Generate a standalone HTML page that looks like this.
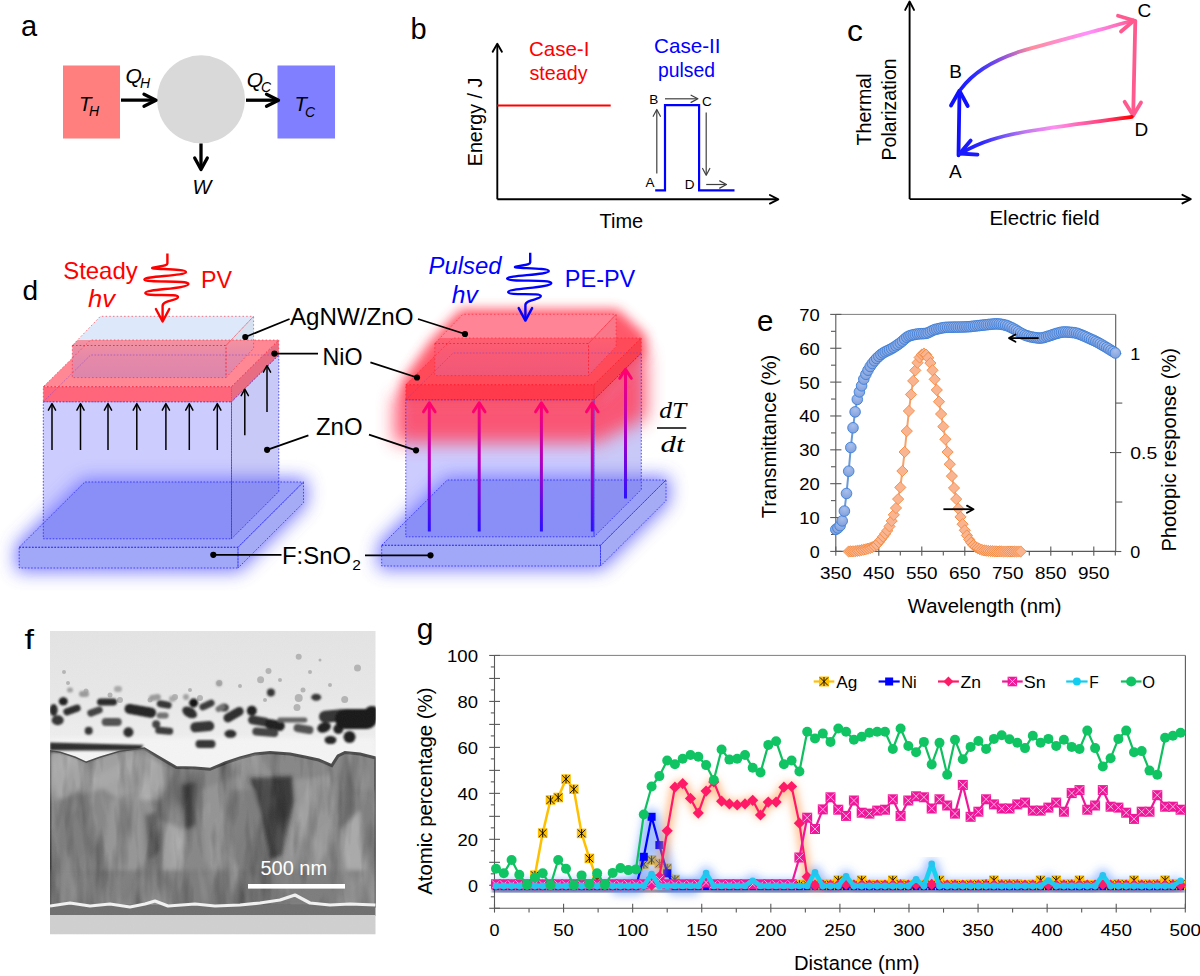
<!DOCTYPE html>
<html><head><meta charset="utf-8"><style>html,body{margin:0;padding:0;background:#fff;}svg{display:block;}</style></head><body><svg width="1200" height="976" viewBox="0 0 1200 976"><defs>
<filter id="blur2" x="-20%" y="-20%" width="140%" height="140%"><feGaussianBlur stdDeviation="2"/></filter>
<filter id="blur4" x="-30%" y="-30%" width="160%" height="160%"><feGaussianBlur stdDeviation="4"/></filter>
<filter id="blur6" x="-30%" y="-30%" width="160%" height="160%"><feGaussianBlur stdDeviation="6"/></filter>
<filter id="blur8" x="-40%" y="-40%" width="180%" height="180%"><feGaussianBlur stdDeviation="8"/></filter>
<filter id="blurR" x="-40%" y="-40%" width="180%" height="180%"><feGaussianBlur stdDeviation="9"/></filter>
<filter id="blur1" x="-20%" y="-20%" width="140%" height="140%"><feGaussianBlur stdDeviation="1"/></filter>
<filter id="blur05" x="-20%" y="-20%" width="140%" height="140%"><feGaussianBlur stdDeviation="0.6"/></filter>
<linearGradient id="gBC" gradientUnits="userSpaceOnUse" x1="960" y1="0" x2="1134" y2="0">
 <stop offset="0" stop-color="#1a1aff"/><stop offset="0.1" stop-color="#3030ff"/><stop offset="0.24" stop-color="#8a50e0"/>
 <stop offset="0.41" stop-color="#ff8c9c"/><stop offset="0.74" stop-color="#ff90ff"/><stop offset="1" stop-color="#ff5a90"/></linearGradient>
<linearGradient id="gDA" gradientUnits="userSpaceOnUse" x1="1132" y1="0" x2="960" y2="0">
 <stop offset="0" stop-color="#ff0000"/><stop offset="0.15" stop-color="#ff3a70"/><stop offset="0.45" stop-color="#ff90f0"/>
 <stop offset="0.62" stop-color="#c078f0"/><stop offset="0.76" stop-color="#6a50f8"/><stop offset="0.88" stop-color="#2a24ff"/><stop offset="1" stop-color="#1a1aff"/></linearGradient>
<linearGradient id="gArr" gradientUnits="objectBoundingBox" x1="0" y1="1" x2="0" y2="0">
 <stop offset="0" stop-color="#2a10ff"/><stop offset="0.55" stop-color="#b000c0"/><stop offset="1" stop-color="#ff0070"/></linearGradient>
<linearGradient id="gZnoR" gradientUnits="userSpaceOnUse" x1="0" y1="395" x2="0" y2="490">
 <stop offset="0" stop-color="#ff3050"/><stop offset="0.35" stop-color="#ff6078"/><stop offset="0.7" stop-color="#e0b0d8" stop-opacity="0.6"/><stop offset="1" stop-color="#ccccff" stop-opacity="0"/></linearGradient>
<linearGradient id="gAov" gradientUnits="objectBoundingBox" x1="0" y1="0" x2="0" y2="1">
 <stop offset="0" stop-color="#f3929f"/><stop offset="0.4" stop-color="#e78aa8"/><stop offset="1" stop-color="#dd85ac"/></linearGradient>
<linearGradient id="gAovR" gradientUnits="objectBoundingBox" x1="0" y1="0" x2="0" y2="1">
 <stop offset="0" stop-color="#ff5f70"/><stop offset="0.4" stop-color="#f85a74"/><stop offset="1" stop-color="#f05878"/></linearGradient>
<radialGradient id="gCirc" cx="0.5" cy="0.3" r="0.7">
 <stop offset="0" stop-color="#a9bfeb"/><stop offset="1" stop-color="#7f9fdc"/></radialGradient>
</defs>
<rect x="0" y="0" width="1200" height="976" fill="#fff"/>
<text x="21" y="36" font-family="Liberation Sans, sans-serif" font-size="29" fill="#000" >a</text>
<rect x="63" y="65.5" width="57" height="73" fill="#ff7f7f"/>
<rect x="277.5" y="65.5" width="57.5" height="73" fill="#7f7fff"/>
<circle cx="201" cy="99.3" r="44" fill="#d9d9d9"/>
<line x1="121" y1="100.2" x2="155" y2="100.2" stroke="#000" stroke-width="3.3" />
<path d="M144,94.2 L156,100.2 L144,106.2" stroke="#000" stroke-width="3.3" fill="none" stroke-linecap="round" stroke-linejoin="round"/>
<line x1="246" y1="100.2" x2="278" y2="100.2" stroke="#000" stroke-width="3.3" />
<path d="M266.5,94.2 L278.5,100.2 L266.5,106.2" stroke="#000" stroke-width="3.3" fill="none" stroke-linecap="round" stroke-linejoin="round"/>
<line x1="201" y1="143.5" x2="201" y2="168" stroke="#000" stroke-width="3.3" />
<path d="M194.7,158.0 L201,169.5 L207.3,158.0" stroke="#000" stroke-width="3.3" fill="none" stroke-linecap="round" stroke-linejoin="round"/>
<text x="79" y="111" font-family="Liberation Sans, sans-serif" font-size="21" fill="#000" font-style="italic" textLength="12.5" lengthAdjust="spacingAndGlyphs" >T</text>
<text x="89" y="115.7" font-family="Liberation Sans, sans-serif" font-size="14" fill="#000" font-style="italic" >H</text>
<text x="125.5" y="82.5" font-family="Liberation Sans, sans-serif" font-size="21" fill="#000" font-style="italic" >Q</text>
<text x="140" y="88" font-family="Liberation Sans, sans-serif" font-size="14" fill="#000" font-style="italic" >H</text>
<text x="246.8" y="86.8" font-family="Liberation Sans, sans-serif" font-size="21" fill="#000" font-style="italic" >Q</text>
<text x="261" y="92.3" font-family="Liberation Sans, sans-serif" font-size="14" fill="#000" font-style="italic" >C</text>
<text x="294.5" y="111" font-family="Liberation Sans, sans-serif" font-size="21" fill="#000" font-style="italic" textLength="12.5" lengthAdjust="spacingAndGlyphs" >T</text>
<text x="305" y="117" font-family="Liberation Sans, sans-serif" font-size="14" fill="#000" font-style="italic" >C</text>
<text x="192.5" y="194" font-family="Liberation Sans, sans-serif" font-size="20" fill="#000" font-style="italic" >W</text>
<text x="410.5" y="39" font-family="Liberation Sans, sans-serif" font-size="29" fill="#000" >b</text>
<line x1="497.3" y1="199.3" x2="497.3" y2="45" stroke="#000" stroke-width="1.9" />
<path d="M492.7,51.8 L497.3,43.8 L501.90000000000003,51.8" stroke="#000" stroke-width="1.9" fill="none" stroke-linecap="round" stroke-linejoin="round"/>
<line x1="497.3" y1="199.3" x2="776.5" y2="199.3" stroke="#000" stroke-width="1.9" />
<path d="M769.9,195.0 L778.3,199.3 L769.9,203.60000000000002" stroke="#000" stroke-width="1.9" fill="none" stroke-linecap="round" stroke-linejoin="round"/>
<line x1="497.3" y1="105.4" x2="610.7" y2="105.4" stroke="#ff0000" stroke-width="2" />
<path d="M655.2,190.3 L665,190.3 L665,105.2 L699.1,105.2 L699.1,190.3 L734.5,190.3" stroke="#0000ff" stroke-width="2.2" fill="none" />
<line x1="656.8" y1="173.4" x2="656.8" y2="110" stroke="#404040" stroke-width="1.2" />
<path d="M653.1999999999999,116.3 L656.8,109.5 L660.4,116.3" stroke="#404040" stroke-width="1.2" fill="none" stroke-linecap="round" stroke-linejoin="round"/>
<line x1="665" y1="98.8" x2="697" y2="98.8" stroke="#404040" stroke-width="1.2" />
<path d="M691.1,95.2 L697.9,98.8 L691.1,102.39999999999999" stroke="#404040" stroke-width="1.2" fill="none" stroke-linecap="round" stroke-linejoin="round"/>
<line x1="706.2" y1="112.6" x2="706.2" y2="174.5" stroke="#404040" stroke-width="1.2" />
<path d="M702.6,168.5 L706.2,175.3 L709.8000000000001,168.5" stroke="#404040" stroke-width="1.2" fill="none" stroke-linecap="round" stroke-linejoin="round"/>
<line x1="706.2" y1="184.5" x2="725.5" y2="184.5" stroke="#404040" stroke-width="1.2" />
<path d="M719.7,180.9 L726.5,184.5 L719.7,188.1" stroke="#404040" stroke-width="1.2" fill="none" stroke-linecap="round" stroke-linejoin="round"/>
<text x="649.2" y="103.6" font-family="Liberation Sans, sans-serif" font-size="13.5" fill="#000" >B</text>
<text x="702" y="106.4" font-family="Liberation Sans, sans-serif" font-size="13.5" fill="#000" >C</text>
<text x="645.5" y="187" font-family="Liberation Sans, sans-serif" font-size="13.5" fill="#000" >A</text>
<text x="684.8" y="189.4" font-family="Liberation Sans, sans-serif" font-size="13.5" fill="#000" >D</text>
<text x="529" y="55.9" font-family="Liberation Sans, sans-serif" font-size="21" fill="#ff0000" textLength="60.4" lengthAdjust="spacingAndGlyphs" >Case-I</text>
<text x="529.5" y="79.9" font-family="Liberation Sans, sans-serif" font-size="21" fill="#ff0000" textLength="58" lengthAdjust="spacingAndGlyphs" >steady</text>
<text x="654" y="52.75" font-family="Liberation Sans, sans-serif" font-size="21" fill="#0000ff" textLength="66.6" lengthAdjust="spacingAndGlyphs" >Case-II</text>
<text x="658" y="76.9" font-family="Liberation Sans, sans-serif" font-size="21" fill="#0000ff" textLength="57" lengthAdjust="spacingAndGlyphs" >pulsed</text>
<text x="0" y="0" transform="translate(482.3,166.2) rotate(-90)" font-family="Liberation Sans" font-size="21" textLength="88.6" lengthAdjust="spacingAndGlyphs">Energy / J</text>
<text x="599.5" y="227.5" font-family="Liberation Sans, sans-serif" font-size="21" fill="#000" textLength="43.7" lengthAdjust="spacingAndGlyphs" >Time</text>
<text x="847" y="40.7" font-family="Liberation Sans, sans-serif" font-size="29.5" fill="#000" textLength="15.9" lengthAdjust="spacingAndGlyphs" >c</text>
<line x1="909.6" y1="199" x2="909.6" y2="3" stroke="#000" stroke-width="1.9" />
<path d="M905.2,9.9 L909.6,1.5 L914.0,9.9" stroke="#000" stroke-width="1.9" fill="none" stroke-linecap="round" stroke-linejoin="round"/>
<line x1="909.6" y1="199.1" x2="1189" y2="199.1" stroke="#000" stroke-width="1.9" />
<path d="M1182.3999999999999,194.79999999999998 L1190.8,199.1 L1182.3999999999999,203.4" stroke="#000" stroke-width="1.9" fill="none" stroke-linecap="round" stroke-linejoin="round"/>
<text x="0" y="0" transform="translate(871.1,145.6) rotate(-90)" font-family="Liberation Sans" font-size="20.5" textLength="72.3" lengthAdjust="spacingAndGlyphs">Thermal</text>
<text x="0" y="0" transform="translate(895.7,160.4) rotate(-90)" font-family="Liberation Sans" font-size="20.5" textLength="102" lengthAdjust="spacingAndGlyphs">Polarization</text>
<text x="989.5" y="224.8" font-family="Liberation Sans, sans-serif" font-size="21" fill="#000" textLength="110" lengthAdjust="spacingAndGlyphs" >Electric field</text>
<text x="949.2" y="77.8" font-family="Liberation Sans, sans-serif" font-size="19" fill="#000" >B</text>
<text x="1137.6" y="17.2" font-family="Liberation Sans, sans-serif" font-size="19" fill="#000" >C</text>
<text x="949" y="177.5" font-family="Liberation Sans, sans-serif" font-size="19" fill="#000" >A</text>
<text x="1134.5" y="136.2" font-family="Liberation Sans, sans-serif" font-size="19" fill="#000" >D</text>
<path d="M958.5,155.3 L959.5,92" stroke="#1010ff" stroke-width="3.8" fill="none" stroke-linecap="round"/>
<path d="M951,105.5 L959.4,90.7 L967.7,106" stroke="#1010ff" stroke-width="3.8" fill="none" stroke-linecap="round" stroke-linejoin="round"/>
<path d="M961,89 C972,74 991,61 1020,51.5 C1060,40 1100,30 1133,20.5" stroke="url(#gBC)" stroke-width="3.8" fill="none" stroke-linecap="round"/>
<path d="M1118,15.8 L1134,20.5 L1121,31.5" stroke="#ff5a90" stroke-width="3.8" fill="none" stroke-linecap="round" stroke-linejoin="round"/>
<path d="M1135.3,20.8 L1133.2,115" stroke="#ff5a90" stroke-width="3.8" fill="none" stroke-linecap="round"/>
<path d="M1124.6,101.8 L1133.2,115.4 L1141,102.5" stroke="#ff5a90" stroke-width="3.8" fill="none" stroke-linecap="round" stroke-linejoin="round"/>
<path d="M1131.8,116.8 C1100,121 1060,126 1030,131 C1000,136 980,142 960.5,153.5" stroke="url(#gDA)" stroke-width="3.8" fill="none" stroke-linecap="round"/>
<path d="M970.7,140.6 L959.7,153.5 L977.5,154.7" stroke="#1a1aff" stroke-width="3.8" fill="none" stroke-linecap="round" stroke-linejoin="round"/>
<text x="22.5" y="299.6" font-family="Liberation Sans, sans-serif" font-size="28" fill="#000" >d</text>
<polygon points="19.2,568.0 238.0,568.0 303.5,502.7 303.5,482.0 84.8,482.0 19.2,547.3" fill="#5c5cff" stroke="#5c5cff" stroke-width="7" stroke-linejoin="round" opacity="0.82" filter="url(#blurR)"/>
<polygon points="19.2,547.3 238.0,547.3 303.5,482.0 84.8,482.0" fill="#9ba1f6" />
<polygon points="19.2,547.3 238.0,547.3 238.0,568.0 19.2,568.0" fill="#a2a8f8" />
<polygon points="238.0,547.3 303.5,482.0 303.5,502.7 238.0,568.0" fill="#a6abf6" />
<polygon points="43.3,401.8 231.5,401.8 231.5,538.8 43.3,538.8" fill="#8080ff" fill-opacity="0.4"/>
<polygon points="231.5,401.8 278.8,355.0 278.8,491.5 231.5,538.8" fill="#7878ee" fill-opacity="0.4"/>
<polygon points="84.8,482.0 231.5,482.0 231.5,538.8 43.3,538.8 43.3,523.3" fill="#8a8ff7" />
<polygon points="231.5,482.0 278.8,482.0 278.8,491.5 231.5,538.8" fill="#8c8ff2" />
<polygon points="43.3,401.8 231.5,401.8 278.8,355.0 90.6,355.0" fill="#8080ff" fill-opacity="0.4"/>
<polygon points="43.3,386.7 231.5,386.7 278.8,340.0 90.6,340.0" fill="#ff8894" />
<polygon points="77.6,340.0 231.2,340.0 253.6,316.3 100.4,316.3" fill="#dde9fa" />
<polygon points="231.2,340.0 253.6,316.3 253.6,340.0" fill="#d5e0f0" />
<polygon points="77.6,340.0 253.6,340.0 253.6,348.4 226.0,377.6 72.3,377.6 72.3,345.5" fill="url(#gAov)" />
<polygon points="43.3,386.7 231.5,386.7 231.5,401.8 43.3,401.8" fill="#ff667c" />
<polygon points="231.5,386.7 278.8,340.0 278.8,355.0 231.5,401.8" fill="#e86c82" />
<path d="M19.2,547.3 L238.0,547.3 L303.5,482.0 L84.8,482.0 Z" stroke="#2a2aff" stroke-width="0.9" fill="none" stroke-dasharray="1.6 1.6" opacity="0.9"/>
<path d="M19.2,547.3 L238.0,547.3 L238.0,568.0 L19.2,568.0 Z" stroke="#2a2aff" stroke-width="0.9" fill="none" stroke-dasharray="1.6 1.6" opacity="0.9"/>
<path d="M238.0,547.3 L303.5,482.0 L303.5,502.7 L238.0,568.0 Z" stroke="#2a2aff" stroke-width="0.9" fill="none" stroke-dasharray="1.6 1.6" opacity="0.9"/>
<path d="M43.3,401.8 L231.5,401.8 L231.5,538.8 L43.3,538.8 Z" stroke="#2a2aff" stroke-width="0.9" fill="none" stroke-dasharray="1.6 1.6" opacity="0.9"/>
<path d="M231.5,401.8 L278.8,355.0 L278.8,491.5 L231.5,538.8 Z" stroke="#2a2aff" stroke-width="0.9" fill="none" stroke-dasharray="1.6 1.6" opacity="0.9"/>
<path d="M43.3,401.8 L90.6,355.0 L278.8,355.0" stroke="#7a40d0" stroke-width="0.9" fill="none" stroke-dasharray="1.6 1.6" opacity="0.6"/>
<path d="M43.3,386.7 L231.5,386.7 L278.8,340.0 L90.6,340.0 Z" stroke="#ff1a2a" stroke-width="0.8" fill="none" stroke-dasharray="1.5 2.2" opacity="0.75"/>
<path d="M43.3,386.7 L231.5,386.7 L231.5,401.8 L43.3,401.8 Z" stroke="#ff1a2a" stroke-width="0.8" fill="none" stroke-dasharray="1.5 2.2" opacity="0.75"/>
<path d="M231.5,386.7 L278.8,340.0 L278.8,355.0 L231.5,401.8 Z" stroke="#ff1a2a" stroke-width="0.8" fill="none" stroke-dasharray="1.5 2.2" opacity="0.75"/>
<path d="M72.3,345.5 L226.0,345.5 L253.6,316.3 L100.4,316.3 Z" stroke="#ff1a2a" stroke-width="0.8" fill="none" stroke-dasharray="1.5 2.2" opacity="0.75"/>
<path d="M72.3,345.5 L226.0,345.5 L226.0,377.6 L72.3,377.6 Z" stroke="#ff1a2a" stroke-width="0.8" fill="none" stroke-dasharray="1.5 2.2" opacity="0.75"/>
<path d="M226.0,345.5 L253.6,316.3 L253.6,348.4 L226.0,377.6 Z" stroke="#ff1a2a" stroke-width="0.8" fill="none" stroke-dasharray="1.5 2.2" opacity="0.75"/>
<polygon points="381.7,566.0 600.5,566.0 666.0,500.7 666.0,480.0 447.3,480.0 381.7,545.3" fill="#5c5cff" stroke="#5c5cff" stroke-width="7" stroke-linejoin="round" opacity="0.82" filter="url(#blurR)"/>
<polygon points="381.7,545.3 600.5,545.3 666.0,480.0 447.3,480.0" fill="#9ba1f6" />
<polygon points="381.7,545.3 600.5,545.3 600.5,566.0 381.7,566.0" fill="#a2a8f8" />
<polygon points="600.5,545.3 666.0,480.0 666.0,500.7 600.5,566.0" fill="#a6abf6" />
<polygon points="405.8,399.8 594.0,399.8 594.0,536.8 405.8,536.8" fill="#8080ff" fill-opacity="0.4"/>
<polygon points="594.0,399.8 641.3,353.0 641.3,489.5 594.0,536.8" fill="#7878ee" fill-opacity="0.4"/>
<polygon points="447.3,480.0 594.0,480.0 594.0,536.8 405.8,536.8 405.8,521.3" fill="#8a8ff7" />
<polygon points="594.0,480.0 641.3,480.0 641.3,489.5 594.0,536.8" fill="#8c8ff2" />
<polygon points="394.5,396.0 596.5,396.0 646.5,348.0 646.5,418.0 596.5,443.0 394.5,443.0" fill="#ff4a66" opacity="0.9" filter="url(#blurR)"/>
<polygon points="405.8,399.8 594.0,399.8 641.3,353.0 641.3,338.0 616.1,314.3 462.9,314.3 434.8,343.5 405.8,384.7" fill="#ff3a50" stroke="#ff3a50" stroke-width="10" stroke-linejoin="round" opacity="0.85" filter="url(#blur6)"/>
<polygon points="405.8,384.7 594.0,384.7 641.3,338.0 453.1,338.0" fill="#ff4a5a" />
<polygon points="440.1,338.0 593.7,338.0 616.1,314.3 462.9,314.3" fill="#ff8596" />
<polygon points="593.7,338.0 616.1,314.3 616.1,338.0" fill="#f8788a" />
<polygon points="440.1,338.0 616.1,338.0 616.1,346.4 588.5,375.6 434.8,375.6 434.8,343.5" fill="url(#gAovR)" />
<polygon points="405.8,384.7 594.0,384.7 594.0,399.8 405.8,399.8" fill="#ff3a4c" />
<polygon points="594.0,384.7 641.3,338.0 641.3,353.0 594.0,399.8" fill="#f8404e" />
<path d="M381.7,545.3 L600.5,545.3 L666.0,480.0 L447.3,480.0 Z" stroke="#2a2aff" stroke-width="0.9" fill="none" stroke-dasharray="1.6 1.6" opacity="0.9"/>
<path d="M381.7,545.3 L600.5,545.3 L600.5,566.0 L381.7,566.0 Z" stroke="#2a2aff" stroke-width="0.9" fill="none" stroke-dasharray="1.6 1.6" opacity="0.9"/>
<path d="M600.5,545.3 L666.0,480.0 L666.0,500.7 L600.5,566.0 Z" stroke="#2a2aff" stroke-width="0.9" fill="none" stroke-dasharray="1.6 1.6" opacity="0.9"/>
<path d="M405.8,399.8 L594.0,399.8 L594.0,536.8 L405.8,536.8 Z" stroke="#2a2aff" stroke-width="0.9" fill="none" stroke-dasharray="1.6 1.6" opacity="0.9"/>
<path d="M594.0,399.8 L641.3,353.0 L641.3,489.5 L594.0,536.8 Z" stroke="#2a2aff" stroke-width="0.9" fill="none" stroke-dasharray="1.6 1.6" opacity="0.9"/>
<path d="M405.8,399.8 L453.1,353.0 L641.3,353.0" stroke="#7a40d0" stroke-width="0.9" fill="none" stroke-dasharray="1.6 1.6" opacity="0.6"/>
<path d="M405.8,384.7 L594.0,384.7 L641.3,338.0 L453.1,338.0 Z" stroke="#ff1a2a" stroke-width="0.8" fill="none" stroke-dasharray="1.5 2.2" opacity="0.75"/>
<path d="M405.8,384.7 L594.0,384.7 L594.0,399.8 L405.8,399.8 Z" stroke="#ff1a2a" stroke-width="0.8" fill="none" stroke-dasharray="1.5 2.2" opacity="0.75"/>
<path d="M594.0,384.7 L641.3,338.0 L641.3,353.0 L594.0,399.8 Z" stroke="#ff1a2a" stroke-width="0.8" fill="none" stroke-dasharray="1.5 2.2" opacity="0.75"/>
<path d="M434.8,343.5 L588.5,343.5 L616.1,314.3 L462.9,314.3 Z" stroke="#ff1a2a" stroke-width="0.8" fill="none" stroke-dasharray="1.5 2.2" opacity="0.75"/>
<path d="M434.8,343.5 L588.5,343.5 L588.5,375.6 L434.8,375.6 Z" stroke="#ff1a2a" stroke-width="0.8" fill="none" stroke-dasharray="1.5 2.2" opacity="0.75"/>
<path d="M588.5,343.5 L616.1,314.3 L616.1,346.4 L588.5,375.6 Z" stroke="#ff1a2a" stroke-width="0.8" fill="none" stroke-dasharray="1.5 2.2" opacity="0.75"/>
<line x1="52" y1="450" x2="52" y2="404.5" stroke="#000" stroke-width="1.5" />
<path d="M48.4,410.1 L52,403.6 L55.6,410.1" stroke="#000" stroke-width="1.5" fill="none" stroke-linecap="round" stroke-linejoin="round"/>
<line x1="80.5" y1="450" x2="80.5" y2="404.5" stroke="#000" stroke-width="1.5" />
<path d="M76.9,410.1 L80.5,403.6 L84.1,410.1" stroke="#000" stroke-width="1.5" fill="none" stroke-linecap="round" stroke-linejoin="round"/>
<line x1="108" y1="450" x2="108" y2="404.5" stroke="#000" stroke-width="1.5" />
<path d="M104.4,410.1 L108,403.6 L111.6,410.1" stroke="#000" stroke-width="1.5" fill="none" stroke-linecap="round" stroke-linejoin="round"/>
<line x1="136.8" y1="450" x2="136.8" y2="404.5" stroke="#000" stroke-width="1.5" />
<path d="M133.20000000000002,410.1 L136.8,403.6 L140.4,410.1" stroke="#000" stroke-width="1.5" fill="none" stroke-linecap="round" stroke-linejoin="round"/>
<line x1="165.9" y1="450" x2="165.9" y2="404.5" stroke="#000" stroke-width="1.5" />
<path d="M162.3,410.1 L165.9,403.6 L169.5,410.1" stroke="#000" stroke-width="1.5" fill="none" stroke-linecap="round" stroke-linejoin="round"/>
<line x1="189.3" y1="450" x2="189.3" y2="404.5" stroke="#000" stroke-width="1.5" />
<path d="M185.70000000000002,410.1 L189.3,403.6 L192.9,410.1" stroke="#000" stroke-width="1.5" fill="none" stroke-linecap="round" stroke-linejoin="round"/>
<line x1="217.3" y1="450" x2="217.3" y2="404.5" stroke="#000" stroke-width="1.5" />
<path d="M213.70000000000002,410.1 L217.3,403.6 L220.9,410.1" stroke="#000" stroke-width="1.5" fill="none" stroke-linecap="round" stroke-linejoin="round"/>
<line x1="244.8" y1="435.2" x2="244.8" y2="390.2" stroke="#000" stroke-width="1.5" />
<path d="M241.20000000000002,395.7 L244.8,389.2 L248.4,395.7" stroke="#000" stroke-width="1.5" fill="none" stroke-linecap="round" stroke-linejoin="round"/>
<line x1="267" y1="412" x2="267" y2="366.7" stroke="#000" stroke-width="1.5" />
<path d="M263.4,372.2 L267,365.7 L270.6,372.2" stroke="#000" stroke-width="1.5" fill="none" stroke-linecap="round" stroke-linejoin="round"/>
<rect x="427.8" y="403.8" width="3" height="127.69999999999999" fill="url(#gArr)"/>
<path d="M423.5,411.8 L429.3,402.8 L435.1,411.8" stroke="#ff0070" stroke-width="3" fill="none" stroke-linecap="round" stroke-linejoin="round"/>
<rect x="477.7" y="403.8" width="3" height="127.69999999999999" fill="url(#gArr)"/>
<path d="M473.4,411.8 L479.2,402.8 L485.0,411.8" stroke="#ff0070" stroke-width="3" fill="none" stroke-linecap="round" stroke-linejoin="round"/>
<rect x="539.9" y="403.8" width="3" height="127.69999999999999" fill="url(#gArr)"/>
<path d="M535.6,411.8 L541.4,402.8 L547.1999999999999,411.8" stroke="#ff0070" stroke-width="3" fill="none" stroke-linecap="round" stroke-linejoin="round"/>
<rect x="590.8" y="403.8" width="3" height="127.69999999999999" fill="url(#gArr)"/>
<path d="M586.5,411.8 L592.3,402.8 L598.0999999999999,411.8" stroke="#ff0070" stroke-width="3" fill="none" stroke-linecap="round" stroke-linejoin="round"/>
<rect x="624.0" y="370.3" width="3" height="128.2" fill="url(#gArr)"/>
<path d="M619.7,378.3 L625.5,369.3 L631.3,378.3" stroke="#ff0070" stroke-width="3" fill="none" stroke-linecap="round" stroke-linejoin="round"/>
<path d="M167.4,253.6 L167.4,263.5 C167.4,266 160,266 153,267.6 C146,269.5 186,268.5 186,272 C186,276 144,276 144.4,279.5 C145,283 189,280 188.5,284 C188,289 145,289 145.3,293 C146,297 178,293 178,297 C178,301 162.6,300 162.6,306 L162.6,320" stroke="#ff0000" stroke-width="2.4" fill="none" stroke-linejoin="round"/>
<path d="M155.9,309.0 L162.6,321.5 L169.29999999999998,309.0" stroke="#ff0000" stroke-width="2.4" fill="none" stroke-linecap="round" stroke-linejoin="round"/>
<path d="M530.2,252.7 L530.2,262.6 C530.2,265.1 522.8,265.1 515.8,266.70000000000005 C508.8,268.6 548.8,267.6 548.8,271.1 C548.8,275.1 506.8,275.1 507.20000000000005,278.6 C507.8,282.1 551.8,279.1 551.3,283.1 C550.8,288.1 507.8,288.1 508.1,292.1 C508.8,296.1 540.8,292.1 540.8,296.1 C540.8,300.1 525.4,299.1 525.4,305.1 L525.4,319.1" stroke="#0000ff" stroke-width="2.4" fill="none" stroke-linejoin="round"/>
<path d="M518.6999999999999,308.1 L525.4,320.6 L532.1,308.1" stroke="#0000ff" stroke-width="2.4" fill="none" stroke-linecap="round" stroke-linejoin="round"/>
<text x="63.2" y="278.5" font-family="Liberation Sans, sans-serif" font-size="24" fill="#ff0000" textLength="74.5" lengthAdjust="spacingAndGlyphs" >Steady</text>
<text x="88" y="307.3" font-family="Liberation Sans, sans-serif" font-size="24" fill="#ff0000" font-style="italic" textLength="27" lengthAdjust="spacingAndGlyphs" >hv</text>
<text x="201" y="288.1" font-family="Liberation Sans, sans-serif" font-size="24" fill="#ff0000" textLength="31" lengthAdjust="spacingAndGlyphs" >PV</text>
<text x="428.5" y="273.8" font-family="Liberation Sans, sans-serif" font-size="24" fill="#0000ff" font-style="italic" textLength="73" lengthAdjust="spacingAndGlyphs" >Pulsed</text>
<text x="451.8" y="302.5" font-family="Liberation Sans, sans-serif" font-size="24" fill="#0000ff" font-style="italic" textLength="26" lengthAdjust="spacingAndGlyphs" >hv</text>
<text x="564.8" y="287.2" font-family="Liberation Sans, sans-serif" font-size="24" fill="#0000ff" textLength="70.5" lengthAdjust="spacingAndGlyphs" >PE-PV</text>
<text x="290" y="325.4" font-family="Liberation Sans, sans-serif" font-size="24" fill="#000" textLength="123.5" lengthAdjust="spacingAndGlyphs" >AgNW/ZnO</text>
<text x="322.5" y="365" font-family="Liberation Sans, sans-serif" font-size="24" fill="#000" textLength="40" lengthAdjust="spacingAndGlyphs" >NiO</text>
<text x="316" y="434.5" font-family="Liberation Sans, sans-serif" font-size="24" fill="#000" textLength="46.5" lengthAdjust="spacingAndGlyphs" >ZnO</text>
<text x="282" y="563.8" font-family="Liberation Sans, sans-serif" font-size="24.5" fill="#000" textLength="69" lengthAdjust="spacingAndGlyphs" >F:SnO</text>
<text x="352.3" y="569.7" font-family="Liberation Sans, sans-serif" font-size="15.5" fill="#000" >2</text>
<line x1="289.6" y1="319" x2="245.3" y2="337" stroke="#000" stroke-width="1.8" />
<circle cx="245.3" cy="337" r="3.1" fill="#000"/>
<line x1="418" y1="319" x2="465" y2="334" stroke="#000" stroke-width="1.8" />
<circle cx="465" cy="334" r="3.1" fill="#000"/>
<line x1="318" y1="353.6" x2="274.4" y2="353.6" stroke="#000" stroke-width="1.8" />
<circle cx="274.4" cy="353.6" r="3.1" fill="#000"/>
<line x1="370.4" y1="362.4" x2="417" y2="377.5" stroke="#000" stroke-width="1.8" />
<circle cx="417" cy="377.5" r="3.1" fill="#000"/>
<line x1="308.4" y1="435.4" x2="267.1" y2="449.8" stroke="#000" stroke-width="1.8" />
<circle cx="267.1" cy="449.8" r="3.1" fill="#000"/>
<line x1="369" y1="434.7" x2="416" y2="450.3" stroke="#000" stroke-width="1.8" />
<circle cx="416" cy="450.3" r="3.1" fill="#000"/>
<line x1="281.5" y1="554.8" x2="213.3" y2="554.8" stroke="#000" stroke-width="1.8" />
<circle cx="213.3" cy="554.8" r="3.1" fill="#000"/>
<line x1="365" y1="555.3" x2="430.5" y2="555.3" stroke="#000" stroke-width="1.8" />
<circle cx="430.5" cy="555.3" r="3.1" fill="#000"/>
<text x="659.2" y="418.2" font-family="Liberation Serif" font-size="24" fill="#000" font-style="italic" textLength="27" lengthAdjust="spacingAndGlyphs" >dT</text>
<line x1="657" y1="428" x2="686.3" y2="428" stroke="#000" stroke-width="1.5" />
<text x="660.5" y="451.5" font-family="Liberation Serif" font-size="24" fill="#000" font-style="italic" textLength="24" lengthAdjust="spacingAndGlyphs" >dt</text>
<text x="757" y="331" font-family="Liberation Sans, sans-serif" font-size="29.5" fill="#000" >e</text>
<line x1="835.8" y1="314.4" x2="1115.7" y2="314.4" stroke="#7f7f7f" stroke-width="1" />
<line x1="835.8" y1="314.4" x2="835.8" y2="551.4" stroke="#595959" stroke-width="1.1" />
<line x1="1115.7" y1="314.4" x2="1115.7" y2="551.4" stroke="#595959" stroke-width="1.1" />
<line x1="835.8" y1="551.4" x2="1115.7" y2="551.4" stroke="#595959" stroke-width="1.1" />
<line x1="830.2" y1="551.4" x2="841.4" y2="551.4" stroke="#595959" stroke-width="1.1" />
<line x1="831.0" y1="534.4715" x2="835.8" y2="534.4715" stroke="#595959" stroke-width="1.1" />
<text x="819.8" y="557.8" font-family="Liberation Sans, sans-serif" font-size="16.5" fill="#000" textLength="10" lengthAdjust="spacingAndGlyphs" text-anchor="end" >0</text>
<line x1="830.2" y1="517.543" x2="841.4" y2="517.543" stroke="#595959" stroke-width="1.1" />
<line x1="831.0" y1="500.61449999999996" x2="835.8" y2="500.61449999999996" stroke="#595959" stroke-width="1.1" />
<text x="819.8" y="523.943" font-family="Liberation Sans, sans-serif" font-size="16.5" fill="#000" textLength="20.5" lengthAdjust="spacingAndGlyphs" text-anchor="end" >10</text>
<line x1="830.2" y1="483.686" x2="841.4" y2="483.686" stroke="#595959" stroke-width="1.1" />
<line x1="831.0" y1="466.7575" x2="835.8" y2="466.7575" stroke="#595959" stroke-width="1.1" />
<text x="819.8" y="490.08599999999996" font-family="Liberation Sans, sans-serif" font-size="16.5" fill="#000" textLength="20.5" lengthAdjust="spacingAndGlyphs" text-anchor="end" >20</text>
<line x1="830.2" y1="449.82899999999995" x2="841.4" y2="449.82899999999995" stroke="#595959" stroke-width="1.1" />
<line x1="831.0" y1="432.90049999999997" x2="835.8" y2="432.90049999999997" stroke="#595959" stroke-width="1.1" />
<text x="819.8" y="456.2289999999999" font-family="Liberation Sans, sans-serif" font-size="16.5" fill="#000" textLength="20.5" lengthAdjust="spacingAndGlyphs" text-anchor="end" >30</text>
<line x1="830.2" y1="415.972" x2="841.4" y2="415.972" stroke="#595959" stroke-width="1.1" />
<line x1="831.0" y1="399.0435" x2="835.8" y2="399.0435" stroke="#595959" stroke-width="1.1" />
<text x="819.8" y="422.37199999999996" font-family="Liberation Sans, sans-serif" font-size="16.5" fill="#000" textLength="20.5" lengthAdjust="spacingAndGlyphs" text-anchor="end" >40</text>
<line x1="830.2" y1="382.115" x2="841.4" y2="382.115" stroke="#595959" stroke-width="1.1" />
<line x1="831.0" y1="365.18649999999997" x2="835.8" y2="365.18649999999997" stroke="#595959" stroke-width="1.1" />
<text x="819.8" y="388.515" font-family="Liberation Sans, sans-serif" font-size="16.5" fill="#000" textLength="20.5" lengthAdjust="spacingAndGlyphs" text-anchor="end" >50</text>
<line x1="830.2" y1="348.258" x2="841.4" y2="348.258" stroke="#595959" stroke-width="1.1" />
<line x1="831.0" y1="331.3295" x2="835.8" y2="331.3295" stroke="#595959" stroke-width="1.1" />
<text x="819.8" y="354.65799999999996" font-family="Liberation Sans, sans-serif" font-size="16.5" fill="#000" textLength="20.5" lengthAdjust="spacingAndGlyphs" text-anchor="end" >60</text>
<line x1="830.2" y1="314.40099999999995" x2="841.4" y2="314.40099999999995" stroke="#595959" stroke-width="1.1" />
<text x="819.8" y="320.80099999999993" font-family="Liberation Sans, sans-serif" font-size="16.5" fill="#000" textLength="20.5" lengthAdjust="spacingAndGlyphs" text-anchor="end" >70</text>
<line x1="1110" y1="551.5" x2="1121.3" y2="551.5" stroke="#595959" stroke-width="1.1" />
<line x1="1110" y1="452.55" x2="1121.3" y2="452.55" stroke="#595959" stroke-width="1.1" />
<line x1="1110" y1="353.6" x2="1121.3" y2="353.6" stroke="#595959" stroke-width="1.1" />
<line x1="1115.7" y1="502.025" x2="1122.3" y2="502.025" stroke="#595959" stroke-width="1.1" />
<line x1="1115.7" y1="403.075" x2="1122.3" y2="403.075" stroke="#595959" stroke-width="1.1" />
<text x="1130.2" y="359.8" font-family="Liberation Sans, sans-serif" font-size="16.5" fill="#000" textLength="10" lengthAdjust="spacingAndGlyphs" >1</text>
<text x="1130.2" y="458.75" font-family="Liberation Sans, sans-serif" font-size="16.5" fill="#000" textLength="27" lengthAdjust="spacingAndGlyphs" >0.5</text>
<text x="1130.2" y="557.7" font-family="Liberation Sans, sans-serif" font-size="16.5" fill="#000" textLength="10" lengthAdjust="spacingAndGlyphs" >0</text>
<line x1="835.8" y1="546.4" x2="835.8" y2="555.8" stroke="#595959" stroke-width="1.1" />
<text x="835.8" y="579.1" font-family="Liberation Sans, sans-serif" font-size="16.5" fill="#000" textLength="31.5" lengthAdjust="spacingAndGlyphs" text-anchor="middle" >350</text>
<line x1="857.3" y1="551.4" x2="857.3" y2="555.6" stroke="#595959" stroke-width="1.1" />
<line x1="878.8" y1="546.4" x2="878.8" y2="555.8" stroke="#595959" stroke-width="1.1" />
<text x="878.8" y="579.1" font-family="Liberation Sans, sans-serif" font-size="16.5" fill="#000" textLength="31.5" lengthAdjust="spacingAndGlyphs" text-anchor="middle" >450</text>
<line x1="900.3" y1="551.4" x2="900.3" y2="555.6" stroke="#595959" stroke-width="1.1" />
<line x1="921.8" y1="546.4" x2="921.8" y2="555.8" stroke="#595959" stroke-width="1.1" />
<text x="921.8" y="579.1" font-family="Liberation Sans, sans-serif" font-size="16.5" fill="#000" textLength="31.5" lengthAdjust="spacingAndGlyphs" text-anchor="middle" >550</text>
<line x1="943.3" y1="551.4" x2="943.3" y2="555.6" stroke="#595959" stroke-width="1.1" />
<line x1="964.8" y1="546.4" x2="964.8" y2="555.8" stroke="#595959" stroke-width="1.1" />
<text x="964.8" y="579.1" font-family="Liberation Sans, sans-serif" font-size="16.5" fill="#000" textLength="31.5" lengthAdjust="spacingAndGlyphs" text-anchor="middle" >650</text>
<line x1="986.3" y1="551.4" x2="986.3" y2="555.6" stroke="#595959" stroke-width="1.1" />
<line x1="1007.8" y1="546.4" x2="1007.8" y2="555.8" stroke="#595959" stroke-width="1.1" />
<text x="1007.8" y="579.1" font-family="Liberation Sans, sans-serif" font-size="16.5" fill="#000" textLength="31.5" lengthAdjust="spacingAndGlyphs" text-anchor="middle" >750</text>
<line x1="1029.3" y1="551.4" x2="1029.3" y2="555.6" stroke="#595959" stroke-width="1.1" />
<line x1="1050.8" y1="546.4" x2="1050.8" y2="555.8" stroke="#595959" stroke-width="1.1" />
<text x="1050.8" y="579.1" font-family="Liberation Sans, sans-serif" font-size="16.5" fill="#000" textLength="31.5" lengthAdjust="spacingAndGlyphs" text-anchor="middle" >850</text>
<line x1="1072.3" y1="551.4" x2="1072.3" y2="555.6" stroke="#595959" stroke-width="1.1" />
<line x1="1093.8" y1="546.4" x2="1093.8" y2="555.8" stroke="#595959" stroke-width="1.1" />
<text x="1093.8" y="579.1" font-family="Liberation Sans, sans-serif" font-size="16.5" fill="#000" textLength="31.5" lengthAdjust="spacingAndGlyphs" text-anchor="middle" >950</text>
<line x1="1115.3" y1="551.4" x2="1115.3" y2="555.6" stroke="#595959" stroke-width="1.1" />
<text x="0" y="0" transform="translate(776,518.2) rotate(-90)" font-family="Liberation Sans" font-size="20.5" textLength="163.4" lengthAdjust="spacingAndGlyphs">Transmittance (%)</text>
<text x="0" y="0" transform="translate(1175.8,551.6) rotate(-90)" font-family="Liberation Sans" font-size="21" textLength="203.6" lengthAdjust="spacingAndGlyphs">Photopic response (%)</text>
<text x="907.8" y="613" font-family="Liberation Sans, sans-serif" font-size="20.5" fill="#000" textLength="153.8" lengthAdjust="spacingAndGlyphs" >Wavelength (nm)</text>
<polyline points="835.8,529.4 837.9,528.0 840.1,525.7 842.2,520.9 844.4,511.1 846.5,493.5 848.7,471.2 850.8,447.5 853.0,427.8 855.1,411.9 857.3,399.4 859.4,391.9 861.6,385.8 863.8,379.1 865.9,374.3 868.0,370.2 870.2,366.5 872.3,363.5 874.5,360.8 876.6,358.4 878.8,356.4 880.9,354.5 883.1,353.0 885.2,351.8 887.4,350.7 889.5,349.7 891.7,348.6 893.8,347.3 896.0,345.9 898.1,344.4 900.3,342.8 902.4,341.1 904.6,339.1 906.8,337.3 908.9,336.1 911.0,335.4 913.2,334.8 915.3,334.4 917.5,334.0 919.6,333.8 921.8,333.7 923.9,333.6 926.1,333.4 928.2,332.7 930.4,331.6 932.5,330.5 934.7,329.6 936.8,329.1 939.0,328.6 941.1,328.1 943.3,327.7 945.4,327.4 947.6,327.3 949.8,327.2 951.9,327.2 954.0,327.1 956.2,327.1 958.3,327.1 960.5,327.0 962.6,327.0 964.8,326.9 966.9,326.8 969.1,326.7 971.2,326.5 973.4,326.2 975.5,326.0 977.7,325.7 979.8,325.5 982.0,325.2 984.1,325.0 986.3,324.8 988.4,324.5 990.6,324.3 992.8,324.1 994.9,323.9 997.0,323.9 999.2,324.0 1001.3,324.3 1003.5,324.7 1005.6,325.2 1007.8,325.9 1009.9,326.9 1012.1,327.9 1014.2,329.1 1016.4,330.3 1018.5,331.7 1020.7,333.0 1022.8,334.1 1025.0,335.1 1027.1,335.8 1029.3,336.5 1031.5,337.0 1033.6,337.4 1035.8,337.7 1037.9,338.0 1040.0,338.1 1042.2,337.9 1044.3,337.4 1046.5,336.7 1048.6,336.1 1050.8,335.4 1053.0,334.6 1055.1,333.9 1057.2,333.3 1059.4,332.7 1061.5,332.2 1063.7,332.0 1065.8,332.0 1068.0,332.1 1070.1,332.3 1072.3,332.5 1074.5,332.7 1076.6,333.2 1078.8,333.9 1080.9,334.7 1083.0,335.6 1085.2,336.5 1087.3,337.5 1089.5,338.5 1091.6,339.5 1093.8,340.4 1095.9,341.5 1098.1,342.6 1100.2,343.8 1102.4,345.1 1104.5,346.3 1106.7,347.6 1108.8,348.9 1111.0,350.3 1113.2,351.6 1115.3,353.0" fill="none" stroke="#6a9ad8" stroke-width="2"/>
<circle cx="835.8" cy="529.4" r="5.3" fill="url(#gCirc)" stroke="#3d7fd8" stroke-width="0.9"/>
<circle cx="837.9" cy="528.0" r="5.3" fill="url(#gCirc)" stroke="#3d7fd8" stroke-width="0.9"/>
<circle cx="840.1" cy="525.7" r="5.3" fill="url(#gCirc)" stroke="#3d7fd8" stroke-width="0.9"/>
<circle cx="842.2" cy="520.9" r="5.3" fill="url(#gCirc)" stroke="#3d7fd8" stroke-width="0.9"/>
<circle cx="844.4" cy="511.1" r="5.3" fill="url(#gCirc)" stroke="#3d7fd8" stroke-width="0.9"/>
<circle cx="846.5" cy="493.5" r="5.3" fill="url(#gCirc)" stroke="#3d7fd8" stroke-width="0.9"/>
<circle cx="848.7" cy="471.2" r="5.3" fill="url(#gCirc)" stroke="#3d7fd8" stroke-width="0.9"/>
<circle cx="850.8" cy="447.5" r="5.3" fill="url(#gCirc)" stroke="#3d7fd8" stroke-width="0.9"/>
<circle cx="853.0" cy="427.8" r="5.3" fill="url(#gCirc)" stroke="#3d7fd8" stroke-width="0.9"/>
<circle cx="855.1" cy="411.9" r="5.3" fill="url(#gCirc)" stroke="#3d7fd8" stroke-width="0.9"/>
<circle cx="857.3" cy="399.4" r="5.3" fill="url(#gCirc)" stroke="#3d7fd8" stroke-width="0.9"/>
<circle cx="859.4" cy="391.9" r="5.3" fill="url(#gCirc)" stroke="#3d7fd8" stroke-width="0.9"/>
<circle cx="861.6" cy="385.8" r="5.3" fill="url(#gCirc)" stroke="#3d7fd8" stroke-width="0.9"/>
<circle cx="863.8" cy="379.1" r="5.3" fill="url(#gCirc)" stroke="#3d7fd8" stroke-width="0.9"/>
<circle cx="865.9" cy="374.3" r="5.3" fill="url(#gCirc)" stroke="#3d7fd8" stroke-width="0.9"/>
<circle cx="868.0" cy="370.2" r="5.3" fill="url(#gCirc)" stroke="#3d7fd8" stroke-width="0.9"/>
<circle cx="870.2" cy="366.5" r="5.3" fill="url(#gCirc)" stroke="#3d7fd8" stroke-width="0.9"/>
<circle cx="872.3" cy="363.5" r="5.3" fill="url(#gCirc)" stroke="#3d7fd8" stroke-width="0.9"/>
<circle cx="874.5" cy="360.8" r="5.3" fill="url(#gCirc)" stroke="#3d7fd8" stroke-width="0.9"/>
<circle cx="876.6" cy="358.4" r="5.3" fill="url(#gCirc)" stroke="#3d7fd8" stroke-width="0.9"/>
<circle cx="878.8" cy="356.4" r="5.3" fill="url(#gCirc)" stroke="#3d7fd8" stroke-width="0.9"/>
<circle cx="880.9" cy="354.5" r="5.3" fill="url(#gCirc)" stroke="#3d7fd8" stroke-width="0.9"/>
<circle cx="883.1" cy="353.0" r="5.3" fill="url(#gCirc)" stroke="#3d7fd8" stroke-width="0.9"/>
<circle cx="885.2" cy="351.8" r="5.3" fill="url(#gCirc)" stroke="#3d7fd8" stroke-width="0.9"/>
<circle cx="887.4" cy="350.7" r="5.3" fill="url(#gCirc)" stroke="#3d7fd8" stroke-width="0.9"/>
<circle cx="889.5" cy="349.7" r="5.3" fill="url(#gCirc)" stroke="#3d7fd8" stroke-width="0.9"/>
<circle cx="891.7" cy="348.6" r="5.3" fill="url(#gCirc)" stroke="#3d7fd8" stroke-width="0.9"/>
<circle cx="893.8" cy="347.3" r="5.3" fill="url(#gCirc)" stroke="#3d7fd8" stroke-width="0.9"/>
<circle cx="896.0" cy="345.9" r="5.3" fill="url(#gCirc)" stroke="#3d7fd8" stroke-width="0.9"/>
<circle cx="898.1" cy="344.4" r="5.3" fill="url(#gCirc)" stroke="#3d7fd8" stroke-width="0.9"/>
<circle cx="900.3" cy="342.8" r="5.3" fill="url(#gCirc)" stroke="#3d7fd8" stroke-width="0.9"/>
<circle cx="902.4" cy="341.1" r="5.3" fill="url(#gCirc)" stroke="#3d7fd8" stroke-width="0.9"/>
<circle cx="904.6" cy="339.1" r="5.3" fill="url(#gCirc)" stroke="#3d7fd8" stroke-width="0.9"/>
<circle cx="906.8" cy="337.3" r="5.3" fill="url(#gCirc)" stroke="#3d7fd8" stroke-width="0.9"/>
<circle cx="908.9" cy="336.1" r="5.3" fill="url(#gCirc)" stroke="#3d7fd8" stroke-width="0.9"/>
<circle cx="911.0" cy="335.4" r="5.3" fill="url(#gCirc)" stroke="#3d7fd8" stroke-width="0.9"/>
<circle cx="913.2" cy="334.8" r="5.3" fill="url(#gCirc)" stroke="#3d7fd8" stroke-width="0.9"/>
<circle cx="915.3" cy="334.4" r="5.3" fill="url(#gCirc)" stroke="#3d7fd8" stroke-width="0.9"/>
<circle cx="917.5" cy="334.0" r="5.3" fill="url(#gCirc)" stroke="#3d7fd8" stroke-width="0.9"/>
<circle cx="919.6" cy="333.8" r="5.3" fill="url(#gCirc)" stroke="#3d7fd8" stroke-width="0.9"/>
<circle cx="921.8" cy="333.7" r="5.3" fill="url(#gCirc)" stroke="#3d7fd8" stroke-width="0.9"/>
<circle cx="923.9" cy="333.6" r="5.3" fill="url(#gCirc)" stroke="#3d7fd8" stroke-width="0.9"/>
<circle cx="926.1" cy="333.4" r="5.3" fill="url(#gCirc)" stroke="#3d7fd8" stroke-width="0.9"/>
<circle cx="928.2" cy="332.7" r="5.3" fill="url(#gCirc)" stroke="#3d7fd8" stroke-width="0.9"/>
<circle cx="930.4" cy="331.6" r="5.3" fill="url(#gCirc)" stroke="#3d7fd8" stroke-width="0.9"/>
<circle cx="932.5" cy="330.5" r="5.3" fill="url(#gCirc)" stroke="#3d7fd8" stroke-width="0.9"/>
<circle cx="934.7" cy="329.6" r="5.3" fill="url(#gCirc)" stroke="#3d7fd8" stroke-width="0.9"/>
<circle cx="936.8" cy="329.1" r="5.3" fill="url(#gCirc)" stroke="#3d7fd8" stroke-width="0.9"/>
<circle cx="939.0" cy="328.6" r="5.3" fill="url(#gCirc)" stroke="#3d7fd8" stroke-width="0.9"/>
<circle cx="941.1" cy="328.1" r="5.3" fill="url(#gCirc)" stroke="#3d7fd8" stroke-width="0.9"/>
<circle cx="943.3" cy="327.7" r="5.3" fill="url(#gCirc)" stroke="#3d7fd8" stroke-width="0.9"/>
<circle cx="945.4" cy="327.4" r="5.3" fill="url(#gCirc)" stroke="#3d7fd8" stroke-width="0.9"/>
<circle cx="947.6" cy="327.3" r="5.3" fill="url(#gCirc)" stroke="#3d7fd8" stroke-width="0.9"/>
<circle cx="949.8" cy="327.2" r="5.3" fill="url(#gCirc)" stroke="#3d7fd8" stroke-width="0.9"/>
<circle cx="951.9" cy="327.2" r="5.3" fill="url(#gCirc)" stroke="#3d7fd8" stroke-width="0.9"/>
<circle cx="954.0" cy="327.1" r="5.3" fill="url(#gCirc)" stroke="#3d7fd8" stroke-width="0.9"/>
<circle cx="956.2" cy="327.1" r="5.3" fill="url(#gCirc)" stroke="#3d7fd8" stroke-width="0.9"/>
<circle cx="958.3" cy="327.1" r="5.3" fill="url(#gCirc)" stroke="#3d7fd8" stroke-width="0.9"/>
<circle cx="960.5" cy="327.0" r="5.3" fill="url(#gCirc)" stroke="#3d7fd8" stroke-width="0.9"/>
<circle cx="962.6" cy="327.0" r="5.3" fill="url(#gCirc)" stroke="#3d7fd8" stroke-width="0.9"/>
<circle cx="964.8" cy="326.9" r="5.3" fill="url(#gCirc)" stroke="#3d7fd8" stroke-width="0.9"/>
<circle cx="966.9" cy="326.8" r="5.3" fill="url(#gCirc)" stroke="#3d7fd8" stroke-width="0.9"/>
<circle cx="969.1" cy="326.7" r="5.3" fill="url(#gCirc)" stroke="#3d7fd8" stroke-width="0.9"/>
<circle cx="971.2" cy="326.5" r="5.3" fill="url(#gCirc)" stroke="#3d7fd8" stroke-width="0.9"/>
<circle cx="973.4" cy="326.2" r="5.3" fill="url(#gCirc)" stroke="#3d7fd8" stroke-width="0.9"/>
<circle cx="975.5" cy="326.0" r="5.3" fill="url(#gCirc)" stroke="#3d7fd8" stroke-width="0.9"/>
<circle cx="977.7" cy="325.7" r="5.3" fill="url(#gCirc)" stroke="#3d7fd8" stroke-width="0.9"/>
<circle cx="979.8" cy="325.5" r="5.3" fill="url(#gCirc)" stroke="#3d7fd8" stroke-width="0.9"/>
<circle cx="982.0" cy="325.2" r="5.3" fill="url(#gCirc)" stroke="#3d7fd8" stroke-width="0.9"/>
<circle cx="984.1" cy="325.0" r="5.3" fill="url(#gCirc)" stroke="#3d7fd8" stroke-width="0.9"/>
<circle cx="986.3" cy="324.8" r="5.3" fill="url(#gCirc)" stroke="#3d7fd8" stroke-width="0.9"/>
<circle cx="988.4" cy="324.5" r="5.3" fill="url(#gCirc)" stroke="#3d7fd8" stroke-width="0.9"/>
<circle cx="990.6" cy="324.3" r="5.3" fill="url(#gCirc)" stroke="#3d7fd8" stroke-width="0.9"/>
<circle cx="992.8" cy="324.1" r="5.3" fill="url(#gCirc)" stroke="#3d7fd8" stroke-width="0.9"/>
<circle cx="994.9" cy="323.9" r="5.3" fill="url(#gCirc)" stroke="#3d7fd8" stroke-width="0.9"/>
<circle cx="997.0" cy="323.9" r="5.3" fill="url(#gCirc)" stroke="#3d7fd8" stroke-width="0.9"/>
<circle cx="999.2" cy="324.0" r="5.3" fill="url(#gCirc)" stroke="#3d7fd8" stroke-width="0.9"/>
<circle cx="1001.3" cy="324.3" r="5.3" fill="url(#gCirc)" stroke="#3d7fd8" stroke-width="0.9"/>
<circle cx="1003.5" cy="324.7" r="5.3" fill="url(#gCirc)" stroke="#3d7fd8" stroke-width="0.9"/>
<circle cx="1005.6" cy="325.2" r="5.3" fill="url(#gCirc)" stroke="#3d7fd8" stroke-width="0.9"/>
<circle cx="1007.8" cy="325.9" r="5.3" fill="url(#gCirc)" stroke="#3d7fd8" stroke-width="0.9"/>
<circle cx="1009.9" cy="326.9" r="5.3" fill="url(#gCirc)" stroke="#3d7fd8" stroke-width="0.9"/>
<circle cx="1012.1" cy="327.9" r="5.3" fill="url(#gCirc)" stroke="#3d7fd8" stroke-width="0.9"/>
<circle cx="1014.2" cy="329.1" r="5.3" fill="url(#gCirc)" stroke="#3d7fd8" stroke-width="0.9"/>
<circle cx="1016.4" cy="330.3" r="5.3" fill="url(#gCirc)" stroke="#3d7fd8" stroke-width="0.9"/>
<circle cx="1018.5" cy="331.7" r="5.3" fill="url(#gCirc)" stroke="#3d7fd8" stroke-width="0.9"/>
<circle cx="1020.7" cy="333.0" r="5.3" fill="url(#gCirc)" stroke="#3d7fd8" stroke-width="0.9"/>
<circle cx="1022.8" cy="334.1" r="5.3" fill="url(#gCirc)" stroke="#3d7fd8" stroke-width="0.9"/>
<circle cx="1025.0" cy="335.1" r="5.3" fill="url(#gCirc)" stroke="#3d7fd8" stroke-width="0.9"/>
<circle cx="1027.1" cy="335.8" r="5.3" fill="url(#gCirc)" stroke="#3d7fd8" stroke-width="0.9"/>
<circle cx="1029.3" cy="336.5" r="5.3" fill="url(#gCirc)" stroke="#3d7fd8" stroke-width="0.9"/>
<circle cx="1031.5" cy="337.0" r="5.3" fill="url(#gCirc)" stroke="#3d7fd8" stroke-width="0.9"/>
<circle cx="1033.6" cy="337.4" r="5.3" fill="url(#gCirc)" stroke="#3d7fd8" stroke-width="0.9"/>
<circle cx="1035.8" cy="337.7" r="5.3" fill="url(#gCirc)" stroke="#3d7fd8" stroke-width="0.9"/>
<circle cx="1037.9" cy="338.0" r="5.3" fill="url(#gCirc)" stroke="#3d7fd8" stroke-width="0.9"/>
<circle cx="1040.0" cy="338.1" r="5.3" fill="url(#gCirc)" stroke="#3d7fd8" stroke-width="0.9"/>
<circle cx="1042.2" cy="337.9" r="5.3" fill="url(#gCirc)" stroke="#3d7fd8" stroke-width="0.9"/>
<circle cx="1044.3" cy="337.4" r="5.3" fill="url(#gCirc)" stroke="#3d7fd8" stroke-width="0.9"/>
<circle cx="1046.5" cy="336.7" r="5.3" fill="url(#gCirc)" stroke="#3d7fd8" stroke-width="0.9"/>
<circle cx="1048.6" cy="336.1" r="5.3" fill="url(#gCirc)" stroke="#3d7fd8" stroke-width="0.9"/>
<circle cx="1050.8" cy="335.4" r="5.3" fill="url(#gCirc)" stroke="#3d7fd8" stroke-width="0.9"/>
<circle cx="1053.0" cy="334.6" r="5.3" fill="url(#gCirc)" stroke="#3d7fd8" stroke-width="0.9"/>
<circle cx="1055.1" cy="333.9" r="5.3" fill="url(#gCirc)" stroke="#3d7fd8" stroke-width="0.9"/>
<circle cx="1057.2" cy="333.3" r="5.3" fill="url(#gCirc)" stroke="#3d7fd8" stroke-width="0.9"/>
<circle cx="1059.4" cy="332.7" r="5.3" fill="url(#gCirc)" stroke="#3d7fd8" stroke-width="0.9"/>
<circle cx="1061.5" cy="332.2" r="5.3" fill="url(#gCirc)" stroke="#3d7fd8" stroke-width="0.9"/>
<circle cx="1063.7" cy="332.0" r="5.3" fill="url(#gCirc)" stroke="#3d7fd8" stroke-width="0.9"/>
<circle cx="1065.8" cy="332.0" r="5.3" fill="url(#gCirc)" stroke="#3d7fd8" stroke-width="0.9"/>
<circle cx="1068.0" cy="332.1" r="5.3" fill="url(#gCirc)" stroke="#3d7fd8" stroke-width="0.9"/>
<circle cx="1070.1" cy="332.3" r="5.3" fill="url(#gCirc)" stroke="#3d7fd8" stroke-width="0.9"/>
<circle cx="1072.3" cy="332.5" r="5.3" fill="url(#gCirc)" stroke="#3d7fd8" stroke-width="0.9"/>
<circle cx="1074.5" cy="332.7" r="5.3" fill="url(#gCirc)" stroke="#3d7fd8" stroke-width="0.9"/>
<circle cx="1076.6" cy="333.2" r="5.3" fill="url(#gCirc)" stroke="#3d7fd8" stroke-width="0.9"/>
<circle cx="1078.8" cy="333.9" r="5.3" fill="url(#gCirc)" stroke="#3d7fd8" stroke-width="0.9"/>
<circle cx="1080.9" cy="334.7" r="5.3" fill="url(#gCirc)" stroke="#3d7fd8" stroke-width="0.9"/>
<circle cx="1083.0" cy="335.6" r="5.3" fill="url(#gCirc)" stroke="#3d7fd8" stroke-width="0.9"/>
<circle cx="1085.2" cy="336.5" r="5.3" fill="url(#gCirc)" stroke="#3d7fd8" stroke-width="0.9"/>
<circle cx="1087.3" cy="337.5" r="5.3" fill="url(#gCirc)" stroke="#3d7fd8" stroke-width="0.9"/>
<circle cx="1089.5" cy="338.5" r="5.3" fill="url(#gCirc)" stroke="#3d7fd8" stroke-width="0.9"/>
<circle cx="1091.6" cy="339.5" r="5.3" fill="url(#gCirc)" stroke="#3d7fd8" stroke-width="0.9"/>
<circle cx="1093.8" cy="340.4" r="5.3" fill="url(#gCirc)" stroke="#3d7fd8" stroke-width="0.9"/>
<circle cx="1095.9" cy="341.5" r="5.3" fill="url(#gCirc)" stroke="#3d7fd8" stroke-width="0.9"/>
<circle cx="1098.1" cy="342.6" r="5.3" fill="url(#gCirc)" stroke="#3d7fd8" stroke-width="0.9"/>
<circle cx="1100.2" cy="343.8" r="5.3" fill="url(#gCirc)" stroke="#3d7fd8" stroke-width="0.9"/>
<circle cx="1102.4" cy="345.1" r="5.3" fill="url(#gCirc)" stroke="#3d7fd8" stroke-width="0.9"/>
<circle cx="1104.5" cy="346.3" r="5.3" fill="url(#gCirc)" stroke="#3d7fd8" stroke-width="0.9"/>
<circle cx="1106.7" cy="347.6" r="5.3" fill="url(#gCirc)" stroke="#3d7fd8" stroke-width="0.9"/>
<circle cx="1108.8" cy="348.9" r="5.3" fill="url(#gCirc)" stroke="#3d7fd8" stroke-width="0.9"/>
<circle cx="1111.0" cy="350.3" r="5.3" fill="url(#gCirc)" stroke="#3d7fd8" stroke-width="0.9"/>
<circle cx="1113.2" cy="351.6" r="5.3" fill="url(#gCirc)" stroke="#3d7fd8" stroke-width="0.9"/>
<circle cx="1115.3" cy="353.0" r="5.3" fill="url(#gCirc)" stroke="#3d7fd8" stroke-width="0.9"/>
<polyline points="848.7,551.5 850.8,551.4 853.0,551.3 855.1,551.2 857.3,550.9 859.4,550.6 861.6,550.1 863.8,549.6 865.9,549.2 868.0,548.7 870.2,548.0 872.3,547.2 874.5,546.2 876.6,544.7 878.8,542.2 880.9,539.6 883.1,536.7 885.2,533.8 887.4,530.6 889.5,526.4 891.7,520.9 893.8,514.8 896.0,508.0 898.1,499.1 900.3,487.4 902.4,471.0 904.6,452.0 906.8,431.1 908.9,411.0 911.0,394.5 913.2,380.9 915.3,370.4 917.5,362.7 919.6,357.5 921.8,354.6 923.9,353.6 926.1,354.6 928.2,357.8 930.4,363.1 932.5,370.3 934.7,379.3 936.8,390.0 939.0,401.7 941.1,414.0 943.3,426.6 945.4,439.3 947.6,452.0 949.8,464.2 951.9,476.1 954.0,488.0 956.2,499.1 958.3,508.6 960.5,516.9 962.6,524.2 964.8,530.3 966.9,535.4 969.1,539.4 971.2,542.7 973.4,545.2 975.5,546.9 977.7,548.1 979.8,549.1 982.0,549.9 984.1,550.4 986.3,550.7 988.4,550.9 990.6,551.1 992.8,551.2 994.9,551.3 997.0,551.4 999.2,551.4 1001.3,551.4 1003.5,551.5 1005.6,551.5 1007.8,551.5 1009.9,551.5 1012.1,551.5 1014.2,551.5 1016.4,551.5 1018.5,551.5 1020.7,551.5" fill="none" stroke="#f5a26c" stroke-width="2"/>
<polygon points="848.7,545.9 854.3,551.5 848.7,557.1 843.1,551.5" fill="#f9b592" stroke="#f5893c" stroke-width="0.9"/>
<polygon points="850.8,545.8 856.4,551.4 850.8,557.0 845.2,551.4" fill="#f9b592" stroke="#f5893c" stroke-width="0.9"/>
<polygon points="853.0,545.7 858.6,551.3 853.0,556.9 847.4,551.3" fill="#f9b592" stroke="#f5893c" stroke-width="0.9"/>
<polygon points="855.1,545.6 860.8,551.2 855.1,556.8 849.5,551.2" fill="#f9b592" stroke="#f5893c" stroke-width="0.9"/>
<polygon points="857.3,545.3 862.9,550.9 857.3,556.5 851.7,550.9" fill="#f9b592" stroke="#f5893c" stroke-width="0.9"/>
<polygon points="859.4,545.0 865.0,550.6 859.4,556.2 853.8,550.6" fill="#f9b592" stroke="#f5893c" stroke-width="0.9"/>
<polygon points="861.6,544.5 867.2,550.1 861.6,555.7 856.0,550.1" fill="#f9b592" stroke="#f5893c" stroke-width="0.9"/>
<polygon points="863.8,544.0 869.4,549.6 863.8,555.2 858.1,549.6" fill="#f9b592" stroke="#f5893c" stroke-width="0.9"/>
<polygon points="865.9,543.6 871.5,549.2 865.9,554.8 860.3,549.2" fill="#f9b592" stroke="#f5893c" stroke-width="0.9"/>
<polygon points="868.0,543.1 873.6,548.7 868.0,554.3 862.4,548.7" fill="#f9b592" stroke="#f5893c" stroke-width="0.9"/>
<polygon points="870.2,542.4 875.8,548.0 870.2,553.6 864.6,548.0" fill="#f9b592" stroke="#f5893c" stroke-width="0.9"/>
<polygon points="872.3,541.6 877.9,547.2 872.3,552.8 866.7,547.2" fill="#f9b592" stroke="#f5893c" stroke-width="0.9"/>
<polygon points="874.5,540.6 880.1,546.2 874.5,551.8 868.9,546.2" fill="#f9b592" stroke="#f5893c" stroke-width="0.9"/>
<polygon points="876.6,539.1 882.2,544.7 876.6,550.3 871.0,544.7" fill="#f9b592" stroke="#f5893c" stroke-width="0.9"/>
<polygon points="878.8,536.6 884.4,542.2 878.8,547.8 873.2,542.2" fill="#f9b592" stroke="#f5893c" stroke-width="0.9"/>
<polygon points="880.9,534.0 886.5,539.6 880.9,545.2 875.3,539.6" fill="#f9b592" stroke="#f5893c" stroke-width="0.9"/>
<polygon points="883.1,531.1 888.7,536.7 883.1,542.3 877.5,536.7" fill="#f9b592" stroke="#f5893c" stroke-width="0.9"/>
<polygon points="885.2,528.2 890.9,533.8 885.2,539.4 879.6,533.8" fill="#f9b592" stroke="#f5893c" stroke-width="0.9"/>
<polygon points="887.4,525.0 893.0,530.6 887.4,536.2 881.8,530.6" fill="#f9b592" stroke="#f5893c" stroke-width="0.9"/>
<polygon points="889.5,520.8 895.1,526.4 889.5,532.0 883.9,526.4" fill="#f9b592" stroke="#f5893c" stroke-width="0.9"/>
<polygon points="891.7,515.3 897.3,520.9 891.7,526.5 886.1,520.9" fill="#f9b592" stroke="#f5893c" stroke-width="0.9"/>
<polygon points="893.8,509.2 899.4,514.8 893.8,520.4 888.2,514.8" fill="#f9b592" stroke="#f5893c" stroke-width="0.9"/>
<polygon points="896.0,502.4 901.6,508.0 896.0,513.6 890.4,508.0" fill="#f9b592" stroke="#f5893c" stroke-width="0.9"/>
<polygon points="898.1,493.5 903.8,499.1 898.1,504.7 892.5,499.1" fill="#f9b592" stroke="#f5893c" stroke-width="0.9"/>
<polygon points="900.3,481.8 905.9,487.4 900.3,493.0 894.7,487.4" fill="#f9b592" stroke="#f5893c" stroke-width="0.9"/>
<polygon points="902.4,465.4 908.0,471.0 902.4,476.6 896.8,471.0" fill="#f9b592" stroke="#f5893c" stroke-width="0.9"/>
<polygon points="904.6,446.4 910.2,452.0 904.6,457.6 899.0,452.0" fill="#f9b592" stroke="#f5893c" stroke-width="0.9"/>
<polygon points="906.8,425.5 912.4,431.1 906.8,436.7 901.1,431.1" fill="#f9b592" stroke="#f5893c" stroke-width="0.9"/>
<polygon points="908.9,405.4 914.5,411.0 908.9,416.6 903.3,411.0" fill="#f9b592" stroke="#f5893c" stroke-width="0.9"/>
<polygon points="911.0,388.9 916.6,394.5 911.0,400.1 905.4,394.5" fill="#f9b592" stroke="#f5893c" stroke-width="0.9"/>
<polygon points="913.2,375.3 918.8,380.9 913.2,386.5 907.6,380.9" fill="#f9b592" stroke="#f5893c" stroke-width="0.9"/>
<polygon points="915.3,364.8 920.9,370.4 915.3,376.0 909.7,370.4" fill="#f9b592" stroke="#f5893c" stroke-width="0.9"/>
<polygon points="917.5,357.1 923.1,362.7 917.5,368.3 911.9,362.7" fill="#f9b592" stroke="#f5893c" stroke-width="0.9"/>
<polygon points="919.6,351.9 925.2,357.5 919.6,363.1 914.0,357.5" fill="#f9b592" stroke="#f5893c" stroke-width="0.9"/>
<polygon points="921.8,349.0 927.4,354.6 921.8,360.2 916.2,354.6" fill="#f9b592" stroke="#f5893c" stroke-width="0.9"/>
<polygon points="923.9,348.0 929.5,353.6 923.9,359.2 918.3,353.6" fill="#f9b592" stroke="#f5893c" stroke-width="0.9"/>
<polygon points="926.1,349.0 931.7,354.6 926.1,360.2 920.5,354.6" fill="#f9b592" stroke="#f5893c" stroke-width="0.9"/>
<polygon points="928.2,352.2 933.9,357.8 928.2,363.4 922.6,357.8" fill="#f9b592" stroke="#f5893c" stroke-width="0.9"/>
<polygon points="930.4,357.5 936.0,363.1 930.4,368.7 924.8,363.1" fill="#f9b592" stroke="#f5893c" stroke-width="0.9"/>
<polygon points="932.5,364.7 938.1,370.3 932.5,375.9 926.9,370.3" fill="#f9b592" stroke="#f5893c" stroke-width="0.9"/>
<polygon points="934.7,373.7 940.3,379.3 934.7,384.9 929.1,379.3" fill="#f9b592" stroke="#f5893c" stroke-width="0.9"/>
<polygon points="936.8,384.4 942.4,390.0 936.8,395.6 931.2,390.0" fill="#f9b592" stroke="#f5893c" stroke-width="0.9"/>
<polygon points="939.0,396.1 944.6,401.7 939.0,407.3 933.4,401.7" fill="#f9b592" stroke="#f5893c" stroke-width="0.9"/>
<polygon points="941.1,408.4 946.8,414.0 941.1,419.6 935.5,414.0" fill="#f9b592" stroke="#f5893c" stroke-width="0.9"/>
<polygon points="943.3,421.0 948.9,426.6 943.3,432.2 937.7,426.6" fill="#f9b592" stroke="#f5893c" stroke-width="0.9"/>
<polygon points="945.4,433.7 951.0,439.3 945.4,444.9 939.8,439.3" fill="#f9b592" stroke="#f5893c" stroke-width="0.9"/>
<polygon points="947.6,446.4 953.2,452.0 947.6,457.6 942.0,452.0" fill="#f9b592" stroke="#f5893c" stroke-width="0.9"/>
<polygon points="949.8,458.6 955.4,464.2 949.8,469.8 944.1,464.2" fill="#f9b592" stroke="#f5893c" stroke-width="0.9"/>
<polygon points="951.9,470.5 957.5,476.1 951.9,481.7 946.3,476.1" fill="#f9b592" stroke="#f5893c" stroke-width="0.9"/>
<polygon points="954.0,482.4 959.6,488.0 954.0,493.6 948.4,488.0" fill="#f9b592" stroke="#f5893c" stroke-width="0.9"/>
<polygon points="956.2,493.5 961.8,499.1 956.2,504.7 950.6,499.1" fill="#f9b592" stroke="#f5893c" stroke-width="0.9"/>
<polygon points="958.3,503.0 963.9,508.6 958.3,514.2 952.7,508.6" fill="#f9b592" stroke="#f5893c" stroke-width="0.9"/>
<polygon points="960.5,511.3 966.1,516.9 960.5,522.5 954.9,516.9" fill="#f9b592" stroke="#f5893c" stroke-width="0.9"/>
<polygon points="962.6,518.6 968.2,524.2 962.6,529.8 957.0,524.2" fill="#f9b592" stroke="#f5893c" stroke-width="0.9"/>
<polygon points="964.8,524.7 970.4,530.3 964.8,535.9 959.2,530.3" fill="#f9b592" stroke="#f5893c" stroke-width="0.9"/>
<polygon points="966.9,529.8 972.5,535.4 966.9,541.0 961.3,535.4" fill="#f9b592" stroke="#f5893c" stroke-width="0.9"/>
<polygon points="969.1,533.8 974.7,539.4 969.1,545.0 963.5,539.4" fill="#f9b592" stroke="#f5893c" stroke-width="0.9"/>
<polygon points="971.2,537.1 976.9,542.7 971.2,548.3 965.6,542.7" fill="#f9b592" stroke="#f5893c" stroke-width="0.9"/>
<polygon points="973.4,539.6 979.0,545.2 973.4,550.8 967.8,545.2" fill="#f9b592" stroke="#f5893c" stroke-width="0.9"/>
<polygon points="975.5,541.3 981.1,546.9 975.5,552.5 969.9,546.9" fill="#f9b592" stroke="#f5893c" stroke-width="0.9"/>
<polygon points="977.7,542.5 983.3,548.1 977.7,553.7 972.1,548.1" fill="#f9b592" stroke="#f5893c" stroke-width="0.9"/>
<polygon points="979.8,543.5 985.4,549.1 979.8,554.7 974.2,549.1" fill="#f9b592" stroke="#f5893c" stroke-width="0.9"/>
<polygon points="982.0,544.3 987.6,549.9 982.0,555.5 976.4,549.9" fill="#f9b592" stroke="#f5893c" stroke-width="0.9"/>
<polygon points="984.1,544.8 989.8,550.4 984.1,556.0 978.5,550.4" fill="#f9b592" stroke="#f5893c" stroke-width="0.9"/>
<polygon points="986.3,545.1 991.9,550.7 986.3,556.3 980.7,550.7" fill="#f9b592" stroke="#f5893c" stroke-width="0.9"/>
<polygon points="988.4,545.3 994.0,550.9 988.4,556.5 982.8,550.9" fill="#f9b592" stroke="#f5893c" stroke-width="0.9"/>
<polygon points="990.6,545.5 996.2,551.1 990.6,556.7 985.0,551.1" fill="#f9b592" stroke="#f5893c" stroke-width="0.9"/>
<polygon points="992.8,545.6 998.4,551.2 992.8,556.8 987.1,551.2" fill="#f9b592" stroke="#f5893c" stroke-width="0.9"/>
<polygon points="994.9,545.7 1000.5,551.3 994.9,556.9 989.3,551.3" fill="#f9b592" stroke="#f5893c" stroke-width="0.9"/>
<polygon points="997.0,545.8 1002.6,551.4 997.0,557.0 991.4,551.4" fill="#f9b592" stroke="#f5893c" stroke-width="0.9"/>
<polygon points="999.2,545.8 1004.8,551.4 999.2,557.0 993.6,551.4" fill="#f9b592" stroke="#f5893c" stroke-width="0.9"/>
<polygon points="1001.3,545.8 1006.9,551.4 1001.3,557.0 995.7,551.4" fill="#f9b592" stroke="#f5893c" stroke-width="0.9"/>
<polygon points="1003.5,545.9 1009.1,551.5 1003.5,557.1 997.9,551.5" fill="#f9b592" stroke="#f5893c" stroke-width="0.9"/>
<polygon points="1005.6,545.9 1011.2,551.5 1005.6,557.1 1000.0,551.5" fill="#f9b592" stroke="#f5893c" stroke-width="0.9"/>
<polygon points="1007.8,545.9 1013.4,551.5 1007.8,557.1 1002.2,551.5" fill="#f9b592" stroke="#f5893c" stroke-width="0.9"/>
<polygon points="1009.9,545.9 1015.5,551.5 1009.9,557.1 1004.3,551.5" fill="#f9b592" stroke="#f5893c" stroke-width="0.9"/>
<polygon points="1012.1,545.9 1017.7,551.5 1012.1,557.1 1006.5,551.5" fill="#f9b592" stroke="#f5893c" stroke-width="0.9"/>
<polygon points="1014.2,545.9 1019.9,551.5 1014.2,557.1 1008.6,551.5" fill="#f9b592" stroke="#f5893c" stroke-width="0.9"/>
<polygon points="1016.4,545.9 1022.0,551.5 1016.4,557.1 1010.8,551.5" fill="#f9b592" stroke="#f5893c" stroke-width="0.9"/>
<polygon points="1018.5,545.9 1024.1,551.5 1018.5,557.1 1012.9,551.5" fill="#f9b592" stroke="#f5893c" stroke-width="0.9"/>
<polygon points="1020.7,545.9 1026.3,551.5 1020.7,557.1 1015.1,551.5" fill="#f9b592" stroke="#f5893c" stroke-width="0.9"/>
<line x1="1038.7" y1="338.1" x2="1010.5" y2="338.1" stroke="#000" stroke-width="1.8" />
<path d="M1015.5,334.5 L1009,338.1 L1015.5,341.70000000000005" stroke="#000" stroke-width="1.8" fill="none" stroke-linecap="round" stroke-linejoin="round"/>
<line x1="943.4" y1="509.2" x2="972" y2="509.2" stroke="#000" stroke-width="1.8" />
<path d="M967.0,505.59999999999997 L973.5,509.2 L967.0,512.8" stroke="#000" stroke-width="1.8" fill="none" stroke-linecap="round" stroke-linejoin="round"/>
<text x="24.5" y="649.4" font-family="Liberation Sans, sans-serif" font-size="27" fill="#000" textLength="9.5" lengthAdjust="spacingAndGlyphs" >f</text>
<clipPath id="clipF"><rect x="50" y="631" width="325.7" height="303.3"/></clipPath>
<filter id="noiseF" x="0" y="0" width="100%" height="100%"><feTurbulence type="fractalNoise" baseFrequency="0.9" numOctaves="1" seed="3" result="n"/><feColorMatrix type="matrix" values="0 0 0 0 0.5  0 0 0 0 0.5  0 0 0 0 0.5  0 0 0 0.07 0"/></filter>
<g clip-path="url(#clipF)">
<linearGradient id="gTop" x1="0" y1="0" x2="0" y2="1"><stop offset="0" stop-color="#e4e4e4"/><stop offset="0.45" stop-color="#e8e8e8"/><stop offset="0.75" stop-color="#eeeeee"/><stop offset="1" stop-color="#f4f4f4"/></linearGradient>
<rect x="50" y="631" width="325.7" height="140" fill="url(#gTop)"/>
<rect x="50" y="738" width="325.7" height="35" fill="#f5f5f5" filter="url(#blur2)"/>
<circle cx="298.7" cy="656.8" r="3" fill="#a8a8a8" opacity="0.8" filter="url(#blur05)"/>
<circle cx="268.5" cy="671" r="3" fill="#a8a8a8" opacity="0.8" filter="url(#blur05)"/>
<circle cx="357.5" cy="667.9" r="3.5" fill="#a8a8a8" opacity="0.8" filter="url(#blur05)"/>
<circle cx="260.6" cy="679.8" r="3.5" fill="#a8a8a8" opacity="0.8" filter="url(#blur05)"/>
<circle cx="344.7" cy="699.6" r="3.5" fill="#a8a8a8" opacity="0.8" filter="url(#blur05)"/>
<circle cx="219.3" cy="683" r="3" fill="#a8a8a8" opacity="0.8" filter="url(#blur05)"/>
<circle cx="298.7" cy="698" r="4" fill="#a8a8a8" opacity="0.8" filter="url(#blur05)"/>
<circle cx="297" cy="707.6" r="3.5" fill="#a8a8a8" opacity="0.8" filter="url(#blur05)"/>
<circle cx="240" cy="686" r="2" fill="#a8a8a8" opacity="0.8" filter="url(#blur05)"/>
<circle cx="320" cy="660" r="1.5" fill="#a8a8a8" opacity="0.8" filter="url(#blur05)"/>
<circle cx="265" cy="700" r="2" fill="#a8a8a8" opacity="0.8" filter="url(#blur05)"/>
<circle cx="303" cy="690" r="2.5" fill="#a8a8a8" opacity="0.8" filter="url(#blur05)"/>
<circle cx="330" cy="685" r="2" fill="#a8a8a8" opacity="0.8" filter="url(#blur05)"/>
<circle cx="64" cy="672" r="2" fill="#a8a8a8" opacity="0.8" filter="url(#blur05)"/>
<circle cx="68" cy="683" r="2" fill="#a8a8a8" opacity="0.8" filter="url(#blur05)"/>
<circle cx="86" cy="691" r="2.5" fill="#a8a8a8" opacity="0.8" filter="url(#blur05)"/>
<circle cx="120" cy="700" r="3" fill="#a8a8a8" opacity="0.8" filter="url(#blur05)"/>
<circle cx="175" cy="697" r="3" fill="#a8a8a8" opacity="0.8" filter="url(#blur05)"/>
<circle cx="190" cy="690" r="2" fill="#a8a8a8" opacity="0.8" filter="url(#blur05)"/>
<circle cx="200" cy="698" r="3" fill="#a8a8a8" opacity="0.8" filter="url(#blur05)"/>
<circle cx="110" cy="695" r="2.5" fill="#a8a8a8" opacity="0.8" filter="url(#blur05)"/>
<circle cx="150" cy="700" r="2.5" fill="#a8a8a8" opacity="0.8" filter="url(#blur05)"/>
<circle cx="280" cy="680" r="2" fill="#a8a8a8" opacity="0.8" filter="url(#blur05)"/>
<circle cx="310" cy="672" r="2" fill="#a8a8a8" opacity="0.8" filter="url(#blur05)"/>
<g filter="url(#blur1)">
<ellipse cx="63.3" cy="701.3" rx="4.5" ry="4" fill="#1a1a1a" transform="rotate(0 63.3 701.3)"/>
<ellipse cx="53.7" cy="710" rx="4" ry="6" fill="#252525" transform="rotate(0 53.7 710)"/>
<ellipse cx="57.7" cy="720.3" rx="6" ry="5" fill="#303030" transform="rotate(0 57.7 720.3)"/>
<rect x="63" y="706.5" width="18" height="7.0" rx="3.5" ry="3.5" fill="#2a2a2a" transform="rotate(-20 72 710)"/>
<rect x="97" y="698.5" width="20" height="7.0" rx="3.5" ry="3.5" fill="#262626" transform="rotate(0 107 702)"/>
<rect x="87" y="708.1" width="16" height="7.0" rx="3.5" ry="3.5" fill="#404040" transform="rotate(-20 95 711.6)"/>
<rect x="124.30000000000001" y="705.8" width="32" height="10" rx="5" ry="5" fill="#202020" transform="rotate(10 140.3 710.8)"/>
<rect x="101.7" y="718" width="20" height="8" rx="4" ry="4" fill="#505050" transform="rotate(0 111.7 722)"/>
<ellipse cx="88.7" cy="730.7" rx="4" ry="4" fill="#303030" transform="rotate(0 88.7 730.7)"/>
<ellipse cx="128.4" cy="732.2" rx="5" ry="5" fill="#2a2a2a" transform="rotate(0 128.4 732.2)"/>
<rect x="156.7" y="700.9" width="15.0" height="7.0" rx="3.5" ry="3.5" fill="#303030" transform="rotate(10 164.2 704.4)"/>
<rect x="156.6" y="712.6" width="12" height="6" rx="3" ry="3" fill="#707070" transform="rotate(0 162.6 715.6)"/>
<ellipse cx="156.2" cy="724.3" rx="4" ry="4" fill="#404040" transform="rotate(0 156.2 724.3)"/>
<rect x="155.2" y="727.2" width="18" height="7.0" rx="3.5" ry="3.5" fill="#383838" transform="rotate(5 164.2 730.7)"/>
<ellipse cx="193.6" cy="702.9" rx="4.5" ry="4.5" fill="#101010" transform="rotate(0 193.6 702.9)"/>
<ellipse cx="189.6" cy="712.4" rx="8" ry="5" fill="#2a2a2a" transform="rotate(30 189.6 712.4)"/>
<rect x="199" y="701.5" width="16" height="7.0" rx="3.5" ry="3.5" fill="#383838" transform="rotate(-25 207 705)"/>
<rect x="190.3" y="721.7" width="24" height="10" rx="5" ry="5" fill="#303030" transform="rotate(-5 202.3 726.7)"/>
<rect x="195.5" y="740" width="20" height="8" rx="4" ry="4" fill="#303030" transform="rotate(0 205.5 744)"/>
<ellipse cx="224" cy="707.6" rx="5" ry="4" fill="#404040" transform="rotate(0 224 707.6)"/>
<rect x="222.6" y="710.2" width="22" height="9.0" rx="4.5" ry="4.5" fill="#2a2a2a" transform="rotate(-30 233.6 714.7)"/>
<ellipse cx="251.8" cy="710.8" rx="5" ry="5" fill="#1a1a1a" transform="rotate(0 251.8 710.8)"/>
<rect x="248" y="716.5" width="22" height="9.0" rx="4.5" ry="4.5" fill="#303030" transform="rotate(10 259 721)"/>
<rect x="264.9" y="720" width="20" height="10" rx="5" ry="5" fill="#1a1a1a" transform="rotate(10 274.9 725)"/>
<rect x="252.3" y="728.2" width="26" height="8" rx="4" ry="4" fill="#404040" transform="rotate(5 265.3 732.2)"/>
<ellipse cx="230.4" cy="733.8" rx="6" ry="4" fill="#2a2a2a" transform="rotate(0 230.4 733.8)"/>
<rect x="277.3" y="717.5" width="30" height="5.0" rx="2.5" ry="2.5" fill="#606060" transform="rotate(0 292.3 720)"/>
<rect x="293.5" y="725" width="20" height="8" rx="4" ry="4" fill="#505050" transform="rotate(10 303.5 729)"/>
<ellipse cx="324.1" cy="727.4" rx="7" ry="5" fill="#1a1a1a" transform="rotate(-20 324.1 727.4)"/>
<ellipse cx="330.5" cy="740.1" rx="6" ry="4" fill="#202020" transform="rotate(0 330.5 740.1)"/>
<ellipse cx="338.4" cy="729" rx="5" ry="5" fill="#1a1a1a" transform="rotate(0 338.4 729)"/>
<ellipse cx="349.5" cy="737" rx="6" ry="6" fill="#1a1a1a" transform="rotate(0 349.5 737)"/>
<ellipse cx="270.9" cy="692.5" rx="4" ry="4" fill="#303030" transform="rotate(0 270.9 692.5)"/>
<ellipse cx="316.2" cy="697.3" rx="5" ry="3.5" fill="#303030" transform="rotate(0 316.2 697.3)"/>
<rect x="319" y="710" width="28" height="12" rx="6" ry="6" fill="#303030" transform="rotate(-5 333 716)"/>
<rect x="335" y="709" width="42" height="20" rx="10" ry="10" fill="#151515" transform="rotate(0 356 719)"/>
<ellipse cx="372" cy="714" rx="8" ry="8" fill="#151515" transform="rotate(0 372 714)"/>
<rect x="149" y="694.5" width="12" height="6" rx="3" ry="3" fill="#9a9a9a" transform="rotate(-10 155 697.5)"/>
<rect x="169.0" y="695.7" width="7.0" height="6" rx="3" ry="3" fill="#a8a8a8" transform="rotate(0 172.5 698.7)"/>
<rect x="216" y="680.5" width="6" height="6" rx="3" ry="3" fill="#a0a0a0" transform="rotate(0 219 683.5)"/>
<rect x="215.3" y="705" width="10" height="6" rx="3" ry="3" fill="#707070" transform="rotate(-30 220.3 708)"/>
<rect x="79" y="691" width="10" height="6" rx="3" ry="3" fill="#9a9a9a" transform="rotate(0 84 694)"/>
<rect x="67" y="687.5" width="6" height="5.0" rx="2.5" ry="2.5" fill="#a0a0a0" transform="rotate(0 70 690)"/>
<rect x="114" y="686" width="8" height="6" rx="3" ry="3" fill="#a8a8a8" transform="rotate(0 118 689)"/>
<rect x="183" y="694" width="6" height="6" rx="3" ry="3" fill="#a0a0a0" transform="rotate(0 186 697)"/>
<path d="M50,742.6 L143.5,745 L140,750.5 L50,750.5 Z" fill="#2a2a2a"/>
</g>
<path d="M50,751.5 L60,753 L75,758 L86.2,763 L100,758 L120,752 L144.3,748.7 L160,758 L176.2,767.5 L195,768 L210,769.3 L225,763 L240,758 L255,754 L270,752.5 L290,754 L305,757 L318.7,760 L331.8,765.6 L338,756 L345,752.5 L360,754 L375.7,758 L375.7,906 L50,906 Z" fill="#868686" stroke="#4a4a4a" stroke-width="3"/>
<clipPath id="clipZ"><path d="M50,751.5 L60,753 L75,758 L86.2,763 L100,758 L120,752 L144.3,748.7 L160,758 L176.2,767.5 L195,768 L210,769.3 L225,763 L240,758 L255,754 L270,752.5 L290,754 L305,757 L318.7,760 L331.8,765.6 L338,756 L345,752.5 L360,754 L375.7,758 L375.7,906 L50,906 Z"/></clipPath>
<g clip-path="url(#clipZ)"><g filter="url(#blur2)">
<polygon points="50,752 145,748 150,760 100,790 55,800" fill="#a3a3a3" opacity="0.85"/>
<polygon points="90,780 140,752 175,770 160,800 120,800" fill="#a8a8a8" opacity="0.85"/>
<polygon points="60,800 80,790 95,850 70,895 55,880" fill="#7a7a7a" opacity="0.85"/>
<polygon points="110,800 140,790 145,860 120,900 100,880" fill="#989898" opacity="0.85"/>
<polygon points="146,815 156,812 160,850 150,860" fill="#4a4a4a" opacity="0.85"/>
<polygon points="182,785 195,782 195,825 186,830" fill="#404040" opacity="0.85"/>
<polygon points="160,820 185,830 180,890 165,895" fill="#a5a5a5" opacity="0.85"/>
<polygon points="200,790 240,775 250,820 220,880 205,860" fill="#959595" opacity="0.85"/>
<polygon points="250,778 292,776 294,800 282,855 270,860 260,810" fill="#2c2c2c" opacity="0.85"/>
<polygon points="230,790 255,790 262,830 240,870 225,850" fill="#7a7a7a" opacity="0.85"/>
<polygon points="295,780 330,775 335,840 310,880 300,850" fill="#999999" opacity="0.85"/>
<polygon points="335,790 375,790 375,900 345,900" fill="#7c7c7c" opacity="0.85"/>
<polygon points="340,830 360,810 365,880 350,895" fill="#b0b0b0" opacity="0.85"/>
<polygon points="50,870 375,870 375,906 50,906" fill="#7a7a7a" opacity="0.85"/>
</g></g>
<filter id="streak" x="0" y="0" width="100%" height="100%"><feTurbulence type="fractalNoise" baseFrequency="0.06 0.012" numOctaves="3" seed="11"/><feColorMatrix type="matrix" values="0 0 0 0 0  0 0 0 0 0  0 0 0 0 0  -2.2 0 0 0 1.25"/></filter>
<filter id="streak2" x="0" y="0" width="100%" height="100%"><feTurbulence type="fractalNoise" baseFrequency="0.05 0.015" numOctaves="3" seed="23"/><feColorMatrix type="matrix" values="0 0 0 0 1  0 0 0 0 1  0 0 0 0 1  -2.2 0 0 0 1.15"/></filter>
<g clip-path="url(#clipZ)" opacity="0.35"><rect x="50" y="745" width="326" height="162" filter="url(#streak)"/></g>
<g clip-path="url(#clipZ)" opacity="0.22"><rect x="50" y="745" width="326" height="162" filter="url(#streak2)"/></g>
<rect x="50" y="905" width="325.7" height="11" fill="#6e6e6e"/>
<rect x="50" y="915" width="325.7" height="20" fill="#d0d0d0"/>
<polyline points="50,906 70,903 90,906 110,904 130,907 145,904 155,901 168,906 195,904 215,906 240,905 260,903 280,900 295,895 310,903 330,905 350,904 375.7,905" fill="none" stroke="#f2f2f2" stroke-width="3.2" stroke-linejoin="round"/>
<rect x="50" y="631" width="325.7" height="303.3" filter="url(#noiseF)"/>
</g>
<rect x="248" y="884" width="97" height="4.6" fill="#ffffff"/>
<text x="260.5" y="875.2" font-family="Liberation Sans, sans-serif" font-size="20" fill="#ffffff" textLength="66.5" lengthAdjust="spacingAndGlyphs" >500 nm</text>
<text x="416.7" y="639.3" font-family="Liberation Sans, sans-serif" font-size="30" fill="#000" >g</text>
<line x1="494.5" y1="655.4" x2="1185.4" y2="655.4" stroke="#7f7f7f" stroke-width="1" />
<line x1="494.5" y1="655.4" x2="494.5" y2="908.3" stroke="#595959" stroke-width="1.1" />
<line x1="1185.4" y1="655.4" x2="1185.4" y2="908.3" stroke="#595959" stroke-width="1.1" />
<line x1="494.5" y1="908.3" x2="1185.4" y2="908.3" stroke="#595959" stroke-width="1.1" />
<line x1="489.2" y1="908.285" x2="500" y2="908.285" stroke="#595959" stroke-width="1.1" />
<line x1="490.8" y1="896.7924999999999" x2="494.5" y2="896.7924999999999" stroke="#595959" stroke-width="1.1" />
<line x1="489.2" y1="885.3" x2="500" y2="885.3" stroke="#595959" stroke-width="1.1" />
<line x1="490.8" y1="873.8075" x2="494.5" y2="873.8075" stroke="#595959" stroke-width="1.1" />
<line x1="489.2" y1="862.3149999999999" x2="500" y2="862.3149999999999" stroke="#595959" stroke-width="1.1" />
<line x1="490.8" y1="850.8225" x2="494.5" y2="850.8225" stroke="#595959" stroke-width="1.1" />
<line x1="489.2" y1="839.3299999999999" x2="500" y2="839.3299999999999" stroke="#595959" stroke-width="1.1" />
<line x1="490.8" y1="827.8375" x2="494.5" y2="827.8375" stroke="#595959" stroke-width="1.1" />
<line x1="489.2" y1="816.3449999999999" x2="500" y2="816.3449999999999" stroke="#595959" stroke-width="1.1" />
<line x1="490.8" y1="804.8525" x2="494.5" y2="804.8525" stroke="#595959" stroke-width="1.1" />
<line x1="489.2" y1="793.3599999999999" x2="500" y2="793.3599999999999" stroke="#595959" stroke-width="1.1" />
<line x1="490.8" y1="781.8675" x2="494.5" y2="781.8675" stroke="#595959" stroke-width="1.1" />
<line x1="489.2" y1="770.375" x2="500" y2="770.375" stroke="#595959" stroke-width="1.1" />
<line x1="490.8" y1="758.8824999999999" x2="494.5" y2="758.8824999999999" stroke="#595959" stroke-width="1.1" />
<line x1="489.2" y1="747.3899999999999" x2="500" y2="747.3899999999999" stroke="#595959" stroke-width="1.1" />
<line x1="490.8" y1="735.8974999999999" x2="494.5" y2="735.8974999999999" stroke="#595959" stroke-width="1.1" />
<line x1="489.2" y1="724.405" x2="500" y2="724.405" stroke="#595959" stroke-width="1.1" />
<line x1="490.8" y1="712.9124999999999" x2="494.5" y2="712.9124999999999" stroke="#595959" stroke-width="1.1" />
<line x1="489.2" y1="701.42" x2="500" y2="701.42" stroke="#595959" stroke-width="1.1" />
<line x1="490.8" y1="689.9274999999999" x2="494.5" y2="689.9274999999999" stroke="#595959" stroke-width="1.1" />
<line x1="489.2" y1="678.435" x2="500" y2="678.435" stroke="#595959" stroke-width="1.1" />
<line x1="490.8" y1="666.9424999999999" x2="494.5" y2="666.9424999999999" stroke="#595959" stroke-width="1.1" />
<line x1="489.2" y1="655.4499999999999" x2="500" y2="655.4499999999999" stroke="#595959" stroke-width="1.1" />
<text x="478" y="891.5" font-family="Liberation Sans, sans-serif" font-size="16.5" fill="#000" textLength="10" lengthAdjust="spacingAndGlyphs" text-anchor="end" >0</text>
<text x="478" y="845.53" font-family="Liberation Sans, sans-serif" font-size="16.5" fill="#000" textLength="20.5" lengthAdjust="spacingAndGlyphs" text-anchor="end" >20</text>
<text x="478" y="799.56" font-family="Liberation Sans, sans-serif" font-size="16.5" fill="#000" textLength="20.5" lengthAdjust="spacingAndGlyphs" text-anchor="end" >40</text>
<text x="478" y="753.5899999999999" font-family="Liberation Sans, sans-serif" font-size="16.5" fill="#000" textLength="20.5" lengthAdjust="spacingAndGlyphs" text-anchor="end" >60</text>
<text x="478" y="707.62" font-family="Liberation Sans, sans-serif" font-size="16.5" fill="#000" textLength="20.5" lengthAdjust="spacingAndGlyphs" text-anchor="end" >80</text>
<text x="478" y="661.65" font-family="Liberation Sans, sans-serif" font-size="16.5" fill="#000" textLength="31" lengthAdjust="spacingAndGlyphs" text-anchor="end" >100</text>
<line x1="494.5" y1="903.8" x2="494.5" y2="912.6" stroke="#595959" stroke-width="1.1" />
<text x="494.5" y="935.8" font-family="Liberation Sans, sans-serif" font-size="16.5" fill="#000" textLength="10" lengthAdjust="spacingAndGlyphs" text-anchor="middle" >0</text>
<line x1="529.04" y1="908.3" x2="529.04" y2="912.6" stroke="#595959" stroke-width="1.1" />
<line x1="563.58" y1="903.8" x2="563.58" y2="912.6" stroke="#595959" stroke-width="1.1" />
<text x="563.58" y="935.8" font-family="Liberation Sans, sans-serif" font-size="16.5" fill="#000" textLength="20.5" lengthAdjust="spacingAndGlyphs" text-anchor="middle" >50</text>
<line x1="598.12" y1="908.3" x2="598.12" y2="912.6" stroke="#595959" stroke-width="1.1" />
<line x1="632.66" y1="903.8" x2="632.66" y2="912.6" stroke="#595959" stroke-width="1.1" />
<text x="632.66" y="935.8" font-family="Liberation Sans, sans-serif" font-size="16.5" fill="#000" textLength="31.5" lengthAdjust="spacingAndGlyphs" text-anchor="middle" >100</text>
<line x1="667.2" y1="908.3" x2="667.2" y2="912.6" stroke="#595959" stroke-width="1.1" />
<line x1="701.74" y1="903.8" x2="701.74" y2="912.6" stroke="#595959" stroke-width="1.1" />
<text x="701.74" y="935.8" font-family="Liberation Sans, sans-serif" font-size="16.5" fill="#000" textLength="31.5" lengthAdjust="spacingAndGlyphs" text-anchor="middle" >150</text>
<line x1="736.28" y1="908.3" x2="736.28" y2="912.6" stroke="#595959" stroke-width="1.1" />
<line x1="770.8199999999999" y1="903.8" x2="770.8199999999999" y2="912.6" stroke="#595959" stroke-width="1.1" />
<text x="770.8199999999999" y="935.8" font-family="Liberation Sans, sans-serif" font-size="16.5" fill="#000" textLength="31.5" lengthAdjust="spacingAndGlyphs" text-anchor="middle" >200</text>
<line x1="805.36" y1="908.3" x2="805.36" y2="912.6" stroke="#595959" stroke-width="1.1" />
<line x1="839.9" y1="903.8" x2="839.9" y2="912.6" stroke="#595959" stroke-width="1.1" />
<text x="839.9" y="935.8" font-family="Liberation Sans, sans-serif" font-size="16.5" fill="#000" textLength="31.5" lengthAdjust="spacingAndGlyphs" text-anchor="middle" >250</text>
<line x1="874.44" y1="908.3" x2="874.44" y2="912.6" stroke="#595959" stroke-width="1.1" />
<line x1="908.98" y1="903.8" x2="908.98" y2="912.6" stroke="#595959" stroke-width="1.1" />
<text x="908.98" y="935.8" font-family="Liberation Sans, sans-serif" font-size="16.5" fill="#000" textLength="31.5" lengthAdjust="spacingAndGlyphs" text-anchor="middle" >300</text>
<line x1="943.52" y1="908.3" x2="943.52" y2="912.6" stroke="#595959" stroke-width="1.1" />
<line x1="978.06" y1="903.8" x2="978.06" y2="912.6" stroke="#595959" stroke-width="1.1" />
<text x="978.06" y="935.8" font-family="Liberation Sans, sans-serif" font-size="16.5" fill="#000" textLength="31.5" lengthAdjust="spacingAndGlyphs" text-anchor="middle" >350</text>
<line x1="1012.6" y1="908.3" x2="1012.6" y2="912.6" stroke="#595959" stroke-width="1.1" />
<line x1="1047.1399999999999" y1="903.8" x2="1047.1399999999999" y2="912.6" stroke="#595959" stroke-width="1.1" />
<text x="1047.1399999999999" y="935.8" font-family="Liberation Sans, sans-serif" font-size="16.5" fill="#000" textLength="31.5" lengthAdjust="spacingAndGlyphs" text-anchor="middle" >400</text>
<line x1="1081.6799999999998" y1="908.3" x2="1081.6799999999998" y2="912.6" stroke="#595959" stroke-width="1.1" />
<line x1="1116.22" y1="903.8" x2="1116.22" y2="912.6" stroke="#595959" stroke-width="1.1" />
<text x="1116.22" y="935.8" font-family="Liberation Sans, sans-serif" font-size="16.5" fill="#000" textLength="31.5" lengthAdjust="spacingAndGlyphs" text-anchor="middle" >450</text>
<line x1="1150.76" y1="908.3" x2="1150.76" y2="912.6" stroke="#595959" stroke-width="1.1" />
<line x1="1185.3" y1="903.8" x2="1185.3" y2="912.6" stroke="#595959" stroke-width="1.1" />
<text x="1185.3" y="935.8" font-family="Liberation Sans, sans-serif" font-size="16.5" fill="#000" textLength="31.5" lengthAdjust="spacingAndGlyphs" text-anchor="middle" >500</text>
<text x="0" y="0" transform="translate(431.7,894.8) rotate(-90)" font-family="Liberation Sans" font-size="21" textLength="207.3" lengthAdjust="spacingAndGlyphs">Atomic percentage (%)</text>
<text x="794" y="969.8" font-family="Liberation Sans, sans-serif" font-size="20.5" fill="#000" textLength="125.5" lengthAdjust="spacingAndGlyphs" >Distance (nm)</text>
<g filter="url(#blur4)"><polyline points="496.0,885.9 503.8,885.9 511.6,885.9 519.3,885.9 527.1,885.9 534.9,885.9 542.7,885.9 550.5,885.9 558.2,885.9 566.0,885.9 573.8,885.9 581.6,885.9 589.4,885.9 597.1,885.9 604.9,885.9 612.7,885.9 620.5,885.9 628.3,885.9 636.0,885.9 643.8,885.9 651.6,874.0 659.4,885.9 667.2,885.9 674.9,885.9 682.7,885.9 690.5,885.9 698.3,885.9 706.1,873.1 713.8,885.9 721.6,885.9 729.4,885.9 737.2,885.9 745.0,885.9 752.7,880.7 760.5,885.9 768.3,885.9 776.1,885.9 783.9,885.9 791.6,885.9 799.4,885.9 807.2,885.9 815.0,872.2 822.8,885.9 830.5,885.9 838.3,885.9 846.1,876.3 853.9,885.9 861.7,885.9 869.4,885.9 877.2,885.9 885.0,885.9 892.8,885.9 900.6,885.9 908.3,885.9 916.1,879.3 923.9,885.9 931.7,863.9 939.5,885.9 947.2,885.9 955.0,885.9 962.8,885.9 970.6,885.9 978.4,885.9 986.1,885.9 993.9,885.9 1001.7,885.9 1009.5,885.9 1017.3,885.9 1025.0,885.9 1032.8,885.9 1040.6,885.9 1048.4,880.5 1056.2,885.9 1063.9,885.9 1071.7,885.9 1079.5,885.9 1087.3,885.9 1095.1,885.9 1102.8,875.2 1110.6,885.9 1118.4,885.9 1126.2,885.9 1134.0,885.9 1141.7,885.9 1149.5,885.9 1157.3,885.9 1165.1,885.9 1172.9,885.9 1180.6,880.7" fill="none" stroke="#3a78ff" stroke-width="13" stroke-linejoin="round" opacity="0.42"/></g>
<g filter="url(#blur1)">
<rect x="492.0" y="890.0999999999999" width="692.6399999999999" height="1.8" fill="#000828" opacity="0.7"/>
</g>
<polyline points="496.0,884.4 503.8,884.4 511.6,884.4 519.3,884.4 527.1,884.4 534.9,875.2 542.7,833.1 550.5,800.0 558.2,797.5 566.0,779.1 573.8,789.2 581.6,833.4 589.4,858.4 597.1,879.6 604.9,884.4 612.7,884.4 620.5,884.4 628.3,884.4 636.0,884.4 643.8,864.2 651.6,860.0 659.4,863.5 667.2,868.3 674.9,879.6 682.7,884.6 690.5,884.0 698.3,884.7 706.1,884.0 713.8,884.4 721.6,884.3 729.4,884.1 737.2,884.4 745.0,884.6 752.7,884.7 760.5,884.8 768.3,884.2 776.1,884.4 783.9,884.7 791.6,884.0 799.4,884.6 807.2,884.5 815.0,884.6 822.8,884.3 830.5,884.3 838.3,880.2 846.1,884.6 853.9,884.6 861.7,880.2 869.4,884.5 877.2,884.7 885.0,884.7 892.8,880.2 900.6,884.0 908.3,884.7 916.1,884.8 923.9,884.7 931.7,884.2 939.5,880.2 947.2,884.8 955.0,884.3 962.8,884.8 970.6,884.4 978.4,884.3 986.1,883.9 993.9,880.2 1001.7,884.1 1009.5,884.0 1017.3,884.0 1025.0,884.8 1032.8,884.4 1040.6,880.2 1048.4,884.5 1056.2,880.2 1063.9,884.3 1071.7,884.1 1079.5,880.2 1087.3,884.8 1095.1,884.8 1102.8,884.7 1110.6,884.6 1118.4,884.0 1126.2,884.3 1134.0,880.2 1141.7,884.3 1149.5,884.3 1157.3,884.1 1165.1,880.2 1172.9,884.0 1180.6,884.1" fill="none" stroke="#ffc000" stroke-width="2.5" stroke-linejoin="round" />
<rect x="491.2" y="879.6" width="9.6" height="9.6" fill="#ffc000"/>
<path d="M492.2,880.6 L499.8,888.2 M499.8,880.6 L492.2,888.2 M496.0,880.1 L496.0,888.7" stroke="#000" stroke-width="0.9"/>
<rect x="499.0" y="879.6" width="9.6" height="9.6" fill="#ffc000"/>
<path d="M500.0,880.6 L507.6,888.2 M507.6,880.6 L500.0,888.2 M503.8,880.1 L503.8,888.7" stroke="#000" stroke-width="0.9"/>
<rect x="506.8" y="879.6" width="9.6" height="9.6" fill="#ffc000"/>
<path d="M507.8,880.6 L515.4,888.2 M515.4,880.6 L507.8,888.2 M511.6,880.1 L511.6,888.7" stroke="#000" stroke-width="0.9"/>
<rect x="514.5" y="879.6" width="9.6" height="9.6" fill="#ffc000"/>
<path d="M515.5,880.6 L523.1,888.2 M523.1,880.6 L515.5,888.2 M519.3,880.1 L519.3,888.7" stroke="#000" stroke-width="0.9"/>
<rect x="522.3" y="879.6" width="9.6" height="9.6" fill="#ffc000"/>
<path d="M523.3,880.6 L530.9,888.2 M530.9,880.6 L523.3,888.2 M527.1,880.1 L527.1,888.7" stroke="#000" stroke-width="0.9"/>
<rect x="530.1" y="870.4" width="9.6" height="9.6" fill="#ffc000"/>
<path d="M531.1,871.4 L538.7,879.0 M538.7,871.4 L531.1,879.0 M534.9,870.9 L534.9,879.5" stroke="#000" stroke-width="0.9"/>
<rect x="537.9" y="828.3" width="9.6" height="9.6" fill="#ffc000"/>
<path d="M538.9,829.3 L546.5,836.9 M546.5,829.3 L538.9,836.9 M542.7,828.8 L542.7,837.4" stroke="#000" stroke-width="0.9"/>
<rect x="545.7" y="795.2" width="9.6" height="9.6" fill="#ffc000"/>
<path d="M546.7,796.2 L554.3,803.8 M554.3,796.2 L546.7,803.8 M550.5,795.7 L550.5,804.3" stroke="#000" stroke-width="0.9"/>
<rect x="553.4" y="792.7" width="9.6" height="9.6" fill="#ffc000"/>
<path d="M554.4,793.7 L562.0,801.3 M562.0,793.7 L554.4,801.3 M558.2,793.2 L558.2,801.8" stroke="#000" stroke-width="0.9"/>
<rect x="561.2" y="774.3" width="9.6" height="9.6" fill="#ffc000"/>
<path d="M562.2,775.3 L569.8,782.9 M569.8,775.3 L562.2,782.9 M566.0,774.8 L566.0,783.4" stroke="#000" stroke-width="0.9"/>
<rect x="569.0" y="784.4" width="9.6" height="9.6" fill="#ffc000"/>
<path d="M570.0,785.4 L577.6,793.0 M577.6,785.4 L570.0,793.0 M573.8,784.9 L573.8,793.5" stroke="#000" stroke-width="0.9"/>
<rect x="576.8" y="828.6" width="9.6" height="9.6" fill="#ffc000"/>
<path d="M577.8,829.6 L585.4,837.2 M585.4,829.6 L577.8,837.2 M581.6,829.1 L581.6,837.7" stroke="#000" stroke-width="0.9"/>
<rect x="584.6" y="853.6" width="9.6" height="9.6" fill="#ffc000"/>
<path d="M585.6,854.6 L593.2,862.2 M593.2,854.6 L585.6,862.2 M589.4,854.1 L589.4,862.7" stroke="#000" stroke-width="0.9"/>
<rect x="592.3" y="874.8" width="9.6" height="9.6" fill="#ffc000"/>
<path d="M593.3,875.8 L600.9,883.4 M600.9,875.8 L593.3,883.4 M597.1,875.3 L597.1,883.9" stroke="#000" stroke-width="0.9"/>
<rect x="600.1" y="879.6" width="9.6" height="9.6" fill="#ffc000"/>
<path d="M601.1,880.6 L608.7,888.2 M608.7,880.6 L601.1,888.2 M604.9,880.1 L604.9,888.7" stroke="#000" stroke-width="0.9"/>
<rect x="607.9" y="879.6" width="9.6" height="9.6" fill="#ffc000"/>
<path d="M608.9,880.6 L616.5,888.2 M616.5,880.6 L608.9,888.2 M612.7,880.1 L612.7,888.7" stroke="#000" stroke-width="0.9"/>
<rect x="615.7" y="879.6" width="9.6" height="9.6" fill="#ffc000"/>
<path d="M616.7,880.6 L624.3,888.2 M624.3,880.6 L616.7,888.2 M620.5,880.1 L620.5,888.7" stroke="#000" stroke-width="0.9"/>
<rect x="623.5" y="879.6" width="9.6" height="9.6" fill="#ffc000"/>
<path d="M624.5,880.6 L632.1,888.2 M632.1,880.6 L624.5,888.2 M628.3,880.1 L628.3,888.7" stroke="#000" stroke-width="0.9"/>
<rect x="631.2" y="879.6" width="9.6" height="9.6" fill="#ffc000"/>
<path d="M632.2,880.6 L639.8,888.2 M639.8,880.6 L632.2,888.2 M636.0,880.1 L636.0,888.7" stroke="#000" stroke-width="0.9"/>
<rect x="639.0" y="859.4" width="9.6" height="9.6" fill="#ffc000"/>
<path d="M640.0,860.4 L647.6,868.0 M647.6,860.4 L640.0,868.0 M643.8,859.9 L643.8,868.5" stroke="#000" stroke-width="0.9"/>
<rect x="646.8" y="855.2" width="9.6" height="9.6" fill="#ffc000"/>
<path d="M647.8,856.2 L655.4,863.8 M655.4,856.2 L647.8,863.8 M651.6,855.7 L651.6,864.3" stroke="#000" stroke-width="0.9"/>
<rect x="654.6" y="858.7" width="9.6" height="9.6" fill="#ffc000"/>
<path d="M655.6,859.7 L663.2,867.3 M663.2,859.7 L655.6,867.3 M659.4,859.2 L659.4,867.8" stroke="#000" stroke-width="0.9"/>
<rect x="662.4" y="863.5" width="9.6" height="9.6" fill="#ffc000"/>
<path d="M663.4,864.5 L671.0,872.1 M671.0,864.5 L663.4,872.1 M667.2,864.0 L667.2,872.6" stroke="#000" stroke-width="0.9"/>
<rect x="670.1" y="874.8" width="9.6" height="9.6" fill="#ffc000"/>
<path d="M671.1,875.8 L678.7,883.4 M678.7,875.8 L671.1,883.4 M674.9,875.3 L674.9,883.9" stroke="#000" stroke-width="0.9"/>
<rect x="677.9" y="879.8" width="9.6" height="9.6" fill="#ffc000"/>
<path d="M678.9,880.8 L686.5,888.4 M686.5,880.8 L678.9,888.4 M682.7,880.3 L682.7,888.9" stroke="#000" stroke-width="0.9"/>
<rect x="685.7" y="879.2" width="9.6" height="9.6" fill="#ffc000"/>
<path d="M686.7,880.2 L694.3,887.8 M694.3,880.2 L686.7,887.8 M690.5,879.7 L690.5,888.3" stroke="#000" stroke-width="0.9"/>
<rect x="693.5" y="879.9" width="9.6" height="9.6" fill="#ffc000"/>
<path d="M694.5,880.9 L702.1,888.5 M702.1,880.9 L694.5,888.5 M698.3,880.4 L698.3,889.0" stroke="#000" stroke-width="0.9"/>
<rect x="701.3" y="879.2" width="9.6" height="9.6" fill="#ffc000"/>
<path d="M702.3,880.2 L709.9,887.8 M709.9,880.2 L702.3,887.8 M706.1,879.7 L706.1,888.3" stroke="#000" stroke-width="0.9"/>
<rect x="709.0" y="879.6" width="9.6" height="9.6" fill="#ffc000"/>
<path d="M710.0,880.6 L717.6,888.2 M717.6,880.6 L710.0,888.2 M713.8,880.1 L713.8,888.7" stroke="#000" stroke-width="0.9"/>
<rect x="716.8" y="879.5" width="9.6" height="9.6" fill="#ffc000"/>
<path d="M717.8,880.5 L725.4,888.1 M725.4,880.5 L717.8,888.1 M721.6,880.0 L721.6,888.6" stroke="#000" stroke-width="0.9"/>
<rect x="724.6" y="879.3" width="9.6" height="9.6" fill="#ffc000"/>
<path d="M725.6,880.3 L733.2,887.9 M733.2,880.3 L725.6,887.9 M729.4,879.8 L729.4,888.4" stroke="#000" stroke-width="0.9"/>
<rect x="732.4" y="879.6" width="9.6" height="9.6" fill="#ffc000"/>
<path d="M733.4,880.6 L741.0,888.2 M741.0,880.6 L733.4,888.2 M737.2,880.1 L737.2,888.7" stroke="#000" stroke-width="0.9"/>
<rect x="740.2" y="879.8" width="9.6" height="9.6" fill="#ffc000"/>
<path d="M741.2,880.8 L748.8,888.4 M748.8,880.8 L741.2,888.4 M745.0,880.3 L745.0,888.9" stroke="#000" stroke-width="0.9"/>
<rect x="747.9" y="879.9" width="9.6" height="9.6" fill="#ffc000"/>
<path d="M748.9,880.9 L756.5,888.5 M756.5,880.9 L748.9,888.5 M752.7,880.4 L752.7,889.0" stroke="#000" stroke-width="0.9"/>
<rect x="755.7" y="880.0" width="9.6" height="9.6" fill="#ffc000"/>
<path d="M756.7,881.0 L764.3,888.6 M764.3,881.0 L756.7,888.6 M760.5,880.5 L760.5,889.1" stroke="#000" stroke-width="0.9"/>
<rect x="763.5" y="879.4" width="9.6" height="9.6" fill="#ffc000"/>
<path d="M764.5,880.4 L772.1,888.0 M772.1,880.4 L764.5,888.0 M768.3,879.9 L768.3,888.5" stroke="#000" stroke-width="0.9"/>
<rect x="771.3" y="879.6" width="9.6" height="9.6" fill="#ffc000"/>
<path d="M772.3,880.6 L779.9,888.2 M779.9,880.6 L772.3,888.2 M776.1,880.1 L776.1,888.7" stroke="#000" stroke-width="0.9"/>
<rect x="779.1" y="879.9" width="9.6" height="9.6" fill="#ffc000"/>
<path d="M780.1,880.9 L787.7,888.5 M787.7,880.9 L780.1,888.5 M783.9,880.4 L783.9,889.0" stroke="#000" stroke-width="0.9"/>
<rect x="786.8" y="879.2" width="9.6" height="9.6" fill="#ffc000"/>
<path d="M787.8,880.2 L795.4,887.8 M795.4,880.2 L787.8,887.8 M791.6,879.7 L791.6,888.3" stroke="#000" stroke-width="0.9"/>
<rect x="794.6" y="879.8" width="9.6" height="9.6" fill="#ffc000"/>
<path d="M795.6,880.8 L803.2,888.4 M803.2,880.8 L795.6,888.4 M799.4,880.3 L799.4,888.9" stroke="#000" stroke-width="0.9"/>
<rect x="802.4" y="879.7" width="9.6" height="9.6" fill="#ffc000"/>
<path d="M803.4,880.7 L811.0,888.3 M811.0,880.7 L803.4,888.3 M807.2,880.2 L807.2,888.8" stroke="#000" stroke-width="0.9"/>
<rect x="810.2" y="879.8" width="9.6" height="9.6" fill="#ffc000"/>
<path d="M811.2,880.8 L818.8,888.4 M818.8,880.8 L811.2,888.4 M815.0,880.3 L815.0,888.9" stroke="#000" stroke-width="0.9"/>
<rect x="818.0" y="879.5" width="9.6" height="9.6" fill="#ffc000"/>
<path d="M819.0,880.5 L826.6,888.1 M826.6,880.5 L819.0,888.1 M822.8,880.0 L822.8,888.6" stroke="#000" stroke-width="0.9"/>
<rect x="825.7" y="879.5" width="9.6" height="9.6" fill="#ffc000"/>
<path d="M826.7,880.5 L834.3,888.1 M834.3,880.5 L826.7,888.1 M830.5,880.0 L830.5,888.6" stroke="#000" stroke-width="0.9"/>
<rect x="833.5" y="875.4" width="9.6" height="9.6" fill="#ffc000"/>
<path d="M834.5,876.4 L842.1,884.0 M842.1,876.4 L834.5,884.0 M838.3,875.9 L838.3,884.5" stroke="#000" stroke-width="0.9"/>
<rect x="841.3" y="879.8" width="9.6" height="9.6" fill="#ffc000"/>
<path d="M842.3,880.8 L849.9,888.4 M849.9,880.8 L842.3,888.4 M846.1,880.3 L846.1,888.9" stroke="#000" stroke-width="0.9"/>
<rect x="849.1" y="879.8" width="9.6" height="9.6" fill="#ffc000"/>
<path d="M850.1,880.8 L857.7,888.4 M857.7,880.8 L850.1,888.4 M853.9,880.3 L853.9,888.9" stroke="#000" stroke-width="0.9"/>
<rect x="856.9" y="875.4" width="9.6" height="9.6" fill="#ffc000"/>
<path d="M857.9,876.4 L865.5,884.0 M865.5,876.4 L857.9,884.0 M861.7,875.9 L861.7,884.5" stroke="#000" stroke-width="0.9"/>
<rect x="864.6" y="879.7" width="9.6" height="9.6" fill="#ffc000"/>
<path d="M865.6,880.7 L873.2,888.3 M873.2,880.7 L865.6,888.3 M869.4,880.2 L869.4,888.8" stroke="#000" stroke-width="0.9"/>
<rect x="872.4" y="879.9" width="9.6" height="9.6" fill="#ffc000"/>
<path d="M873.4,880.9 L881.0,888.5 M881.0,880.9 L873.4,888.5 M877.2,880.4 L877.2,889.0" stroke="#000" stroke-width="0.9"/>
<rect x="880.2" y="879.9" width="9.6" height="9.6" fill="#ffc000"/>
<path d="M881.2,880.9 L888.8,888.5 M888.8,880.9 L881.2,888.5 M885.0,880.4 L885.0,889.0" stroke="#000" stroke-width="0.9"/>
<rect x="888.0" y="875.4" width="9.6" height="9.6" fill="#ffc000"/>
<path d="M889.0,876.4 L896.6,884.0 M896.6,876.4 L889.0,884.0 M892.8,875.9 L892.8,884.5" stroke="#000" stroke-width="0.9"/>
<rect x="895.8" y="879.2" width="9.6" height="9.6" fill="#ffc000"/>
<path d="M896.8,880.2 L904.4,887.8 M904.4,880.2 L896.8,887.8 M900.6,879.7 L900.6,888.3" stroke="#000" stroke-width="0.9"/>
<rect x="903.5" y="879.9" width="9.6" height="9.6" fill="#ffc000"/>
<path d="M904.5,880.9 L912.1,888.5 M912.1,880.9 L904.5,888.5 M908.3,880.4 L908.3,889.0" stroke="#000" stroke-width="0.9"/>
<rect x="911.3" y="880.0" width="9.6" height="9.6" fill="#ffc000"/>
<path d="M912.3,881.0 L919.9,888.6 M919.9,881.0 L912.3,888.6 M916.1,880.5 L916.1,889.1" stroke="#000" stroke-width="0.9"/>
<rect x="919.1" y="879.9" width="9.6" height="9.6" fill="#ffc000"/>
<path d="M920.1,880.9 L927.7,888.5 M927.7,880.9 L920.1,888.5 M923.9,880.4 L923.9,889.0" stroke="#000" stroke-width="0.9"/>
<rect x="926.9" y="879.4" width="9.6" height="9.6" fill="#ffc000"/>
<path d="M927.9,880.4 L935.5,888.0 M935.5,880.4 L927.9,888.0 M931.7,879.9 L931.7,888.5" stroke="#000" stroke-width="0.9"/>
<rect x="934.7" y="875.4" width="9.6" height="9.6" fill="#ffc000"/>
<path d="M935.7,876.4 L943.3,884.0 M943.3,876.4 L935.7,884.0 M939.5,875.9 L939.5,884.5" stroke="#000" stroke-width="0.9"/>
<rect x="942.4" y="880.0" width="9.6" height="9.6" fill="#ffc000"/>
<path d="M943.4,881.0 L951.0,888.6 M951.0,881.0 L943.4,888.6 M947.2,880.5 L947.2,889.1" stroke="#000" stroke-width="0.9"/>
<rect x="950.2" y="879.5" width="9.6" height="9.6" fill="#ffc000"/>
<path d="M951.2,880.5 L958.8,888.1 M958.8,880.5 L951.2,888.1 M955.0,880.0 L955.0,888.6" stroke="#000" stroke-width="0.9"/>
<rect x="958.0" y="880.0" width="9.6" height="9.6" fill="#ffc000"/>
<path d="M959.0,881.0 L966.6,888.6 M966.6,881.0 L959.0,888.6 M962.8,880.5 L962.8,889.1" stroke="#000" stroke-width="0.9"/>
<rect x="965.8" y="879.6" width="9.6" height="9.6" fill="#ffc000"/>
<path d="M966.8,880.6 L974.4,888.2 M974.4,880.6 L966.8,888.2 M970.6,880.1 L970.6,888.7" stroke="#000" stroke-width="0.9"/>
<rect x="973.6" y="879.5" width="9.6" height="9.6" fill="#ffc000"/>
<path d="M974.6,880.5 L982.2,888.1 M982.2,880.5 L974.6,888.1 M978.4,880.0 L978.4,888.6" stroke="#000" stroke-width="0.9"/>
<rect x="981.3" y="879.1" width="9.6" height="9.6" fill="#ffc000"/>
<path d="M982.3,880.1 L989.9,887.7 M989.9,880.1 L982.3,887.7 M986.1,879.6 L986.1,888.2" stroke="#000" stroke-width="0.9"/>
<rect x="989.1" y="875.4" width="9.6" height="9.6" fill="#ffc000"/>
<path d="M990.1,876.4 L997.7,884.0 M997.7,876.4 L990.1,884.0 M993.9,875.9 L993.9,884.5" stroke="#000" stroke-width="0.9"/>
<rect x="996.9" y="879.3" width="9.6" height="9.6" fill="#ffc000"/>
<path d="M997.9,880.3 L1005.5,887.9 M1005.5,880.3 L997.9,887.9 M1001.7,879.8 L1001.7,888.4" stroke="#000" stroke-width="0.9"/>
<rect x="1004.7" y="879.2" width="9.6" height="9.6" fill="#ffc000"/>
<path d="M1005.7,880.2 L1013.3,887.8 M1013.3,880.2 L1005.7,887.8 M1009.5,879.7 L1009.5,888.3" stroke="#000" stroke-width="0.9"/>
<rect x="1012.5" y="879.2" width="9.6" height="9.6" fill="#ffc000"/>
<path d="M1013.5,880.2 L1021.1,887.8 M1021.1,880.2 L1013.5,887.8 M1017.3,879.7 L1017.3,888.3" stroke="#000" stroke-width="0.9"/>
<rect x="1020.2" y="880.0" width="9.6" height="9.6" fill="#ffc000"/>
<path d="M1021.2,881.0 L1028.8,888.6 M1028.8,881.0 L1021.2,888.6 M1025.0,880.5 L1025.0,889.1" stroke="#000" stroke-width="0.9"/>
<rect x="1028.0" y="879.6" width="9.6" height="9.6" fill="#ffc000"/>
<path d="M1029.0,880.6 L1036.6,888.2 M1036.6,880.6 L1029.0,888.2 M1032.8,880.1 L1032.8,888.7" stroke="#000" stroke-width="0.9"/>
<rect x="1035.8" y="875.4" width="9.6" height="9.6" fill="#ffc000"/>
<path d="M1036.8,876.4 L1044.4,884.0 M1044.4,876.4 L1036.8,884.0 M1040.6,875.9 L1040.6,884.5" stroke="#000" stroke-width="0.9"/>
<rect x="1043.6" y="879.7" width="9.6" height="9.6" fill="#ffc000"/>
<path d="M1044.6,880.7 L1052.2,888.3 M1052.2,880.7 L1044.6,888.3 M1048.4,880.2 L1048.4,888.8" stroke="#000" stroke-width="0.9"/>
<rect x="1051.4" y="875.4" width="9.6" height="9.6" fill="#ffc000"/>
<path d="M1052.4,876.4 L1060.0,884.0 M1060.0,876.4 L1052.4,884.0 M1056.2,875.9 L1056.2,884.5" stroke="#000" stroke-width="0.9"/>
<rect x="1059.1" y="879.5" width="9.6" height="9.6" fill="#ffc000"/>
<path d="M1060.1,880.5 L1067.7,888.1 M1067.7,880.5 L1060.1,888.1 M1063.9,880.0 L1063.9,888.6" stroke="#000" stroke-width="0.9"/>
<rect x="1066.9" y="879.3" width="9.6" height="9.6" fill="#ffc000"/>
<path d="M1067.9,880.3 L1075.5,887.9 M1075.5,880.3 L1067.9,887.9 M1071.7,879.8 L1071.7,888.4" stroke="#000" stroke-width="0.9"/>
<rect x="1074.7" y="875.4" width="9.6" height="9.6" fill="#ffc000"/>
<path d="M1075.7,876.4 L1083.3,884.0 M1083.3,876.4 L1075.7,884.0 M1079.5,875.9 L1079.5,884.5" stroke="#000" stroke-width="0.9"/>
<rect x="1082.5" y="880.0" width="9.6" height="9.6" fill="#ffc000"/>
<path d="M1083.5,881.0 L1091.1,888.6 M1091.1,881.0 L1083.5,888.6 M1087.3,880.5 L1087.3,889.1" stroke="#000" stroke-width="0.9"/>
<rect x="1090.3" y="880.0" width="9.6" height="9.6" fill="#ffc000"/>
<path d="M1091.3,881.0 L1098.9,888.6 M1098.9,881.0 L1091.3,888.6 M1095.1,880.5 L1095.1,889.1" stroke="#000" stroke-width="0.9"/>
<rect x="1098.0" y="879.9" width="9.6" height="9.6" fill="#ffc000"/>
<path d="M1099.0,880.9 L1106.6,888.5 M1106.6,880.9 L1099.0,888.5 M1102.8,880.4 L1102.8,889.0" stroke="#000" stroke-width="0.9"/>
<rect x="1105.8" y="879.8" width="9.6" height="9.6" fill="#ffc000"/>
<path d="M1106.8,880.8 L1114.4,888.4 M1114.4,880.8 L1106.8,888.4 M1110.6,880.3 L1110.6,888.9" stroke="#000" stroke-width="0.9"/>
<rect x="1113.6" y="879.2" width="9.6" height="9.6" fill="#ffc000"/>
<path d="M1114.6,880.2 L1122.2,887.8 M1122.2,880.2 L1114.6,887.8 M1118.4,879.7 L1118.4,888.3" stroke="#000" stroke-width="0.9"/>
<rect x="1121.4" y="879.5" width="9.6" height="9.6" fill="#ffc000"/>
<path d="M1122.4,880.5 L1130.0,888.1 M1130.0,880.5 L1122.4,888.1 M1126.2,880.0 L1126.2,888.6" stroke="#000" stroke-width="0.9"/>
<rect x="1129.2" y="875.4" width="9.6" height="9.6" fill="#ffc000"/>
<path d="M1130.2,876.4 L1137.8,884.0 M1137.8,876.4 L1130.2,884.0 M1134.0,875.9 L1134.0,884.5" stroke="#000" stroke-width="0.9"/>
<rect x="1136.9" y="879.5" width="9.6" height="9.6" fill="#ffc000"/>
<path d="M1137.9,880.5 L1145.5,888.1 M1145.5,880.5 L1137.9,888.1 M1141.7,880.0 L1141.7,888.6" stroke="#000" stroke-width="0.9"/>
<rect x="1144.7" y="879.5" width="9.6" height="9.6" fill="#ffc000"/>
<path d="M1145.7,880.5 L1153.3,888.1 M1153.3,880.5 L1145.7,888.1 M1149.5,880.0 L1149.5,888.6" stroke="#000" stroke-width="0.9"/>
<rect x="1152.5" y="879.3" width="9.6" height="9.6" fill="#ffc000"/>
<path d="M1153.5,880.3 L1161.1,887.9 M1161.1,880.3 L1153.5,887.9 M1157.3,879.8 L1157.3,888.4" stroke="#000" stroke-width="0.9"/>
<rect x="1160.3" y="875.4" width="9.6" height="9.6" fill="#ffc000"/>
<path d="M1161.3,876.4 L1168.9,884.0 M1168.9,876.4 L1161.3,884.0 M1165.1,875.9 L1165.1,884.5" stroke="#000" stroke-width="0.9"/>
<rect x="1168.1" y="879.2" width="9.6" height="9.6" fill="#ffc000"/>
<path d="M1169.1,880.2 L1176.7,887.8 M1176.7,880.2 L1169.1,887.8 M1172.9,879.7 L1172.9,888.3" stroke="#000" stroke-width="0.9"/>
<rect x="1175.8" y="879.3" width="9.6" height="9.6" fill="#ffc000"/>
<path d="M1176.8,880.3 L1184.4,887.9 M1184.4,880.3 L1176.8,887.9 M1180.6,879.8 L1180.6,888.4" stroke="#000" stroke-width="0.9"/>
<g filter="url(#blur4)"><polyline points="612.7,886.7 620.5,886.7 628.3,886.7 636.0,886.7 643.8,856.8 651.6,816.8 659.4,845.1 667.2,873.3 674.9,886.7 682.7,886.7 690.5,886.7 698.3,886.7" fill="none" stroke="#5a90ff" stroke-width="16" stroke-linejoin="round" opacity="0.55"/></g>
<polyline points="496.0,886.7 503.8,886.7 511.6,886.7 519.3,886.7 527.1,886.7 534.9,886.7 542.7,886.7 550.5,886.7 558.2,886.7 566.0,886.7 573.8,886.7 581.6,886.7 589.4,886.7 597.1,886.7 604.9,886.7 612.7,886.7 620.5,886.7 628.3,886.7 636.0,886.7 643.8,856.8 651.6,816.8 659.4,845.1 667.2,873.3 674.9,886.7 682.7,886.7 690.5,886.7 698.3,886.7 706.1,886.7 713.8,886.7 721.6,886.7 729.4,886.7 737.2,886.7 745.0,886.7 752.7,886.7 760.5,886.7 768.3,886.7 776.1,886.7 783.9,886.7 791.6,886.7 799.4,886.7 807.2,886.7 815.0,886.7 822.8,886.7 830.5,886.7 838.3,886.7 846.1,886.7 853.9,886.7 861.7,886.7 869.4,886.7 877.2,886.7 885.0,886.7 892.8,886.7 900.6,886.7 908.3,886.7 916.1,886.7 923.9,886.7 931.7,886.7 939.5,886.7 947.2,886.7 955.0,886.7 962.8,886.7 970.6,886.7 978.4,886.7 986.1,886.7 993.9,886.7 1001.7,886.7 1009.5,886.7 1017.3,886.7 1025.0,886.7 1032.8,886.7 1040.6,886.7 1048.4,886.7 1056.2,886.7 1063.9,886.7 1071.7,886.7 1079.5,886.7 1087.3,886.7 1095.1,886.7 1102.8,886.7 1110.6,886.7 1118.4,886.7 1126.2,886.7 1134.0,886.7 1141.7,886.7 1149.5,886.7 1157.3,886.7 1165.1,886.7 1172.9,886.7 1180.6,886.7" fill="none" stroke="#0000ff" stroke-width="2.2" stroke-linejoin="round" />
<rect x="492.6" y="883.3" width="6.8" height="6.8" fill="#0000ff"/>
<rect x="500.4" y="883.3" width="6.8" height="6.8" fill="#0000ff"/>
<rect x="508.2" y="883.3" width="6.8" height="6.8" fill="#0000ff"/>
<rect x="515.9" y="883.3" width="6.8" height="6.8" fill="#0000ff"/>
<rect x="523.7" y="883.3" width="6.8" height="6.8" fill="#0000ff"/>
<rect x="531.5" y="883.3" width="6.8" height="6.8" fill="#0000ff"/>
<rect x="539.3" y="883.3" width="6.8" height="6.8" fill="#0000ff"/>
<rect x="547.1" y="883.3" width="6.8" height="6.8" fill="#0000ff"/>
<rect x="554.8" y="883.3" width="6.8" height="6.8" fill="#0000ff"/>
<rect x="562.6" y="883.3" width="6.8" height="6.8" fill="#0000ff"/>
<rect x="570.4" y="883.3" width="6.8" height="6.8" fill="#0000ff"/>
<rect x="578.2" y="883.3" width="6.8" height="6.8" fill="#0000ff"/>
<rect x="586.0" y="883.3" width="6.8" height="6.8" fill="#0000ff"/>
<rect x="593.7" y="883.3" width="6.8" height="6.8" fill="#0000ff"/>
<rect x="601.5" y="883.3" width="6.8" height="6.8" fill="#0000ff"/>
<rect x="609.3" y="883.3" width="6.8" height="6.8" fill="#0000ff"/>
<rect x="617.1" y="883.3" width="6.8" height="6.8" fill="#0000ff"/>
<rect x="624.9" y="883.3" width="6.8" height="6.8" fill="#0000ff"/>
<rect x="632.6" y="883.3" width="6.8" height="6.8" fill="#0000ff"/>
<rect x="639.8" y="852.8" width="8" height="8" fill="#0000ff"/>
<rect x="647.6" y="812.8" width="8" height="8" fill="#0000ff"/>
<rect x="655.4" y="841.1" width="8" height="8" fill="#0000ff"/>
<rect x="663.2" y="869.3" width="8" height="8" fill="#0000ff"/>
<rect x="671.5" y="883.3" width="6.8" height="6.8" fill="#0000ff"/>
<rect x="679.3" y="883.3" width="6.8" height="6.8" fill="#0000ff"/>
<rect x="687.1" y="883.3" width="6.8" height="6.8" fill="#0000ff"/>
<rect x="694.9" y="883.3" width="6.8" height="6.8" fill="#0000ff"/>
<rect x="702.7" y="883.3" width="6.8" height="6.8" fill="#0000ff"/>
<rect x="710.4" y="883.3" width="6.8" height="6.8" fill="#0000ff"/>
<rect x="718.2" y="883.3" width="6.8" height="6.8" fill="#0000ff"/>
<rect x="726.0" y="883.3" width="6.8" height="6.8" fill="#0000ff"/>
<rect x="733.8" y="883.3" width="6.8" height="6.8" fill="#0000ff"/>
<rect x="741.6" y="883.3" width="6.8" height="6.8" fill="#0000ff"/>
<rect x="749.3" y="883.3" width="6.8" height="6.8" fill="#0000ff"/>
<rect x="757.1" y="883.3" width="6.8" height="6.8" fill="#0000ff"/>
<rect x="764.9" y="883.3" width="6.8" height="6.8" fill="#0000ff"/>
<rect x="772.7" y="883.3" width="6.8" height="6.8" fill="#0000ff"/>
<rect x="780.5" y="883.3" width="6.8" height="6.8" fill="#0000ff"/>
<rect x="788.2" y="883.3" width="6.8" height="6.8" fill="#0000ff"/>
<rect x="796.0" y="883.3" width="6.8" height="6.8" fill="#0000ff"/>
<rect x="803.8" y="883.3" width="6.8" height="6.8" fill="#0000ff"/>
<rect x="811.6" y="883.3" width="6.8" height="6.8" fill="#0000ff"/>
<rect x="819.4" y="883.3" width="6.8" height="6.8" fill="#0000ff"/>
<rect x="827.1" y="883.3" width="6.8" height="6.8" fill="#0000ff"/>
<rect x="834.9" y="883.3" width="6.8" height="6.8" fill="#0000ff"/>
<rect x="842.7" y="883.3" width="6.8" height="6.8" fill="#0000ff"/>
<rect x="850.5" y="883.3" width="6.8" height="6.8" fill="#0000ff"/>
<rect x="858.3" y="883.3" width="6.8" height="6.8" fill="#0000ff"/>
<rect x="866.0" y="883.3" width="6.8" height="6.8" fill="#0000ff"/>
<rect x="873.8" y="883.3" width="6.8" height="6.8" fill="#0000ff"/>
<rect x="881.6" y="883.3" width="6.8" height="6.8" fill="#0000ff"/>
<rect x="889.4" y="883.3" width="6.8" height="6.8" fill="#0000ff"/>
<rect x="897.2" y="883.3" width="6.8" height="6.8" fill="#0000ff"/>
<rect x="904.9" y="883.3" width="6.8" height="6.8" fill="#0000ff"/>
<rect x="912.7" y="883.3" width="6.8" height="6.8" fill="#0000ff"/>
<rect x="920.5" y="883.3" width="6.8" height="6.8" fill="#0000ff"/>
<rect x="928.3" y="883.3" width="6.8" height="6.8" fill="#0000ff"/>
<rect x="936.1" y="883.3" width="6.8" height="6.8" fill="#0000ff"/>
<rect x="943.8" y="883.3" width="6.8" height="6.8" fill="#0000ff"/>
<rect x="951.6" y="883.3" width="6.8" height="6.8" fill="#0000ff"/>
<rect x="959.4" y="883.3" width="6.8" height="6.8" fill="#0000ff"/>
<rect x="967.2" y="883.3" width="6.8" height="6.8" fill="#0000ff"/>
<rect x="975.0" y="883.3" width="6.8" height="6.8" fill="#0000ff"/>
<rect x="982.7" y="883.3" width="6.8" height="6.8" fill="#0000ff"/>
<rect x="990.5" y="883.3" width="6.8" height="6.8" fill="#0000ff"/>
<rect x="998.3" y="883.3" width="6.8" height="6.8" fill="#0000ff"/>
<rect x="1006.1" y="883.3" width="6.8" height="6.8" fill="#0000ff"/>
<rect x="1013.9" y="883.3" width="6.8" height="6.8" fill="#0000ff"/>
<rect x="1021.6" y="883.3" width="6.8" height="6.8" fill="#0000ff"/>
<rect x="1029.4" y="883.3" width="6.8" height="6.8" fill="#0000ff"/>
<rect x="1037.2" y="883.3" width="6.8" height="6.8" fill="#0000ff"/>
<rect x="1045.0" y="883.3" width="6.8" height="6.8" fill="#0000ff"/>
<rect x="1052.8" y="883.3" width="6.8" height="6.8" fill="#0000ff"/>
<rect x="1060.5" y="883.3" width="6.8" height="6.8" fill="#0000ff"/>
<rect x="1068.3" y="883.3" width="6.8" height="6.8" fill="#0000ff"/>
<rect x="1076.1" y="883.3" width="6.8" height="6.8" fill="#0000ff"/>
<rect x="1083.9" y="883.3" width="6.8" height="6.8" fill="#0000ff"/>
<rect x="1091.7" y="883.3" width="6.8" height="6.8" fill="#0000ff"/>
<rect x="1099.4" y="883.3" width="6.8" height="6.8" fill="#0000ff"/>
<rect x="1107.2" y="883.3" width="6.8" height="6.8" fill="#0000ff"/>
<rect x="1115.0" y="883.3" width="6.8" height="6.8" fill="#0000ff"/>
<rect x="1122.8" y="883.3" width="6.8" height="6.8" fill="#0000ff"/>
<rect x="1130.6" y="883.3" width="6.8" height="6.8" fill="#0000ff"/>
<rect x="1138.3" y="883.3" width="6.8" height="6.8" fill="#0000ff"/>
<rect x="1146.1" y="883.3" width="6.8" height="6.8" fill="#0000ff"/>
<rect x="1153.9" y="883.3" width="6.8" height="6.8" fill="#0000ff"/>
<rect x="1161.7" y="883.3" width="6.8" height="6.8" fill="#0000ff"/>
<rect x="1169.5" y="883.3" width="6.8" height="6.8" fill="#0000ff"/>
<rect x="1177.2" y="883.3" width="6.8" height="6.8" fill="#0000ff"/>
<g filter="url(#blur4)"><polyline points="643.8,885.1 651.6,885.1 659.4,876.8 667.2,830.8 674.9,787.2 682.7,783.7 690.5,798.4 698.3,813.1 706.1,791.1 713.8,781.9 721.6,801.2 729.4,803.9 737.2,804.9 745.0,803.9 752.7,800.3 760.5,815.0 768.3,802.1 776.1,802.1 783.9,787.2 791.6,786.5 799.4,823.2 807.2,876.8 815.0,885.1 822.8,885.1" fill="none" stroke="#ff9a50" stroke-width="8" stroke-linejoin="round" opacity="0.7"/></g>
<polyline points="496.0,885.1 503.8,885.1 511.6,885.1 519.3,885.1 527.1,885.1 534.9,885.1 542.7,885.1 550.5,885.1 558.2,885.1 566.0,885.1 573.8,885.1 581.6,885.1 589.4,885.1 597.1,885.1 604.9,885.1 612.7,885.1 620.5,885.1 628.3,885.1 636.0,885.1 643.8,885.1 651.6,885.1 659.4,876.8 667.2,830.8 674.9,787.2 682.7,783.7 690.5,798.4 698.3,813.1 706.1,791.1 713.8,781.9 721.6,801.2 729.4,803.9 737.2,804.9 745.0,803.9 752.7,800.3 760.5,815.0 768.3,802.1 776.1,802.1 783.9,787.2 791.6,786.5 799.4,823.2 807.2,876.8 815.0,885.1 822.8,885.1 830.5,885.1 838.3,885.1 846.1,884.4 853.9,885.1 861.7,885.1 869.4,885.1 877.2,885.1 885.0,885.1 892.8,885.1 900.6,885.1 908.3,885.1 916.1,884.4 923.9,885.1 931.7,884.4 939.5,885.1 947.2,885.1 955.0,885.1 962.8,885.1 970.6,885.1 978.4,885.1 986.1,885.1 993.9,885.1 1001.7,885.1 1009.5,885.1 1017.3,885.1 1025.0,885.1 1032.8,885.1 1040.6,885.1 1048.4,885.1 1056.2,885.1 1063.9,885.1 1071.7,885.1 1079.5,885.1 1087.3,885.1 1095.1,885.1 1102.8,884.4 1110.6,885.1 1118.4,885.1 1126.2,885.1 1134.0,885.1 1141.7,885.1 1149.5,885.1 1157.3,885.1 1165.1,885.1 1172.9,885.1 1180.6,885.1" fill="none" stroke="#ff1a68" stroke-width="2.2" stroke-linejoin="round" />
<polygon points="496.0,879.5 501.6,885.1 496.0,890.7 490.4,885.1" fill="#ff1a68"/>
<polygon points="503.8,879.5 509.4,885.1 503.8,890.7 498.2,885.1" fill="#ff1a68"/>
<polygon points="511.6,879.5 517.2,885.1 511.6,890.7 506.0,885.1" fill="#ff1a68"/>
<polygon points="519.3,879.5 524.9,885.1 519.3,890.7 513.7,885.1" fill="#ff1a68"/>
<polygon points="527.1,879.5 532.7,885.1 527.1,890.7 521.5,885.1" fill="#ff1a68"/>
<polygon points="534.9,879.5 540.5,885.1 534.9,890.7 529.3,885.1" fill="#ff1a68"/>
<polygon points="542.7,879.5 548.3,885.1 542.7,890.7 537.1,885.1" fill="#ff1a68"/>
<polygon points="550.5,879.5 556.1,885.1 550.5,890.7 544.9,885.1" fill="#ff1a68"/>
<polygon points="558.2,879.5 563.8,885.1 558.2,890.7 552.6,885.1" fill="#ff1a68"/>
<polygon points="566.0,879.5 571.6,885.1 566.0,890.7 560.4,885.1" fill="#ff1a68"/>
<polygon points="573.8,879.5 579.4,885.1 573.8,890.7 568.2,885.1" fill="#ff1a68"/>
<polygon points="581.6,879.5 587.2,885.1 581.6,890.7 576.0,885.1" fill="#ff1a68"/>
<polygon points="589.4,879.5 595.0,885.1 589.4,890.7 583.8,885.1" fill="#ff1a68"/>
<polygon points="597.1,879.5 602.7,885.1 597.1,890.7 591.5,885.1" fill="#ff1a68"/>
<polygon points="604.9,879.5 610.5,885.1 604.9,890.7 599.3,885.1" fill="#ff1a68"/>
<polygon points="612.7,879.5 618.3,885.1 612.7,890.7 607.1,885.1" fill="#ff1a68"/>
<polygon points="620.5,879.5 626.1,885.1 620.5,890.7 614.9,885.1" fill="#ff1a68"/>
<polygon points="628.3,879.5 633.9,885.1 628.3,890.7 622.7,885.1" fill="#ff1a68"/>
<polygon points="636.0,879.5 641.6,885.1 636.0,890.7 630.4,885.1" fill="#ff1a68"/>
<polygon points="643.8,879.5 649.4,885.1 643.8,890.7 638.2,885.1" fill="#ff1a68"/>
<polygon points="651.6,879.5 657.2,885.1 651.6,890.7 646.0,885.1" fill="#ff1a68"/>
<polygon points="659.4,871.2 665.0,876.8 659.4,882.4 653.8,876.8" fill="#ff1a68"/>
<polygon points="667.2,825.2 672.8,830.8 667.2,836.4 661.6,830.8" fill="#ff1a68"/>
<polygon points="674.9,781.6 680.5,787.2 674.9,792.8 669.3,787.2" fill="#ff1a68"/>
<polygon points="682.7,778.1 688.3,783.7 682.7,789.3 677.1,783.7" fill="#ff1a68"/>
<polygon points="690.5,792.8 696.1,798.4 690.5,804.0 684.9,798.4" fill="#ff1a68"/>
<polygon points="698.3,807.5 703.9,813.1 698.3,818.7 692.7,813.1" fill="#ff1a68"/>
<polygon points="706.1,785.5 711.7,791.1 706.1,796.7 700.5,791.1" fill="#ff1a68"/>
<polygon points="713.8,776.3 719.4,781.9 713.8,787.5 708.2,781.9" fill="#ff1a68"/>
<polygon points="721.6,795.6 727.2,801.2 721.6,806.8 716.0,801.2" fill="#ff1a68"/>
<polygon points="729.4,798.3 735.0,803.9 729.4,809.5 723.8,803.9" fill="#ff1a68"/>
<polygon points="737.2,799.3 742.8,804.9 737.2,810.5 731.6,804.9" fill="#ff1a68"/>
<polygon points="745.0,798.3 750.6,803.9 745.0,809.5 739.4,803.9" fill="#ff1a68"/>
<polygon points="752.7,794.7 758.3,800.3 752.7,805.9 747.1,800.3" fill="#ff1a68"/>
<polygon points="760.5,809.4 766.1,815.0 760.5,820.6 754.9,815.0" fill="#ff1a68"/>
<polygon points="768.3,796.5 773.9,802.1 768.3,807.7 762.7,802.1" fill="#ff1a68"/>
<polygon points="776.1,796.5 781.7,802.1 776.1,807.7 770.5,802.1" fill="#ff1a68"/>
<polygon points="783.9,781.6 789.5,787.2 783.9,792.8 778.3,787.2" fill="#ff1a68"/>
<polygon points="791.6,780.9 797.2,786.5 791.6,792.1 786.0,786.5" fill="#ff1a68"/>
<polygon points="799.4,817.6 805.0,823.2 799.4,828.8 793.8,823.2" fill="#ff1a68"/>
<polygon points="807.2,871.2 812.8,876.8 807.2,882.4 801.6,876.8" fill="#ff1a68"/>
<polygon points="815.0,879.5 820.6,885.1 815.0,890.7 809.4,885.1" fill="#ff1a68"/>
<polygon points="822.8,879.5 828.4,885.1 822.8,890.7 817.2,885.1" fill="#ff1a68"/>
<polygon points="830.5,879.5 836.1,885.1 830.5,890.7 824.9,885.1" fill="#ff1a68"/>
<polygon points="838.3,879.5 843.9,885.1 838.3,890.7 832.7,885.1" fill="#ff1a68"/>
<polygon points="846.1,878.8 851.7,884.4 846.1,890.0 840.5,884.4" fill="#ff1a68"/>
<polygon points="853.9,879.5 859.5,885.1 853.9,890.7 848.3,885.1" fill="#ff1a68"/>
<polygon points="861.7,879.5 867.3,885.1 861.7,890.7 856.1,885.1" fill="#ff1a68"/>
<polygon points="869.4,879.5 875.0,885.1 869.4,890.7 863.8,885.1" fill="#ff1a68"/>
<polygon points="877.2,879.5 882.8,885.1 877.2,890.7 871.6,885.1" fill="#ff1a68"/>
<polygon points="885.0,879.5 890.6,885.1 885.0,890.7 879.4,885.1" fill="#ff1a68"/>
<polygon points="892.8,879.5 898.4,885.1 892.8,890.7 887.2,885.1" fill="#ff1a68"/>
<polygon points="900.6,879.5 906.2,885.1 900.6,890.7 895.0,885.1" fill="#ff1a68"/>
<polygon points="908.3,879.5 913.9,885.1 908.3,890.7 902.7,885.1" fill="#ff1a68"/>
<polygon points="916.1,878.8 921.7,884.4 916.1,890.0 910.5,884.4" fill="#ff1a68"/>
<polygon points="923.9,879.5 929.5,885.1 923.9,890.7 918.3,885.1" fill="#ff1a68"/>
<polygon points="931.7,878.8 937.3,884.4 931.7,890.0 926.1,884.4" fill="#ff1a68"/>
<polygon points="939.5,879.5 945.1,885.1 939.5,890.7 933.9,885.1" fill="#ff1a68"/>
<polygon points="947.2,879.5 952.8,885.1 947.2,890.7 941.6,885.1" fill="#ff1a68"/>
<polygon points="955.0,879.5 960.6,885.1 955.0,890.7 949.4,885.1" fill="#ff1a68"/>
<polygon points="962.8,879.5 968.4,885.1 962.8,890.7 957.2,885.1" fill="#ff1a68"/>
<polygon points="970.6,879.5 976.2,885.1 970.6,890.7 965.0,885.1" fill="#ff1a68"/>
<polygon points="978.4,879.5 984.0,885.1 978.4,890.7 972.8,885.1" fill="#ff1a68"/>
<polygon points="986.1,879.5 991.7,885.1 986.1,890.7 980.5,885.1" fill="#ff1a68"/>
<polygon points="993.9,879.5 999.5,885.1 993.9,890.7 988.3,885.1" fill="#ff1a68"/>
<polygon points="1001.7,879.5 1007.3,885.1 1001.7,890.7 996.1,885.1" fill="#ff1a68"/>
<polygon points="1009.5,879.5 1015.1,885.1 1009.5,890.7 1003.9,885.1" fill="#ff1a68"/>
<polygon points="1017.3,879.5 1022.9,885.1 1017.3,890.7 1011.7,885.1" fill="#ff1a68"/>
<polygon points="1025.0,879.5 1030.6,885.1 1025.0,890.7 1019.4,885.1" fill="#ff1a68"/>
<polygon points="1032.8,879.5 1038.4,885.1 1032.8,890.7 1027.2,885.1" fill="#ff1a68"/>
<polygon points="1040.6,879.5 1046.2,885.1 1040.6,890.7 1035.0,885.1" fill="#ff1a68"/>
<polygon points="1048.4,879.5 1054.0,885.1 1048.4,890.7 1042.8,885.1" fill="#ff1a68"/>
<polygon points="1056.2,879.5 1061.8,885.1 1056.2,890.7 1050.6,885.1" fill="#ff1a68"/>
<polygon points="1063.9,879.5 1069.5,885.1 1063.9,890.7 1058.3,885.1" fill="#ff1a68"/>
<polygon points="1071.7,879.5 1077.3,885.1 1071.7,890.7 1066.1,885.1" fill="#ff1a68"/>
<polygon points="1079.5,879.5 1085.1,885.1 1079.5,890.7 1073.9,885.1" fill="#ff1a68"/>
<polygon points="1087.3,879.5 1092.9,885.1 1087.3,890.7 1081.7,885.1" fill="#ff1a68"/>
<polygon points="1095.1,879.5 1100.7,885.1 1095.1,890.7 1089.5,885.1" fill="#ff1a68"/>
<polygon points="1102.8,878.8 1108.4,884.4 1102.8,890.0 1097.2,884.4" fill="#ff1a68"/>
<polygon points="1110.6,879.5 1116.2,885.1 1110.6,890.7 1105.0,885.1" fill="#ff1a68"/>
<polygon points="1118.4,879.5 1124.0,885.1 1118.4,890.7 1112.8,885.1" fill="#ff1a68"/>
<polygon points="1126.2,879.5 1131.8,885.1 1126.2,890.7 1120.6,885.1" fill="#ff1a68"/>
<polygon points="1134.0,879.5 1139.6,885.1 1134.0,890.7 1128.4,885.1" fill="#ff1a68"/>
<polygon points="1141.7,879.5 1147.3,885.1 1141.7,890.7 1136.1,885.1" fill="#ff1a68"/>
<polygon points="1149.5,879.5 1155.1,885.1 1149.5,890.7 1143.9,885.1" fill="#ff1a68"/>
<polygon points="1157.3,879.5 1162.9,885.1 1157.3,890.7 1151.7,885.1" fill="#ff1a68"/>
<polygon points="1165.1,879.5 1170.7,885.1 1165.1,890.7 1159.5,885.1" fill="#ff1a68"/>
<polygon points="1172.9,879.5 1178.5,885.1 1172.9,890.7 1167.3,885.1" fill="#ff1a68"/>
<polygon points="1180.6,879.5 1186.2,885.1 1180.6,890.7 1175.0,885.1" fill="#ff1a68"/>
<polyline points="496.0,884.3 503.8,884.3 511.6,884.3 519.3,884.3 527.1,884.3 534.9,884.3 542.7,884.3 550.5,884.3 558.2,884.3 566.0,884.3 573.8,884.3 581.6,884.3 589.4,884.3 597.1,884.3 604.9,884.3 612.7,884.3 620.5,884.3 628.3,884.3 636.0,884.3 643.8,884.3 651.6,881.9 659.4,879.6 667.2,884.3 674.9,884.3 682.7,884.3 690.5,884.3 698.3,884.3 706.1,882.5 713.8,884.3 721.6,884.3 729.4,884.3 737.2,884.3 745.0,884.3 752.7,884.3 760.5,884.3 768.3,884.3 776.1,884.3 783.9,884.3 791.6,884.3 799.4,857.5 807.2,817.7 815.0,829.0 822.8,809.4 830.5,797.3 838.3,809.7 846.1,815.9 853.9,800.5 861.7,812.7 869.4,813.6 877.2,810.6 885.0,809.7 892.8,799.3 900.6,815.9 908.3,800.5 916.1,796.3 923.9,797.3 931.7,808.5 939.5,799.3 947.2,805.5 955.0,813.6 962.8,784.9 970.6,816.8 978.4,811.7 986.1,799.3 993.9,804.4 1001.7,808.5 1009.5,808.5 1017.3,804.4 1025.0,802.6 1032.8,810.6 1040.6,810.6 1048.4,807.6 1056.2,802.6 1063.9,811.7 1071.7,793.1 1079.5,790.1 1087.3,809.7 1095.1,805.5 1102.8,790.1 1110.6,806.7 1118.4,807.6 1126.2,812.7 1134.0,818.9 1141.7,811.7 1149.5,811.7 1157.3,795.2 1165.1,806.7 1172.9,806.7 1180.6,809.7" fill="none" stroke="#f0189a" stroke-width="2.2" stroke-linejoin="round" />
<rect x="491.0" y="879.3" width="10" height="10" fill="#f0189a"/>
<path d="M492.0,880.3 L500.0,888.3 M500.0,880.3 L492.0,888.3" stroke="#ffd0f0" stroke-width="0.8"/>
<rect x="498.8" y="879.3" width="10" height="10" fill="#f0189a"/>
<path d="M499.8,880.3 L507.8,888.3 M507.8,880.3 L499.8,888.3" stroke="#ffd0f0" stroke-width="0.8"/>
<rect x="506.6" y="879.3" width="10" height="10" fill="#f0189a"/>
<path d="M507.6,880.3 L515.6,888.3 M515.6,880.3 L507.6,888.3" stroke="#ffd0f0" stroke-width="0.8"/>
<rect x="514.3" y="879.3" width="10" height="10" fill="#f0189a"/>
<path d="M515.3,880.3 L523.3,888.3 M523.3,880.3 L515.3,888.3" stroke="#ffd0f0" stroke-width="0.8"/>
<rect x="522.1" y="879.3" width="10" height="10" fill="#f0189a"/>
<path d="M523.1,880.3 L531.1,888.3 M531.1,880.3 L523.1,888.3" stroke="#ffd0f0" stroke-width="0.8"/>
<rect x="529.9" y="879.3" width="10" height="10" fill="#f0189a"/>
<path d="M530.9,880.3 L538.9,888.3 M538.9,880.3 L530.9,888.3" stroke="#ffd0f0" stroke-width="0.8"/>
<rect x="537.7" y="879.3" width="10" height="10" fill="#f0189a"/>
<path d="M538.7,880.3 L546.7,888.3 M546.7,880.3 L538.7,888.3" stroke="#ffd0f0" stroke-width="0.8"/>
<rect x="545.5" y="879.3" width="10" height="10" fill="#f0189a"/>
<path d="M546.5,880.3 L554.5,888.3 M554.5,880.3 L546.5,888.3" stroke="#ffd0f0" stroke-width="0.8"/>
<rect x="553.2" y="879.3" width="10" height="10" fill="#f0189a"/>
<path d="M554.2,880.3 L562.2,888.3 M562.2,880.3 L554.2,888.3" stroke="#ffd0f0" stroke-width="0.8"/>
<rect x="561.0" y="879.3" width="10" height="10" fill="#f0189a"/>
<path d="M562.0,880.3 L570.0,888.3 M570.0,880.3 L562.0,888.3" stroke="#ffd0f0" stroke-width="0.8"/>
<rect x="568.8" y="879.3" width="10" height="10" fill="#f0189a"/>
<path d="M569.8,880.3 L577.8,888.3 M577.8,880.3 L569.8,888.3" stroke="#ffd0f0" stroke-width="0.8"/>
<rect x="576.6" y="879.3" width="10" height="10" fill="#f0189a"/>
<path d="M577.6,880.3 L585.6,888.3 M585.6,880.3 L577.6,888.3" stroke="#ffd0f0" stroke-width="0.8"/>
<rect x="584.4" y="879.3" width="10" height="10" fill="#f0189a"/>
<path d="M585.4,880.3 L593.4,888.3 M593.4,880.3 L585.4,888.3" stroke="#ffd0f0" stroke-width="0.8"/>
<rect x="592.1" y="879.3" width="10" height="10" fill="#f0189a"/>
<path d="M593.1,880.3 L601.1,888.3 M601.1,880.3 L593.1,888.3" stroke="#ffd0f0" stroke-width="0.8"/>
<rect x="599.9" y="879.3" width="10" height="10" fill="#f0189a"/>
<path d="M600.9,880.3 L608.9,888.3 M608.9,880.3 L600.9,888.3" stroke="#ffd0f0" stroke-width="0.8"/>
<rect x="607.7" y="879.3" width="10" height="10" fill="#f0189a"/>
<path d="M608.7,880.3 L616.7,888.3 M616.7,880.3 L608.7,888.3" stroke="#ffd0f0" stroke-width="0.8"/>
<rect x="615.5" y="879.3" width="10" height="10" fill="#f0189a"/>
<path d="M616.5,880.3 L624.5,888.3 M624.5,880.3 L616.5,888.3" stroke="#ffd0f0" stroke-width="0.8"/>
<rect x="623.3" y="879.3" width="10" height="10" fill="#f0189a"/>
<path d="M624.3,880.3 L632.3,888.3 M632.3,880.3 L624.3,888.3" stroke="#ffd0f0" stroke-width="0.8"/>
<rect x="631.0" y="879.3" width="10" height="10" fill="#f0189a"/>
<path d="M632.0,880.3 L640.0,888.3 M640.0,880.3 L632.0,888.3" stroke="#ffd0f0" stroke-width="0.8"/>
<rect x="638.8" y="879.3" width="10" height="10" fill="#f0189a"/>
<path d="M639.8,880.3 L647.8,888.3 M647.8,880.3 L639.8,888.3" stroke="#ffd0f0" stroke-width="0.8"/>
<rect x="646.6" y="876.9" width="10" height="10" fill="#f0189a"/>
<path d="M647.6,877.9 L655.6,885.9 M655.6,877.9 L647.6,885.9" stroke="#ffd0f0" stroke-width="0.8"/>
<rect x="654.4" y="874.6" width="10" height="10" fill="#f0189a"/>
<path d="M655.4,875.6 L663.4,883.6 M663.4,875.6 L655.4,883.6" stroke="#ffd0f0" stroke-width="0.8"/>
<rect x="662.2" y="879.3" width="10" height="10" fill="#f0189a"/>
<path d="M663.2,880.3 L671.2,888.3 M671.2,880.3 L663.2,888.3" stroke="#ffd0f0" stroke-width="0.8"/>
<rect x="669.9" y="879.3" width="10" height="10" fill="#f0189a"/>
<path d="M670.9,880.3 L678.9,888.3 M678.9,880.3 L670.9,888.3" stroke="#ffd0f0" stroke-width="0.8"/>
<rect x="677.7" y="879.3" width="10" height="10" fill="#f0189a"/>
<path d="M678.7,880.3 L686.7,888.3 M686.7,880.3 L678.7,888.3" stroke="#ffd0f0" stroke-width="0.8"/>
<rect x="685.5" y="879.3" width="10" height="10" fill="#f0189a"/>
<path d="M686.5,880.3 L694.5,888.3 M694.5,880.3 L686.5,888.3" stroke="#ffd0f0" stroke-width="0.8"/>
<rect x="693.3" y="879.3" width="10" height="10" fill="#f0189a"/>
<path d="M694.3,880.3 L702.3,888.3 M702.3,880.3 L694.3,888.3" stroke="#ffd0f0" stroke-width="0.8"/>
<rect x="701.1" y="877.5" width="10" height="10" fill="#f0189a"/>
<path d="M702.1,878.5 L710.1,886.5 M710.1,878.5 L702.1,886.5" stroke="#ffd0f0" stroke-width="0.8"/>
<rect x="708.8" y="879.3" width="10" height="10" fill="#f0189a"/>
<path d="M709.8,880.3 L717.8,888.3 M717.8,880.3 L709.8,888.3" stroke="#ffd0f0" stroke-width="0.8"/>
<rect x="716.6" y="879.3" width="10" height="10" fill="#f0189a"/>
<path d="M717.6,880.3 L725.6,888.3 M725.6,880.3 L717.6,888.3" stroke="#ffd0f0" stroke-width="0.8"/>
<rect x="724.4" y="879.3" width="10" height="10" fill="#f0189a"/>
<path d="M725.4,880.3 L733.4,888.3 M733.4,880.3 L725.4,888.3" stroke="#ffd0f0" stroke-width="0.8"/>
<rect x="732.2" y="879.3" width="10" height="10" fill="#f0189a"/>
<path d="M733.2,880.3 L741.2,888.3 M741.2,880.3 L733.2,888.3" stroke="#ffd0f0" stroke-width="0.8"/>
<rect x="740.0" y="879.3" width="10" height="10" fill="#f0189a"/>
<path d="M741.0,880.3 L749.0,888.3 M749.0,880.3 L741.0,888.3" stroke="#ffd0f0" stroke-width="0.8"/>
<rect x="747.7" y="879.3" width="10" height="10" fill="#f0189a"/>
<path d="M748.7,880.3 L756.7,888.3 M756.7,880.3 L748.7,888.3" stroke="#ffd0f0" stroke-width="0.8"/>
<rect x="755.5" y="879.3" width="10" height="10" fill="#f0189a"/>
<path d="M756.5,880.3 L764.5,888.3 M764.5,880.3 L756.5,888.3" stroke="#ffd0f0" stroke-width="0.8"/>
<rect x="763.3" y="879.3" width="10" height="10" fill="#f0189a"/>
<path d="M764.3,880.3 L772.3,888.3 M772.3,880.3 L764.3,888.3" stroke="#ffd0f0" stroke-width="0.8"/>
<rect x="771.1" y="879.3" width="10" height="10" fill="#f0189a"/>
<path d="M772.1,880.3 L780.1,888.3 M780.1,880.3 L772.1,888.3" stroke="#ffd0f0" stroke-width="0.8"/>
<rect x="778.9" y="879.3" width="10" height="10" fill="#f0189a"/>
<path d="M779.9,880.3 L787.9,888.3 M787.9,880.3 L779.9,888.3" stroke="#ffd0f0" stroke-width="0.8"/>
<rect x="786.6" y="879.3" width="10" height="10" fill="#f0189a"/>
<path d="M787.6,880.3 L795.6,888.3 M795.6,880.3 L787.6,888.3" stroke="#ffd0f0" stroke-width="0.8"/>
<rect x="794.4" y="852.5" width="10" height="10" fill="#f0189a"/>
<path d="M795.4,853.5 L803.4,861.5 M803.4,853.5 L795.4,861.5" stroke="#ffd0f0" stroke-width="0.8"/>
<rect x="802.2" y="812.7" width="10" height="10" fill="#f0189a"/>
<path d="M803.2,813.7 L811.2,821.7 M811.2,813.7 L803.2,821.7" stroke="#ffd0f0" stroke-width="0.8"/>
<rect x="810.0" y="824.0" width="10" height="10" fill="#f0189a"/>
<path d="M811.0,825.0 L819.0,833.0 M819.0,825.0 L811.0,833.0" stroke="#ffd0f0" stroke-width="0.8"/>
<rect x="817.8" y="804.4" width="10" height="10" fill="#f0189a"/>
<path d="M818.8,805.4 L826.8,813.4 M826.8,805.4 L818.8,813.4" stroke="#ffd0f0" stroke-width="0.8"/>
<rect x="825.5" y="792.3" width="10" height="10" fill="#f0189a"/>
<path d="M826.5,793.3 L834.5,801.3 M834.5,793.3 L826.5,801.3" stroke="#ffd0f0" stroke-width="0.8"/>
<rect x="833.3" y="804.7" width="10" height="10" fill="#f0189a"/>
<path d="M834.3,805.7 L842.3,813.7 M842.3,805.7 L834.3,813.7" stroke="#ffd0f0" stroke-width="0.8"/>
<rect x="841.1" y="810.9" width="10" height="10" fill="#f0189a"/>
<path d="M842.1,811.9 L850.1,819.9 M850.1,811.9 L842.1,819.9" stroke="#ffd0f0" stroke-width="0.8"/>
<rect x="848.9" y="795.5" width="10" height="10" fill="#f0189a"/>
<path d="M849.9,796.5 L857.9,804.5 M857.9,796.5 L849.9,804.5" stroke="#ffd0f0" stroke-width="0.8"/>
<rect x="856.7" y="807.7" width="10" height="10" fill="#f0189a"/>
<path d="M857.7,808.7 L865.7,816.7 M865.7,808.7 L857.7,816.7" stroke="#ffd0f0" stroke-width="0.8"/>
<rect x="864.4" y="808.6" width="10" height="10" fill="#f0189a"/>
<path d="M865.4,809.6 L873.4,817.6 M873.4,809.6 L865.4,817.6" stroke="#ffd0f0" stroke-width="0.8"/>
<rect x="872.2" y="805.6" width="10" height="10" fill="#f0189a"/>
<path d="M873.2,806.6 L881.2,814.6 M881.2,806.6 L873.2,814.6" stroke="#ffd0f0" stroke-width="0.8"/>
<rect x="880.0" y="804.7" width="10" height="10" fill="#f0189a"/>
<path d="M881.0,805.7 L889.0,813.7 M889.0,805.7 L881.0,813.7" stroke="#ffd0f0" stroke-width="0.8"/>
<rect x="887.8" y="794.3" width="10" height="10" fill="#f0189a"/>
<path d="M888.8,795.3 L896.8,803.3 M896.8,795.3 L888.8,803.3" stroke="#ffd0f0" stroke-width="0.8"/>
<rect x="895.6" y="810.9" width="10" height="10" fill="#f0189a"/>
<path d="M896.6,811.9 L904.6,819.9 M904.6,811.9 L896.6,819.9" stroke="#ffd0f0" stroke-width="0.8"/>
<rect x="903.3" y="795.5" width="10" height="10" fill="#f0189a"/>
<path d="M904.3,796.5 L912.3,804.5 M912.3,796.5 L904.3,804.5" stroke="#ffd0f0" stroke-width="0.8"/>
<rect x="911.1" y="791.3" width="10" height="10" fill="#f0189a"/>
<path d="M912.1,792.3 L920.1,800.3 M920.1,792.3 L912.1,800.3" stroke="#ffd0f0" stroke-width="0.8"/>
<rect x="918.9" y="792.3" width="10" height="10" fill="#f0189a"/>
<path d="M919.9,793.3 L927.9,801.3 M927.9,793.3 L919.9,801.3" stroke="#ffd0f0" stroke-width="0.8"/>
<rect x="926.7" y="803.5" width="10" height="10" fill="#f0189a"/>
<path d="M927.7,804.5 L935.7,812.5 M935.7,804.5 L927.7,812.5" stroke="#ffd0f0" stroke-width="0.8"/>
<rect x="934.5" y="794.3" width="10" height="10" fill="#f0189a"/>
<path d="M935.5,795.3 L943.5,803.3 M943.5,795.3 L935.5,803.3" stroke="#ffd0f0" stroke-width="0.8"/>
<rect x="942.2" y="800.5" width="10" height="10" fill="#f0189a"/>
<path d="M943.2,801.5 L951.2,809.5 M951.2,801.5 L943.2,809.5" stroke="#ffd0f0" stroke-width="0.8"/>
<rect x="950.0" y="808.6" width="10" height="10" fill="#f0189a"/>
<path d="M951.0,809.6 L959.0,817.6 M959.0,809.6 L951.0,817.6" stroke="#ffd0f0" stroke-width="0.8"/>
<rect x="957.8" y="779.9" width="10" height="10" fill="#f0189a"/>
<path d="M958.8,780.9 L966.8,788.9 M966.8,780.9 L958.8,788.9" stroke="#ffd0f0" stroke-width="0.8"/>
<rect x="965.6" y="811.8" width="10" height="10" fill="#f0189a"/>
<path d="M966.6,812.8 L974.6,820.8 M974.6,812.8 L966.6,820.8" stroke="#ffd0f0" stroke-width="0.8"/>
<rect x="973.4" y="806.7" width="10" height="10" fill="#f0189a"/>
<path d="M974.4,807.7 L982.4,815.7 M982.4,807.7 L974.4,815.7" stroke="#ffd0f0" stroke-width="0.8"/>
<rect x="981.1" y="794.3" width="10" height="10" fill="#f0189a"/>
<path d="M982.1,795.3 L990.1,803.3 M990.1,795.3 L982.1,803.3" stroke="#ffd0f0" stroke-width="0.8"/>
<rect x="988.9" y="799.4" width="10" height="10" fill="#f0189a"/>
<path d="M989.9,800.4 L997.9,808.4 M997.9,800.4 L989.9,808.4" stroke="#ffd0f0" stroke-width="0.8"/>
<rect x="996.7" y="803.5" width="10" height="10" fill="#f0189a"/>
<path d="M997.7,804.5 L1005.7,812.5 M1005.7,804.5 L997.7,812.5" stroke="#ffd0f0" stroke-width="0.8"/>
<rect x="1004.5" y="803.5" width="10" height="10" fill="#f0189a"/>
<path d="M1005.5,804.5 L1013.5,812.5 M1013.5,804.5 L1005.5,812.5" stroke="#ffd0f0" stroke-width="0.8"/>
<rect x="1012.3" y="799.4" width="10" height="10" fill="#f0189a"/>
<path d="M1013.3,800.4 L1021.3,808.4 M1021.3,800.4 L1013.3,808.4" stroke="#ffd0f0" stroke-width="0.8"/>
<rect x="1020.0" y="797.6" width="10" height="10" fill="#f0189a"/>
<path d="M1021.0,798.6 L1029.0,806.6 M1029.0,798.6 L1021.0,806.6" stroke="#ffd0f0" stroke-width="0.8"/>
<rect x="1027.8" y="805.6" width="10" height="10" fill="#f0189a"/>
<path d="M1028.8,806.6 L1036.8,814.6 M1036.8,806.6 L1028.8,814.6" stroke="#ffd0f0" stroke-width="0.8"/>
<rect x="1035.6" y="805.6" width="10" height="10" fill="#f0189a"/>
<path d="M1036.6,806.6 L1044.6,814.6 M1044.6,806.6 L1036.6,814.6" stroke="#ffd0f0" stroke-width="0.8"/>
<rect x="1043.4" y="802.6" width="10" height="10" fill="#f0189a"/>
<path d="M1044.4,803.6 L1052.4,811.6 M1052.4,803.6 L1044.4,811.6" stroke="#ffd0f0" stroke-width="0.8"/>
<rect x="1051.2" y="797.6" width="10" height="10" fill="#f0189a"/>
<path d="M1052.2,798.6 L1060.2,806.6 M1060.2,798.6 L1052.2,806.6" stroke="#ffd0f0" stroke-width="0.8"/>
<rect x="1058.9" y="806.7" width="10" height="10" fill="#f0189a"/>
<path d="M1059.9,807.7 L1067.9,815.7 M1067.9,807.7 L1059.9,815.7" stroke="#ffd0f0" stroke-width="0.8"/>
<rect x="1066.7" y="788.1" width="10" height="10" fill="#f0189a"/>
<path d="M1067.7,789.1 L1075.7,797.1 M1075.7,789.1 L1067.7,797.1" stroke="#ffd0f0" stroke-width="0.8"/>
<rect x="1074.5" y="785.1" width="10" height="10" fill="#f0189a"/>
<path d="M1075.5,786.1 L1083.5,794.1 M1083.5,786.1 L1075.5,794.1" stroke="#ffd0f0" stroke-width="0.8"/>
<rect x="1082.3" y="804.7" width="10" height="10" fill="#f0189a"/>
<path d="M1083.3,805.7 L1091.3,813.7 M1091.3,805.7 L1083.3,813.7" stroke="#ffd0f0" stroke-width="0.8"/>
<rect x="1090.1" y="800.5" width="10" height="10" fill="#f0189a"/>
<path d="M1091.1,801.5 L1099.1,809.5 M1099.1,801.5 L1091.1,809.5" stroke="#ffd0f0" stroke-width="0.8"/>
<rect x="1097.8" y="785.1" width="10" height="10" fill="#f0189a"/>
<path d="M1098.8,786.1 L1106.8,794.1 M1106.8,786.1 L1098.8,794.1" stroke="#ffd0f0" stroke-width="0.8"/>
<rect x="1105.6" y="801.7" width="10" height="10" fill="#f0189a"/>
<path d="M1106.6,802.7 L1114.6,810.7 M1114.6,802.7 L1106.6,810.7" stroke="#ffd0f0" stroke-width="0.8"/>
<rect x="1113.4" y="802.6" width="10" height="10" fill="#f0189a"/>
<path d="M1114.4,803.6 L1122.4,811.6 M1122.4,803.6 L1114.4,811.6" stroke="#ffd0f0" stroke-width="0.8"/>
<rect x="1121.2" y="807.7" width="10" height="10" fill="#f0189a"/>
<path d="M1122.2,808.7 L1130.2,816.7 M1130.2,808.7 L1122.2,816.7" stroke="#ffd0f0" stroke-width="0.8"/>
<rect x="1129.0" y="813.9" width="10" height="10" fill="#f0189a"/>
<path d="M1130.0,814.9 L1138.0,822.9 M1138.0,814.9 L1130.0,822.9" stroke="#ffd0f0" stroke-width="0.8"/>
<rect x="1136.7" y="806.7" width="10" height="10" fill="#f0189a"/>
<path d="M1137.7,807.7 L1145.7,815.7 M1145.7,807.7 L1137.7,815.7" stroke="#ffd0f0" stroke-width="0.8"/>
<rect x="1144.5" y="806.7" width="10" height="10" fill="#f0189a"/>
<path d="M1145.5,807.7 L1153.5,815.7 M1153.5,807.7 L1145.5,815.7" stroke="#ffd0f0" stroke-width="0.8"/>
<rect x="1152.3" y="790.2" width="10" height="10" fill="#f0189a"/>
<path d="M1153.3,791.2 L1161.3,799.2 M1161.3,791.2 L1153.3,799.2" stroke="#ffd0f0" stroke-width="0.8"/>
<rect x="1160.1" y="801.7" width="10" height="10" fill="#f0189a"/>
<path d="M1161.1,802.7 L1169.1,810.7 M1169.1,802.7 L1161.1,810.7" stroke="#ffd0f0" stroke-width="0.8"/>
<rect x="1167.9" y="801.7" width="10" height="10" fill="#f0189a"/>
<path d="M1168.9,802.7 L1176.9,810.7 M1176.9,802.7 L1168.9,810.7" stroke="#ffd0f0" stroke-width="0.8"/>
<rect x="1175.6" y="804.7" width="10" height="10" fill="#f0189a"/>
<path d="M1176.6,805.7 L1184.6,813.7 M1184.6,805.7 L1176.6,813.7" stroke="#ffd0f0" stroke-width="0.8"/>
<polyline points="496.0,885.9 503.8,885.9 511.6,885.9 519.3,885.9 527.1,885.9 534.9,885.9 542.7,885.9 550.5,885.9 558.2,885.9 566.0,885.9 573.8,885.9 581.6,885.9 589.4,885.9 597.1,885.9 604.9,885.9 612.7,885.9 620.5,885.9 628.3,885.9 636.0,885.9 643.8,885.9 651.6,874.0 659.4,885.9 667.2,885.9 674.9,885.9 682.7,885.9 690.5,885.9 698.3,885.9 706.1,873.1 713.8,885.9 721.6,885.9 729.4,885.9 737.2,885.9 745.0,885.9 752.7,880.7 760.5,885.9 768.3,885.9 776.1,885.9 783.9,885.9 791.6,885.9 799.4,885.9 807.2,885.9 815.0,872.2 822.8,885.9 830.5,885.9 838.3,885.9 846.1,876.3 853.9,885.9 861.7,885.9 869.4,885.9 877.2,885.9 885.0,885.9 892.8,885.9 900.6,885.9 908.3,885.9 916.1,879.3 923.9,885.9 931.7,863.9 939.5,885.9 947.2,885.9 955.0,885.9 962.8,885.9 970.6,885.9 978.4,885.9 986.1,885.9 993.9,885.9 1001.7,885.9 1009.5,885.9 1017.3,885.9 1025.0,885.9 1032.8,885.9 1040.6,885.9 1048.4,880.5 1056.2,885.9 1063.9,885.9 1071.7,885.9 1079.5,885.9 1087.3,885.9 1095.1,885.9 1102.8,875.2 1110.6,885.9 1118.4,885.9 1126.2,885.9 1134.0,885.9 1141.7,885.9 1149.5,885.9 1157.3,885.9 1165.1,885.9 1172.9,885.9 1180.6,880.7" fill="none" stroke="#18d0f0" stroke-width="4.6" stroke-linejoin="round" />
<circle cx="496.0" cy="885.9" r="3.3" fill="#26c4ee"/>
<circle cx="503.8" cy="885.9" r="3.3" fill="#26c4ee"/>
<circle cx="511.6" cy="885.9" r="3.3" fill="#26c4ee"/>
<circle cx="519.3" cy="885.9" r="3.3" fill="#26c4ee"/>
<circle cx="527.1" cy="885.9" r="3.3" fill="#26c4ee"/>
<circle cx="534.9" cy="885.9" r="3.3" fill="#26c4ee"/>
<circle cx="542.7" cy="885.9" r="3.3" fill="#26c4ee"/>
<circle cx="550.5" cy="885.9" r="3.3" fill="#26c4ee"/>
<circle cx="558.2" cy="885.9" r="3.3" fill="#26c4ee"/>
<circle cx="566.0" cy="885.9" r="3.3" fill="#26c4ee"/>
<circle cx="573.8" cy="885.9" r="3.3" fill="#26c4ee"/>
<circle cx="581.6" cy="885.9" r="3.3" fill="#26c4ee"/>
<circle cx="589.4" cy="885.9" r="3.3" fill="#26c4ee"/>
<circle cx="597.1" cy="885.9" r="3.3" fill="#26c4ee"/>
<circle cx="604.9" cy="885.9" r="3.3" fill="#26c4ee"/>
<circle cx="612.7" cy="885.9" r="3.3" fill="#26c4ee"/>
<circle cx="620.5" cy="885.9" r="3.3" fill="#26c4ee"/>
<circle cx="628.3" cy="885.9" r="3.3" fill="#26c4ee"/>
<circle cx="636.0" cy="885.9" r="3.3" fill="#26c4ee"/>
<circle cx="643.8" cy="885.9" r="3.3" fill="#26c4ee"/>
<circle cx="651.6" cy="874.0" r="3.3" fill="#26c4ee"/>
<circle cx="659.4" cy="885.9" r="3.3" fill="#26c4ee"/>
<circle cx="667.2" cy="885.9" r="3.3" fill="#26c4ee"/>
<circle cx="674.9" cy="885.9" r="3.3" fill="#26c4ee"/>
<circle cx="682.7" cy="885.9" r="3.3" fill="#26c4ee"/>
<circle cx="690.5" cy="885.9" r="3.3" fill="#26c4ee"/>
<circle cx="698.3" cy="885.9" r="3.3" fill="#26c4ee"/>
<circle cx="706.1" cy="873.1" r="3.3" fill="#26c4ee"/>
<circle cx="713.8" cy="885.9" r="3.3" fill="#26c4ee"/>
<circle cx="721.6" cy="885.9" r="3.3" fill="#26c4ee"/>
<circle cx="729.4" cy="885.9" r="3.3" fill="#26c4ee"/>
<circle cx="737.2" cy="885.9" r="3.3" fill="#26c4ee"/>
<circle cx="745.0" cy="885.9" r="3.3" fill="#26c4ee"/>
<circle cx="752.7" cy="880.7" r="3.3" fill="#26c4ee"/>
<circle cx="760.5" cy="885.9" r="3.3" fill="#26c4ee"/>
<circle cx="768.3" cy="885.9" r="3.3" fill="#26c4ee"/>
<circle cx="776.1" cy="885.9" r="3.3" fill="#26c4ee"/>
<circle cx="783.9" cy="885.9" r="3.3" fill="#26c4ee"/>
<circle cx="791.6" cy="885.9" r="3.3" fill="#26c4ee"/>
<circle cx="799.4" cy="885.9" r="3.3" fill="#26c4ee"/>
<circle cx="807.2" cy="885.9" r="3.3" fill="#26c4ee"/>
<circle cx="815.0" cy="872.2" r="3.3" fill="#26c4ee"/>
<circle cx="822.8" cy="885.9" r="3.3" fill="#26c4ee"/>
<circle cx="830.5" cy="885.9" r="3.3" fill="#26c4ee"/>
<circle cx="838.3" cy="885.9" r="3.3" fill="#26c4ee"/>
<circle cx="846.1" cy="876.3" r="3.3" fill="#26c4ee"/>
<circle cx="853.9" cy="885.9" r="3.3" fill="#26c4ee"/>
<circle cx="861.7" cy="885.9" r="3.3" fill="#26c4ee"/>
<circle cx="869.4" cy="885.9" r="3.3" fill="#26c4ee"/>
<circle cx="877.2" cy="885.9" r="3.3" fill="#26c4ee"/>
<circle cx="885.0" cy="885.9" r="3.3" fill="#26c4ee"/>
<circle cx="892.8" cy="885.9" r="3.3" fill="#26c4ee"/>
<circle cx="900.6" cy="885.9" r="3.3" fill="#26c4ee"/>
<circle cx="908.3" cy="885.9" r="3.3" fill="#26c4ee"/>
<circle cx="916.1" cy="879.3" r="3.3" fill="#26c4ee"/>
<circle cx="923.9" cy="885.9" r="3.3" fill="#26c4ee"/>
<circle cx="931.7" cy="863.9" r="3.3" fill="#26c4ee"/>
<circle cx="939.5" cy="885.9" r="3.3" fill="#26c4ee"/>
<circle cx="947.2" cy="885.9" r="3.3" fill="#26c4ee"/>
<circle cx="955.0" cy="885.9" r="3.3" fill="#26c4ee"/>
<circle cx="962.8" cy="885.9" r="3.3" fill="#26c4ee"/>
<circle cx="970.6" cy="885.9" r="3.3" fill="#26c4ee"/>
<circle cx="978.4" cy="885.9" r="3.3" fill="#26c4ee"/>
<circle cx="986.1" cy="885.9" r="3.3" fill="#26c4ee"/>
<circle cx="993.9" cy="885.9" r="3.3" fill="#26c4ee"/>
<circle cx="1001.7" cy="885.9" r="3.3" fill="#26c4ee"/>
<circle cx="1009.5" cy="885.9" r="3.3" fill="#26c4ee"/>
<circle cx="1017.3" cy="885.9" r="3.3" fill="#26c4ee"/>
<circle cx="1025.0" cy="885.9" r="3.3" fill="#26c4ee"/>
<circle cx="1032.8" cy="885.9" r="3.3" fill="#26c4ee"/>
<circle cx="1040.6" cy="885.9" r="3.3" fill="#26c4ee"/>
<circle cx="1048.4" cy="880.5" r="3.3" fill="#26c4ee"/>
<circle cx="1056.2" cy="885.9" r="3.3" fill="#26c4ee"/>
<circle cx="1063.9" cy="885.9" r="3.3" fill="#26c4ee"/>
<circle cx="1071.7" cy="885.9" r="3.3" fill="#26c4ee"/>
<circle cx="1079.5" cy="885.9" r="3.3" fill="#26c4ee"/>
<circle cx="1087.3" cy="885.9" r="3.3" fill="#26c4ee"/>
<circle cx="1095.1" cy="885.9" r="3.3" fill="#26c4ee"/>
<circle cx="1102.8" cy="875.2" r="3.3" fill="#26c4ee"/>
<circle cx="1110.6" cy="885.9" r="3.3" fill="#26c4ee"/>
<circle cx="1118.4" cy="885.9" r="3.3" fill="#26c4ee"/>
<circle cx="1126.2" cy="885.9" r="3.3" fill="#26c4ee"/>
<circle cx="1134.0" cy="885.9" r="3.3" fill="#26c4ee"/>
<circle cx="1141.7" cy="885.9" r="3.3" fill="#26c4ee"/>
<circle cx="1149.5" cy="885.9" r="3.3" fill="#26c4ee"/>
<circle cx="1157.3" cy="885.9" r="3.3" fill="#26c4ee"/>
<circle cx="1165.1" cy="885.9" r="3.3" fill="#26c4ee"/>
<circle cx="1172.9" cy="885.9" r="3.3" fill="#26c4ee"/>
<circle cx="1180.6" cy="880.7" r="3.3" fill="#26c4ee"/>
<polyline points="496.0,868.8 503.8,873.3 511.6,860.0 519.3,874.7 527.1,884.8 534.9,877.5 542.7,873.3 550.5,885.3 558.2,860.0 566.0,868.8 573.8,885.3 581.6,875.4 589.4,884.2 597.1,873.3 604.9,884.8 612.7,872.9 620.5,868.1 628.3,870.1 636.0,869.4 643.8,814.5 651.6,786.5 659.4,776.1 667.2,760.5 674.9,764.2 682.7,758.7 690.5,755.0 698.3,756.8 706.1,765.1 713.8,780.0 721.6,749.5 729.4,759.6 737.2,758.7 745.0,755.0 752.7,767.8 760.5,772.4 768.3,744.9 776.1,741.2 783.9,764.2 791.6,760.5 799.4,771.5 807.2,731.8 815.0,738.4 822.8,733.6 830.5,741.9 838.3,728.5 846.1,731.8 853.9,739.8 861.7,736.8 869.4,732.7 877.2,731.8 885.0,731.8 892.8,749.0 900.6,728.5 908.3,746.0 916.1,752.2 923.9,741.9 931.7,764.4 939.5,742.8 947.2,774.7 955.0,739.8 962.8,759.3 970.6,746.9 978.4,741.0 986.1,749.0 993.9,738.9 1001.7,735.2 1009.5,739.3 1017.3,742.8 1025.0,748.1 1032.8,735.7 1040.6,742.8 1048.4,738.9 1056.2,746.0 1063.9,739.8 1071.7,746.9 1079.5,749.0 1087.3,730.6 1095.1,748.1 1102.8,766.5 1110.6,758.2 1118.4,738.9 1126.2,730.6 1134.0,752.2 1141.7,751.1 1149.5,770.6 1157.3,774.7 1165.1,737.7 1172.9,735.7 1180.6,732.7" fill="none" stroke="#10c060" stroke-width="2.2" stroke-linejoin="round" />
<circle cx="496.0" cy="868.8" r="5" fill="#10c463"/>
<circle cx="503.8" cy="873.3" r="5" fill="#10c463"/>
<circle cx="511.6" cy="860.0" r="5" fill="#10c463"/>
<circle cx="519.3" cy="874.7" r="5" fill="#10c463"/>
<circle cx="527.1" cy="884.8" r="5" fill="#10c463"/>
<circle cx="534.9" cy="877.5" r="5" fill="#10c463"/>
<circle cx="542.7" cy="873.3" r="5" fill="#10c463"/>
<circle cx="550.5" cy="885.3" r="5" fill="#10c463"/>
<circle cx="558.2" cy="860.0" r="5" fill="#10c463"/>
<circle cx="566.0" cy="868.8" r="5" fill="#10c463"/>
<circle cx="573.8" cy="885.3" r="5" fill="#10c463"/>
<circle cx="581.6" cy="875.4" r="5" fill="#10c463"/>
<circle cx="589.4" cy="884.2" r="5" fill="#10c463"/>
<circle cx="597.1" cy="873.3" r="5" fill="#10c463"/>
<circle cx="604.9" cy="884.8" r="5" fill="#10c463"/>
<circle cx="612.7" cy="872.9" r="5" fill="#10c463"/>
<circle cx="620.5" cy="868.1" r="5" fill="#10c463"/>
<circle cx="628.3" cy="870.1" r="5" fill="#10c463"/>
<circle cx="636.0" cy="869.4" r="5" fill="#10c463"/>
<circle cx="643.8" cy="814.5" r="5" fill="#10c463"/>
<circle cx="651.6" cy="786.5" r="5" fill="#10c463"/>
<circle cx="659.4" cy="776.1" r="5" fill="#10c463"/>
<circle cx="667.2" cy="760.5" r="5" fill="#10c463"/>
<circle cx="674.9" cy="764.2" r="5" fill="#10c463"/>
<circle cx="682.7" cy="758.7" r="5" fill="#10c463"/>
<circle cx="690.5" cy="755.0" r="5" fill="#10c463"/>
<circle cx="698.3" cy="756.8" r="5" fill="#10c463"/>
<circle cx="706.1" cy="765.1" r="5" fill="#10c463"/>
<circle cx="713.8" cy="780.0" r="5" fill="#10c463"/>
<circle cx="721.6" cy="749.5" r="5" fill="#10c463"/>
<circle cx="729.4" cy="759.6" r="5" fill="#10c463"/>
<circle cx="737.2" cy="758.7" r="5" fill="#10c463"/>
<circle cx="745.0" cy="755.0" r="5" fill="#10c463"/>
<circle cx="752.7" cy="767.8" r="5" fill="#10c463"/>
<circle cx="760.5" cy="772.4" r="5" fill="#10c463"/>
<circle cx="768.3" cy="744.9" r="5" fill="#10c463"/>
<circle cx="776.1" cy="741.2" r="5" fill="#10c463"/>
<circle cx="783.9" cy="764.2" r="5" fill="#10c463"/>
<circle cx="791.6" cy="760.5" r="5" fill="#10c463"/>
<circle cx="799.4" cy="771.5" r="5" fill="#10c463"/>
<circle cx="807.2" cy="731.8" r="5" fill="#10c463"/>
<circle cx="815.0" cy="738.4" r="5" fill="#10c463"/>
<circle cx="822.8" cy="733.6" r="5" fill="#10c463"/>
<circle cx="830.5" cy="741.9" r="5" fill="#10c463"/>
<circle cx="838.3" cy="728.5" r="5" fill="#10c463"/>
<circle cx="846.1" cy="731.8" r="5" fill="#10c463"/>
<circle cx="853.9" cy="739.8" r="5" fill="#10c463"/>
<circle cx="861.7" cy="736.8" r="5" fill="#10c463"/>
<circle cx="869.4" cy="732.7" r="5" fill="#10c463"/>
<circle cx="877.2" cy="731.8" r="5" fill="#10c463"/>
<circle cx="885.0" cy="731.8" r="5" fill="#10c463"/>
<circle cx="892.8" cy="749.0" r="5" fill="#10c463"/>
<circle cx="900.6" cy="728.5" r="5" fill="#10c463"/>
<circle cx="908.3" cy="746.0" r="5" fill="#10c463"/>
<circle cx="916.1" cy="752.2" r="5" fill="#10c463"/>
<circle cx="923.9" cy="741.9" r="5" fill="#10c463"/>
<circle cx="931.7" cy="764.4" r="5" fill="#10c463"/>
<circle cx="939.5" cy="742.8" r="5" fill="#10c463"/>
<circle cx="947.2" cy="774.7" r="5" fill="#10c463"/>
<circle cx="955.0" cy="739.8" r="5" fill="#10c463"/>
<circle cx="962.8" cy="759.3" r="5" fill="#10c463"/>
<circle cx="970.6" cy="746.9" r="5" fill="#10c463"/>
<circle cx="978.4" cy="741.0" r="5" fill="#10c463"/>
<circle cx="986.1" cy="749.0" r="5" fill="#10c463"/>
<circle cx="993.9" cy="738.9" r="5" fill="#10c463"/>
<circle cx="1001.7" cy="735.2" r="5" fill="#10c463"/>
<circle cx="1009.5" cy="739.3" r="5" fill="#10c463"/>
<circle cx="1017.3" cy="742.8" r="5" fill="#10c463"/>
<circle cx="1025.0" cy="748.1" r="5" fill="#10c463"/>
<circle cx="1032.8" cy="735.7" r="5" fill="#10c463"/>
<circle cx="1040.6" cy="742.8" r="5" fill="#10c463"/>
<circle cx="1048.4" cy="738.9" r="5" fill="#10c463"/>
<circle cx="1056.2" cy="746.0" r="5" fill="#10c463"/>
<circle cx="1063.9" cy="739.8" r="5" fill="#10c463"/>
<circle cx="1071.7" cy="746.9" r="5" fill="#10c463"/>
<circle cx="1079.5" cy="749.0" r="5" fill="#10c463"/>
<circle cx="1087.3" cy="730.6" r="5" fill="#10c463"/>
<circle cx="1095.1" cy="748.1" r="5" fill="#10c463"/>
<circle cx="1102.8" cy="766.5" r="5" fill="#10c463"/>
<circle cx="1110.6" cy="758.2" r="5" fill="#10c463"/>
<circle cx="1118.4" cy="738.9" r="5" fill="#10c463"/>
<circle cx="1126.2" cy="730.6" r="5" fill="#10c463"/>
<circle cx="1134.0" cy="752.2" r="5" fill="#10c463"/>
<circle cx="1141.7" cy="751.1" r="5" fill="#10c463"/>
<circle cx="1149.5" cy="770.6" r="5" fill="#10c463"/>
<circle cx="1157.3" cy="774.7" r="5" fill="#10c463"/>
<circle cx="1165.1" cy="737.7" r="5" fill="#10c463"/>
<circle cx="1172.9" cy="735.7" r="5" fill="#10c463"/>
<circle cx="1180.6" cy="732.7" r="5" fill="#10c463"/>
<line x1="813.7" y1="681.5" x2="834.3" y2="681.5" stroke="#ffc000" stroke-width="2.2" />
<rect x="819.0" y="676.5" width="10" height="10" fill="#ffc000"/>
<path d="M820.0,677.5 L828.0,685.5 M828.0,677.5 L820.0,685.5 M824.0,677.0 L824.0,686.0" stroke="#000" stroke-width="0.9"/>
<text x="836.2" y="687.5" font-family="Liberation Sans, sans-serif" font-size="17" fill="#000" textLength="21" lengthAdjust="spacingAndGlyphs" >Ag</text>
<line x1="878.6" y1="681.5" x2="899.7" y2="681.5" stroke="#0000ff" stroke-width="2.2" />
<rect x="885.1500000000001" y="677.5" width="8" height="8" fill="#0000ff"/>
<text x="901.2" y="687.5" font-family="Liberation Sans, sans-serif" font-size="17" fill="#000" textLength="15.5" lengthAdjust="spacingAndGlyphs" >Ni</text>
<line x1="938" y1="681.5" x2="958.9" y2="681.5" stroke="#ff1a68" stroke-width="2.2" />
<polygon points="948.45,676.5 953.45,681.5 948.45,686.5 943.45,681.5" fill="#ff1a68"/>
<text x="960.5" y="687.5" font-family="Liberation Sans, sans-serif" font-size="17" fill="#000" textLength="20.5" lengthAdjust="spacingAndGlyphs" >Zn</text>
<line x1="1002.1" y1="681.5" x2="1022.7" y2="681.5" stroke="#f0189a" stroke-width="2.2" />
<rect x="1007.6000000000001" y="676.7" width="9.6" height="9.6" fill="#f0189a"/>
<path d="M1008.6000000000001,677.7 L1016.2,685.3 M1016.2,677.7 L1008.6000000000001,685.3" stroke="#ffd0f0" stroke-width="0.8"/>
<text x="1023.8" y="687.5" font-family="Liberation Sans, sans-serif" font-size="17" fill="#000" textLength="22" lengthAdjust="spacingAndGlyphs" >Sn</text>
<line x1="1066.2" y1="681.5" x2="1087.6" y2="681.5" stroke="#12cdf0" stroke-width="2.2" />
<circle cx="1076.9" cy="681.5" r="4" fill="#12cdf0"/>
<text x="1089.3" y="687.5" font-family="Liberation Sans, sans-serif" font-size="17" fill="#000" textLength="9.5" lengthAdjust="spacingAndGlyphs" >F</text>
<line x1="1120.9" y1="681.5" x2="1141.5" y2="681.5" stroke="#10c060" stroke-width="2.2" />
<circle cx="1131.2" cy="681.5" r="5.1" fill="#10c463"/>
<text x="1142.3" y="687.5" font-family="Liberation Sans, sans-serif" font-size="17" fill="#000" textLength="12.8" lengthAdjust="spacingAndGlyphs" >O</text></svg></body></html>
